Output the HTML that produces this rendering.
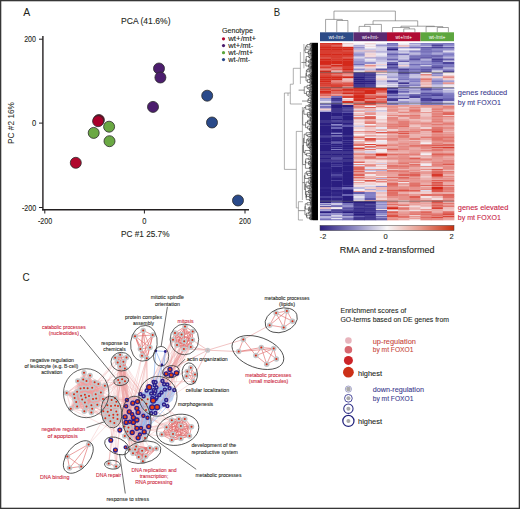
<!DOCTYPE html>
<html><head><meta charset="utf-8"><title>Figure</title>
<style>
html,body{margin:0;padding:0;background:#fff;}
body{width:520px;height:509px;overflow:hidden;}
svg{display:block;font-family:"Liberation Sans", sans-serif;}
</style></head><body>
<svg width="520" height="509" viewBox="0 0 520 509">
<rect x="0" y="0" width="520" height="509" fill="#fff"/>
<text x="23.20" y="15.70" font-size="11.5" fill="#231f20" text-anchor="start" textLength="7.00" lengthAdjust="spacingAndGlyphs">A</text>
<text x="121.00" y="24.30" font-size="9.6" fill="#231f20" text-anchor="start" textLength="49.50" lengthAdjust="spacingAndGlyphs" stroke="#231f20" stroke-width="0.1">PCA (41.6%)</text>
<line x1="42.90" y1="36.00" x2="42.90" y2="210.50" stroke="#231f20" stroke-width="1.4"/>
<line x1="42.20" y1="209.80" x2="249.00" y2="209.80" stroke="#231f20" stroke-width="1.4"/>
<line x1="39.00" y1="39.20" x2="42.90" y2="39.20" stroke="#231f20" stroke-width="1.0"/>
<line x1="39.00" y1="123.10" x2="42.90" y2="123.10" stroke="#231f20" stroke-width="1.0"/>
<line x1="39.00" y1="207.50" x2="42.90" y2="207.50" stroke="#231f20" stroke-width="1.0"/>
<line x1="44.80" y1="209.80" x2="44.80" y2="213.50" stroke="#231f20" stroke-width="1.0"/>
<line x1="144.40" y1="209.80" x2="144.40" y2="213.50" stroke="#231f20" stroke-width="1.0"/>
<line x1="245.00" y1="209.80" x2="245.00" y2="213.50" stroke="#231f20" stroke-width="1.0"/>
<text x="36.00" y="42.00" font-size="8.4" fill="#231f20" text-anchor="end" textLength="11.80" lengthAdjust="spacingAndGlyphs" stroke="#231f20" stroke-width="0.1">200</text>
<text x="36.20" y="126.00" font-size="8.4" fill="#231f20" text-anchor="end" textLength="4.20" lengthAdjust="spacingAndGlyphs" stroke="#231f20" stroke-width="0.1">0</text>
<text x="36.20" y="210.60" font-size="8.4" fill="#231f20" text-anchor="end" textLength="14.20" lengthAdjust="spacingAndGlyphs" stroke="#231f20" stroke-width="0.1">-200</text>
<text x="45.00" y="224.00" font-size="8.4" fill="#231f20" text-anchor="middle" textLength="14.20" lengthAdjust="spacingAndGlyphs" stroke="#231f20" stroke-width="0.1">-200</text>
<text x="144.40" y="224.00" font-size="8.4" fill="#231f20" text-anchor="middle" textLength="4.20" lengthAdjust="spacingAndGlyphs" stroke="#231f20" stroke-width="0.1">0</text>
<text x="245.00" y="224.00" font-size="8.4" fill="#231f20" text-anchor="middle" textLength="11.80" lengthAdjust="spacingAndGlyphs" stroke="#231f20" stroke-width="0.1">200</text>
<text x="121.00" y="237.00" font-size="9.4" fill="#231f20" text-anchor="start" textLength="48.50" lengthAdjust="spacingAndGlyphs" stroke="#231f20" stroke-width="0.1">PC #1 25.7%</text>
<text x="0" y="0" font-size="9.4" fill="#231f20" transform="translate(14.1,144.0) rotate(-90)" textLength="42" lengthAdjust="spacingAndGlyphs">PC #2 16%</text>
<text x="221.90" y="32.50" font-size="6.8" fill="#231f20" text-anchor="start" textLength="31.00" lengthAdjust="spacingAndGlyphs" stroke="#231f20" stroke-width="0.1">Genotype</text>
<circle cx="223.50" cy="38.80" r="1.60" fill="#b0072d" stroke="none" stroke-width="0"/>
<text x="228.20" y="41.20" font-size="7.0" fill="#231f20" text-anchor="start" textLength="28.00" lengthAdjust="spacingAndGlyphs" stroke="#231f20" stroke-width="0.1">wt+/mt+</text>
<circle cx="223.50" cy="45.60" r="1.60" fill="#4a1a6b" stroke="none" stroke-width="0"/>
<text x="228.20" y="48.00" font-size="7.0" fill="#231f20" text-anchor="start" textLength="25.00" lengthAdjust="spacingAndGlyphs" stroke="#231f20" stroke-width="0.1">wt+/mt-</text>
<circle cx="223.50" cy="52.70" r="1.60" fill="#5aa63c" stroke="none" stroke-width="0"/>
<text x="228.20" y="55.10" font-size="7.0" fill="#231f20" text-anchor="start" textLength="25.00" lengthAdjust="spacingAndGlyphs" stroke="#231f20" stroke-width="0.1">wt-/mt+</text>
<circle cx="223.50" cy="59.60" r="1.60" fill="#2a4a8a" stroke="none" stroke-width="0"/>
<text x="228.20" y="62.00" font-size="7.0" fill="#231f20" text-anchor="start" textLength="22.00" lengthAdjust="spacingAndGlyphs" stroke="#231f20" stroke-width="0.1">wt-/mt-</text>
<circle cx="98.90" cy="120.00" r="5.50" fill="#7e0020" stroke="#2b2b2b" stroke-width="0.8"/>
<circle cx="98.10" cy="121.20" r="5.50" fill="#a8002a" stroke="#2b2b2b" stroke-width="0.8"/>
<circle cx="75.80" cy="162.80" r="5.50" fill="#b0072d" stroke="#2b2b2b" stroke-width="0.8"/>
<circle cx="109.10" cy="126.70" r="5.50" fill="#6aa843" stroke="#2b2b2b" stroke-width="0.8"/>
<circle cx="93.70" cy="132.90" r="5.50" fill="#6aa843" stroke="#2b2b2b" stroke-width="0.8"/>
<circle cx="109.50" cy="141.20" r="5.50" fill="#6aa843" stroke="#2b2b2b" stroke-width="0.8"/>
<circle cx="159.00" cy="68.50" r="5.50" fill="#4c1d6e" stroke="#2b2b2b" stroke-width="0.8"/>
<circle cx="160.40" cy="77.50" r="5.50" fill="#4c1d6e" stroke="#2b2b2b" stroke-width="0.8"/>
<circle cx="153.00" cy="106.90" r="5.50" fill="#4c1d6e" stroke="#2b2b2b" stroke-width="0.8"/>
<circle cx="207.20" cy="95.70" r="5.50" fill="#2a4a8a" stroke="#2b2b2b" stroke-width="0.8"/>
<circle cx="212.00" cy="122.50" r="5.50" fill="#2a4a8a" stroke="#2b2b2b" stroke-width="0.8"/>
<circle cx="238.00" cy="200.50" r="5.50" fill="#2a4a8a" stroke="#2b2b2b" stroke-width="0.8"/>
<text x="273.80" y="15.80" font-size="11.5" fill="#231f20" text-anchor="start" textLength="6.40" lengthAdjust="spacingAndGlyphs">B</text>
<path d="M336.75,32.30V20.50H347.92V32.30" fill="none" stroke="#666666" stroke-width="0.6"/>
<path d="M325.58,32.30V19.40H342.33V20.50" fill="none" stroke="#666666" stroke-width="0.6"/>
<path d="M359.08,32.30V26.40H370.25V32.30" fill="none" stroke="#666666" stroke-width="0.6"/>
<path d="M364.67,26.40V24.40H381.42V32.30" fill="none" stroke="#666666" stroke-width="0.6"/>
<path d="M403.75,32.30V28.90H414.92V32.30" fill="none" stroke="#666666" stroke-width="0.6"/>
<path d="M392.58,32.30V27.50H409.33V28.90" fill="none" stroke="#666666" stroke-width="0.6"/>
<path d="M437.25,32.30V27.50H448.42V32.30" fill="none" stroke="#666666" stroke-width="0.6"/>
<path d="M426.08,32.30V26.60H442.83V27.50" fill="none" stroke="#666666" stroke-width="0.6"/>
<path d="M400.96,27.50V26.20H434.46V26.60" fill="none" stroke="#666666" stroke-width="0.6"/>
<path d="M373.04,24.40V20.80H417.71V26.20" fill="none" stroke="#666666" stroke-width="0.6"/>
<path d="M333.96,19.40V11.10H395.38V20.80" fill="none" stroke="#666666" stroke-width="0.6"/>
<rect x="320.00" y="32.3" width="33.50" height="8.9" fill="#2c4b87"/>
<text x="336.75" y="39.00" font-size="5.2" fill="#ffffff" text-anchor="middle" textLength="16.50" lengthAdjust="spacingAndGlyphs" stroke="none">wt-/mt-</text>
<rect x="353.50" y="32.3" width="33.50" height="8.9" fill="#5b2a72"/>
<text x="370.25" y="39.00" font-size="5.2" fill="#ffffff" text-anchor="middle" textLength="16.50" lengthAdjust="spacingAndGlyphs" stroke="none">wt+/mt-</text>
<rect x="387.00" y="32.3" width="33.50" height="8.9" fill="#b00c34"/>
<text x="403.75" y="39.00" font-size="5.2" fill="#ffffff" text-anchor="middle" textLength="16.50" lengthAdjust="spacingAndGlyphs" stroke="none">wt+/mt+</text>
<rect x="420.50" y="32.3" width="33.50" height="8.9" fill="#5da63f"/>
<text x="437.25" y="39.00" font-size="5.2" fill="#ffffff" text-anchor="middle" textLength="16.50" lengthAdjust="spacingAndGlyphs" stroke="none">wt-/mt+</text>
<rect x="320.00" y="43.00" width="11.47" height="1.80" fill="#d63427"/>
<rect x="331.17" y="43.00" width="11.47" height="1.80" fill="#d4281a"/>
<rect x="342.33" y="43.00" width="11.47" height="1.80" fill="#efc9c9"/>
<rect x="353.50" y="43.00" width="11.47" height="1.80" fill="#f6f1f5"/>
<rect x="364.67" y="43.00" width="11.47" height="1.80" fill="#f1d4d5"/>
<rect x="375.83" y="43.00" width="11.47" height="1.80" fill="#ece9f3"/>
<rect x="387.00" y="43.00" width="11.47" height="1.80" fill="#706bb8"/>
<rect x="398.17" y="43.00" width="11.47" height="1.80" fill="#f6f1f5"/>
<rect x="409.33" y="43.00" width="11.47" height="1.80" fill="#9c99d0"/>
<rect x="420.50" y="43.00" width="11.47" height="1.80" fill="#817dc4"/>
<rect x="431.67" y="43.00" width="11.47" height="1.80" fill="#8581c6"/>
<rect x="442.83" y="43.00" width="11.47" height="1.80" fill="#7772bc"/>
<rect x="320.00" y="44.50" width="11.47" height="1.30" fill="#d7382b"/>
<rect x="331.17" y="44.50" width="11.47" height="1.30" fill="#d7392c"/>
<rect x="342.33" y="44.50" width="11.47" height="1.30" fill="#f6f3f7"/>
<rect x="353.50" y="44.50" width="11.47" height="1.30" fill="#dddaec"/>
<rect x="364.67" y="44.50" width="11.47" height="1.30" fill="#f0edf4"/>
<rect x="375.83" y="44.50" width="11.47" height="1.30" fill="#918dcb"/>
<rect x="387.00" y="44.50" width="11.47" height="1.30" fill="#7f7bc3"/>
<rect x="398.17" y="44.50" width="11.47" height="1.30" fill="#e1deee"/>
<rect x="409.33" y="44.50" width="11.47" height="1.30" fill="#e0dded"/>
<rect x="420.50" y="44.50" width="11.47" height="1.30" fill="#8a86c8"/>
<rect x="431.67" y="44.50" width="11.47" height="1.30" fill="#403691"/>
<rect x="442.83" y="44.50" width="11.47" height="1.30" fill="#7f7ac3"/>
<rect x="320.00" y="45.50" width="11.47" height="1.30" fill="#d4281a"/>
<rect x="331.17" y="45.50" width="11.47" height="1.30" fill="#df6960"/>
<rect x="342.33" y="45.50" width="11.47" height="1.30" fill="#f1d6d7"/>
<rect x="353.50" y="45.50" width="11.47" height="1.30" fill="#7c77c0"/>
<rect x="364.67" y="45.50" width="11.47" height="1.30" fill="#f5eef1"/>
<rect x="375.83" y="45.50" width="11.47" height="1.30" fill="#8a86c8"/>
<rect x="387.00" y="45.50" width="11.47" height="1.30" fill="#716bb8"/>
<rect x="398.17" y="45.50" width="11.47" height="1.30" fill="#e89b96"/>
<rect x="409.33" y="45.50" width="11.47" height="1.30" fill="#7a76bf"/>
<rect x="420.50" y="45.50" width="11.47" height="1.30" fill="#8480c6"/>
<rect x="431.67" y="45.50" width="11.47" height="1.30" fill="#332787"/>
<rect x="442.83" y="45.50" width="11.47" height="1.30" fill="#8682c7"/>
<rect x="320.00" y="46.50" width="11.47" height="0.80" fill="#d4281a"/>
<rect x="331.17" y="46.50" width="11.47" height="0.80" fill="#d4281a"/>
<rect x="342.33" y="46.50" width="11.47" height="0.80" fill="#e9a09c"/>
<rect x="353.50" y="46.50" width="11.47" height="0.80" fill="#eae6f2"/>
<rect x="364.67" y="46.50" width="11.47" height="0.80" fill="#f0cfcf"/>
<rect x="375.83" y="46.50" width="11.47" height="0.80" fill="#e0ddee"/>
<rect x="387.00" y="46.50" width="11.47" height="0.80" fill="#c8c4e3"/>
<rect x="398.17" y="46.50" width="11.47" height="0.80" fill="#f4e4e7"/>
<rect x="409.33" y="46.50" width="11.47" height="0.80" fill="#b7b4dc"/>
<rect x="420.50" y="46.50" width="11.47" height="0.80" fill="#e4e1ef"/>
<rect x="431.67" y="46.50" width="11.47" height="0.80" fill="#9894ce"/>
<rect x="442.83" y="46.50" width="11.47" height="0.80" fill="#c7c3e3"/>
<rect x="320.00" y="47.00" width="11.47" height="1.80" fill="#d4281a"/>
<rect x="331.17" y="47.00" width="11.47" height="1.80" fill="#d4281a"/>
<rect x="342.33" y="47.00" width="11.47" height="1.80" fill="#d4281a"/>
<rect x="353.50" y="47.00" width="11.47" height="1.80" fill="#928ecc"/>
<rect x="364.67" y="47.00" width="11.47" height="1.80" fill="#f6f3f7"/>
<rect x="375.83" y="47.00" width="11.47" height="1.80" fill="#d4d1e8"/>
<rect x="387.00" y="47.00" width="11.47" height="1.80" fill="#6b65b4"/>
<rect x="398.17" y="47.00" width="11.47" height="1.80" fill="#9894ce"/>
<rect x="409.33" y="47.00" width="11.47" height="1.80" fill="#716cb8"/>
<rect x="420.50" y="47.00" width="11.47" height="1.80" fill="#5e57a9"/>
<rect x="431.67" y="47.00" width="11.47" height="1.80" fill="#4a4199"/>
<rect x="442.83" y="47.00" width="11.47" height="1.80" fill="#5d56a8"/>
<rect x="320.00" y="48.50" width="11.47" height="2.30" fill="#d4281a"/>
<rect x="331.17" y="48.50" width="11.47" height="2.30" fill="#d4281a"/>
<rect x="342.33" y="48.50" width="11.47" height="2.30" fill="#d4281a"/>
<rect x="353.50" y="48.50" width="11.47" height="2.30" fill="#b9b5dc"/>
<rect x="364.67" y="48.50" width="11.47" height="2.30" fill="#c8c5e3"/>
<rect x="375.83" y="48.50" width="11.47" height="2.30" fill="#d5d2e9"/>
<rect x="387.00" y="48.50" width="11.47" height="2.30" fill="#2c2082"/>
<rect x="398.17" y="48.50" width="11.47" height="2.30" fill="#f0edf5"/>
<rect x="409.33" y="48.50" width="11.47" height="2.30" fill="#ebe8f2"/>
<rect x="420.50" y="48.50" width="11.47" height="2.30" fill="#726db9"/>
<rect x="431.67" y="48.50" width="11.47" height="2.30" fill="#918dcb"/>
<rect x="442.83" y="48.50" width="11.47" height="2.30" fill="#938fcc"/>
<rect x="320.00" y="50.50" width="11.47" height="1.30" fill="#d4281a"/>
<rect x="331.17" y="50.50" width="11.47" height="1.30" fill="#d4281a"/>
<rect x="342.33" y="50.50" width="11.47" height="1.30" fill="#d9463b"/>
<rect x="353.50" y="50.50" width="11.47" height="1.30" fill="#eec4c3"/>
<rect x="364.67" y="50.50" width="11.47" height="1.30" fill="#ecb5b2"/>
<rect x="375.83" y="50.50" width="11.47" height="1.30" fill="#c8c4e3"/>
<rect x="387.00" y="50.50" width="11.47" height="1.30" fill="#9b97d0"/>
<rect x="398.17" y="50.50" width="11.47" height="1.30" fill="#a29ed3"/>
<rect x="409.33" y="50.50" width="11.47" height="1.30" fill="#6f69b6"/>
<rect x="420.50" y="50.50" width="11.47" height="1.30" fill="#6e69b6"/>
<rect x="431.67" y="50.50" width="11.47" height="1.30" fill="#6d67b5"/>
<rect x="442.83" y="50.50" width="11.47" height="1.30" fill="#cfcbe6"/>
<rect x="320.00" y="51.50" width="11.47" height="1.30" fill="#d4281a"/>
<rect x="331.17" y="51.50" width="11.47" height="1.30" fill="#d4281a"/>
<rect x="342.33" y="51.50" width="11.47" height="1.30" fill="#d4281a"/>
<rect x="353.50" y="51.50" width="11.47" height="1.30" fill="#b8b4dc"/>
<rect x="364.67" y="51.50" width="11.47" height="1.30" fill="#afabd8"/>
<rect x="375.83" y="51.50" width="11.47" height="1.30" fill="#9c98d0"/>
<rect x="387.00" y="51.50" width="11.47" height="1.30" fill="#9f9bd1"/>
<rect x="398.17" y="51.50" width="11.47" height="1.30" fill="#c6c3e2"/>
<rect x="409.33" y="51.50" width="11.47" height="1.30" fill="#7e7ac3"/>
<rect x="420.50" y="51.50" width="11.47" height="1.30" fill="#645dae"/>
<rect x="431.67" y="51.50" width="11.47" height="1.30" fill="#6d68b5"/>
<rect x="442.83" y="51.50" width="11.47" height="1.30" fill="#e2dfee"/>
<rect x="320.00" y="52.50" width="11.47" height="1.30" fill="#d4281a"/>
<rect x="331.17" y="52.50" width="11.47" height="1.30" fill="#d63528"/>
<rect x="342.33" y="52.50" width="11.47" height="1.30" fill="#d4281a"/>
<rect x="353.50" y="52.50" width="11.47" height="1.30" fill="#a29ed3"/>
<rect x="364.67" y="52.50" width="11.47" height="1.30" fill="#f1d4d5"/>
<rect x="375.83" y="52.50" width="11.47" height="1.30" fill="#d6d2e9"/>
<rect x="387.00" y="52.50" width="11.47" height="1.30" fill="#8985c8"/>
<rect x="398.17" y="52.50" width="11.47" height="1.30" fill="#d0cce6"/>
<rect x="409.33" y="52.50" width="11.47" height="1.30" fill="#bcb9de"/>
<rect x="420.50" y="52.50" width="11.47" height="1.30" fill="#7773bd"/>
<rect x="431.67" y="52.50" width="11.47" height="1.30" fill="#a9a5d6"/>
<rect x="442.83" y="52.50" width="11.47" height="1.30" fill="#817dc5"/>
<rect x="320.00" y="53.50" width="11.47" height="2.30" fill="#d4281a"/>
<rect x="331.17" y="53.50" width="11.47" height="2.30" fill="#d4281a"/>
<rect x="342.33" y="53.50" width="11.47" height="2.30" fill="#d4281a"/>
<rect x="353.50" y="53.50" width="11.47" height="2.30" fill="#928ecc"/>
<rect x="364.67" y="53.50" width="11.47" height="2.30" fill="#f1d4d5"/>
<rect x="375.83" y="53.50" width="11.47" height="2.30" fill="#ece9f3"/>
<rect x="387.00" y="53.50" width="11.47" height="2.30" fill="#6660b0"/>
<rect x="398.17" y="53.50" width="11.47" height="2.30" fill="#7570bb"/>
<rect x="409.33" y="53.50" width="11.47" height="2.30" fill="#b4b0da"/>
<rect x="420.50" y="53.50" width="11.47" height="2.30" fill="#837fc5"/>
<rect x="431.67" y="53.50" width="11.47" height="2.30" fill="#9e9ad1"/>
<rect x="442.83" y="53.50" width="11.47" height="2.30" fill="#7e7ac3"/>
<rect x="320.00" y="55.50" width="11.47" height="1.30" fill="#d4281a"/>
<rect x="331.17" y="55.50" width="11.47" height="1.30" fill="#d4281a"/>
<rect x="342.33" y="55.50" width="11.47" height="1.30" fill="#d4281a"/>
<rect x="353.50" y="55.50" width="11.47" height="1.30" fill="#918dcb"/>
<rect x="364.67" y="55.50" width="11.47" height="1.30" fill="#f2dadc"/>
<rect x="375.83" y="55.50" width="11.47" height="1.30" fill="#d6d2e9"/>
<rect x="387.00" y="55.50" width="11.47" height="1.30" fill="#918dcb"/>
<rect x="398.17" y="55.50" width="11.47" height="1.30" fill="#f6f2f6"/>
<rect x="409.33" y="55.50" width="11.47" height="1.30" fill="#4c449b"/>
<rect x="420.50" y="55.50" width="11.47" height="1.30" fill="#51499f"/>
<rect x="431.67" y="55.50" width="11.47" height="1.30" fill="#322786"/>
<rect x="442.83" y="55.50" width="11.47" height="1.30" fill="#807cc4"/>
<rect x="320.00" y="56.50" width="11.47" height="1.30" fill="#d4281a"/>
<rect x="331.17" y="56.50" width="11.47" height="1.30" fill="#d4281a"/>
<rect x="342.33" y="56.50" width="11.47" height="1.30" fill="#d7372b"/>
<rect x="353.50" y="56.50" width="11.47" height="1.30" fill="#d4d1e8"/>
<rect x="364.67" y="56.50" width="11.47" height="1.30" fill="#f0cecf"/>
<rect x="375.83" y="56.50" width="11.47" height="1.30" fill="#c3bfe1"/>
<rect x="387.00" y="56.50" width="11.47" height="1.30" fill="#7f7ac3"/>
<rect x="398.17" y="56.50" width="11.47" height="1.30" fill="#9a96cf"/>
<rect x="409.33" y="56.50" width="11.47" height="1.30" fill="#7e7ac3"/>
<rect x="420.50" y="56.50" width="11.47" height="1.30" fill="#7c77c0"/>
<rect x="431.67" y="56.50" width="11.47" height="1.30" fill="#7a76bf"/>
<rect x="442.83" y="56.50" width="11.47" height="1.30" fill="#a8a5d5"/>
<rect x="320.00" y="57.50" width="11.47" height="1.30" fill="#dc554b"/>
<rect x="331.17" y="57.50" width="11.47" height="1.30" fill="#d4281a"/>
<rect x="342.33" y="57.50" width="11.47" height="1.30" fill="#dd5d53"/>
<rect x="353.50" y="57.50" width="11.47" height="1.30" fill="#d3cfe8"/>
<rect x="364.67" y="57.50" width="11.47" height="1.30" fill="#8682c7"/>
<rect x="375.83" y="57.50" width="11.47" height="1.30" fill="#8f8bca"/>
<rect x="387.00" y="57.50" width="11.47" height="1.30" fill="#a8a4d5"/>
<rect x="398.17" y="57.50" width="11.47" height="1.30" fill="#dfdbed"/>
<rect x="409.33" y="57.50" width="11.47" height="1.30" fill="#5f58aa"/>
<rect x="420.50" y="57.50" width="11.47" height="1.30" fill="#3a2f8d"/>
<rect x="431.67" y="57.50" width="11.47" height="1.30" fill="#7873be"/>
<rect x="442.83" y="57.50" width="11.47" height="1.30" fill="#bbb7dd"/>
<rect x="320.00" y="58.50" width="11.47" height="2.30" fill="#d4281a"/>
<rect x="331.17" y="58.50" width="11.47" height="2.30" fill="#d73a2d"/>
<rect x="342.33" y="58.50" width="11.47" height="2.30" fill="#d4281a"/>
<rect x="353.50" y="58.50" width="11.47" height="2.30" fill="#aaa6d6"/>
<rect x="364.67" y="58.50" width="11.47" height="2.30" fill="#ebe8f2"/>
<rect x="375.83" y="58.50" width="11.47" height="2.30" fill="#b5b1db"/>
<rect x="387.00" y="58.50" width="11.47" height="2.30" fill="#6862b1"/>
<rect x="398.17" y="58.50" width="11.47" height="2.30" fill="#b4b0da"/>
<rect x="409.33" y="58.50" width="11.47" height="2.30" fill="#564ea3"/>
<rect x="420.50" y="58.50" width="11.47" height="2.30" fill="#b2afda"/>
<rect x="431.67" y="58.50" width="11.47" height="2.30" fill="#443a94"/>
<rect x="442.83" y="58.50" width="11.47" height="2.30" fill="#625bac"/>
<rect x="320.00" y="60.50" width="11.47" height="1.80" fill="#d4281a"/>
<rect x="331.17" y="60.50" width="11.47" height="1.80" fill="#d4281a"/>
<rect x="342.33" y="60.50" width="11.47" height="1.80" fill="#d4281a"/>
<rect x="353.50" y="60.50" width="11.47" height="1.80" fill="#9692cd"/>
<rect x="364.67" y="60.50" width="11.47" height="1.80" fill="#d0cce6"/>
<rect x="375.83" y="60.50" width="11.47" height="1.80" fill="#c8c4e3"/>
<rect x="387.00" y="60.50" width="11.47" height="1.80" fill="#bebadf"/>
<rect x="398.17" y="60.50" width="11.47" height="1.80" fill="#6760b0"/>
<rect x="409.33" y="60.50" width="11.47" height="1.80" fill="#918dcb"/>
<rect x="420.50" y="60.50" width="11.47" height="1.80" fill="#8b87c9"/>
<rect x="431.67" y="60.50" width="11.47" height="1.80" fill="#544ca2"/>
<rect x="442.83" y="60.50" width="11.47" height="1.80" fill="#c2bee0"/>
<rect x="320.00" y="62.00" width="11.47" height="2.30" fill="#d4281a"/>
<rect x="331.17" y="62.00" width="11.47" height="2.30" fill="#d4281a"/>
<rect x="342.33" y="62.00" width="11.47" height="2.30" fill="#d4281a"/>
<rect x="353.50" y="62.00" width="11.47" height="2.30" fill="#9793ce"/>
<rect x="364.67" y="62.00" width="11.47" height="2.30" fill="#928fcc"/>
<rect x="375.83" y="62.00" width="11.47" height="2.30" fill="#dedbed"/>
<rect x="387.00" y="62.00" width="11.47" height="2.30" fill="#625bac"/>
<rect x="398.17" y="62.00" width="11.47" height="2.30" fill="#d4d1e8"/>
<rect x="409.33" y="62.00" width="11.47" height="2.30" fill="#9c98d0"/>
<rect x="420.50" y="62.00" width="11.47" height="2.30" fill="#9793ce"/>
<rect x="431.67" y="62.00" width="11.47" height="2.30" fill="#7873bd"/>
<rect x="442.83" y="62.00" width="11.47" height="2.30" fill="#4e459c"/>
<rect x="320.00" y="64.00" width="11.47" height="1.30" fill="#d53023"/>
<rect x="331.17" y="64.00" width="11.47" height="1.30" fill="#e06f66"/>
<rect x="342.33" y="64.00" width="11.47" height="1.30" fill="#d4281a"/>
<rect x="353.50" y="64.00" width="11.47" height="1.30" fill="#706bb8"/>
<rect x="364.67" y="64.00" width="11.47" height="1.30" fill="#f1d2d2"/>
<rect x="375.83" y="64.00" width="11.47" height="1.30" fill="#f1d1d1"/>
<rect x="387.00" y="64.00" width="11.47" height="1.30" fill="#3c328e"/>
<rect x="398.17" y="64.00" width="11.47" height="1.30" fill="#c3c0e1"/>
<rect x="409.33" y="64.00" width="11.47" height="1.30" fill="#6e69b6"/>
<rect x="420.50" y="64.00" width="11.47" height="1.30" fill="#7c78c1"/>
<rect x="431.67" y="64.00" width="11.47" height="1.30" fill="#8783c7"/>
<rect x="442.83" y="64.00" width="11.47" height="1.30" fill="#7c78c1"/>
<rect x="320.00" y="65.00" width="11.47" height="1.80" fill="#df645b"/>
<rect x="331.17" y="65.00" width="11.47" height="1.80" fill="#d4281a"/>
<rect x="342.33" y="65.00" width="11.47" height="1.80" fill="#d42a1c"/>
<rect x="353.50" y="65.00" width="11.47" height="1.80" fill="#aca9d7"/>
<rect x="364.67" y="65.00" width="11.47" height="1.80" fill="#e68f89"/>
<rect x="375.83" y="65.00" width="11.47" height="1.80" fill="#d1cde7"/>
<rect x="387.00" y="65.00" width="11.47" height="1.80" fill="#6b65b3"/>
<rect x="398.17" y="65.00" width="11.47" height="1.80" fill="#f1d2d3"/>
<rect x="409.33" y="65.00" width="11.47" height="1.80" fill="#8e8aca"/>
<rect x="420.50" y="65.00" width="11.47" height="1.80" fill="#cecbe6"/>
<rect x="431.67" y="65.00" width="11.47" height="1.80" fill="#6c66b4"/>
<rect x="442.83" y="65.00" width="11.47" height="1.80" fill="#7f7bc3"/>
<rect x="320.00" y="66.50" width="11.47" height="1.30" fill="#d4281a"/>
<rect x="331.17" y="66.50" width="11.47" height="1.30" fill="#d94438"/>
<rect x="342.33" y="66.50" width="11.47" height="1.30" fill="#d4281a"/>
<rect x="353.50" y="66.50" width="11.47" height="1.30" fill="#d0cce6"/>
<rect x="364.67" y="66.50" width="11.47" height="1.30" fill="#f0caca"/>
<rect x="375.83" y="66.50" width="11.47" height="1.30" fill="#f4e5e7"/>
<rect x="387.00" y="66.50" width="11.47" height="1.30" fill="#5b54a7"/>
<rect x="398.17" y="66.50" width="11.47" height="1.30" fill="#aba8d7"/>
<rect x="409.33" y="66.50" width="11.47" height="1.30" fill="#8a87c9"/>
<rect x="420.50" y="66.50" width="11.47" height="1.30" fill="#4f469d"/>
<rect x="431.67" y="66.50" width="11.47" height="1.30" fill="#443b95"/>
<rect x="442.83" y="66.50" width="11.47" height="1.30" fill="#5e57a9"/>
<rect x="320.00" y="67.50" width="11.47" height="1.30" fill="#d4281a"/>
<rect x="331.17" y="67.50" width="11.47" height="1.30" fill="#e27871"/>
<rect x="342.33" y="67.50" width="11.47" height="1.30" fill="#d4281a"/>
<rect x="353.50" y="67.50" width="11.47" height="1.30" fill="#f3dfe1"/>
<rect x="364.67" y="67.50" width="11.47" height="1.30" fill="#f1d2d3"/>
<rect x="375.83" y="67.50" width="11.47" height="1.30" fill="#f1eef5"/>
<rect x="387.00" y="67.50" width="11.47" height="1.30" fill="#302485"/>
<rect x="398.17" y="67.50" width="11.47" height="1.30" fill="#a6a3d5"/>
<rect x="409.33" y="67.50" width="11.47" height="1.30" fill="#8783c7"/>
<rect x="420.50" y="67.50" width="11.47" height="1.30" fill="#8480c6"/>
<rect x="431.67" y="67.50" width="11.47" height="1.30" fill="#3a308d"/>
<rect x="442.83" y="67.50" width="11.47" height="1.30" fill="#c6c2e2"/>
<rect x="320.00" y="68.50" width="11.47" height="2.30" fill="#e58a83"/>
<rect x="331.17" y="68.50" width="11.47" height="2.30" fill="#de6158"/>
<rect x="342.33" y="68.50" width="11.47" height="2.30" fill="#d4281a"/>
<rect x="353.50" y="68.50" width="11.47" height="2.30" fill="#918dcb"/>
<rect x="364.67" y="68.50" width="11.47" height="2.30" fill="#bfbbdf"/>
<rect x="375.83" y="68.50" width="11.47" height="2.30" fill="#5f58aa"/>
<rect x="387.00" y="68.50" width="11.47" height="2.30" fill="#7570bb"/>
<rect x="398.17" y="68.50" width="11.47" height="2.30" fill="#494098"/>
<rect x="409.33" y="68.50" width="11.47" height="2.30" fill="#6d67b5"/>
<rect x="420.50" y="68.50" width="11.47" height="2.30" fill="#5b53a7"/>
<rect x="431.67" y="68.50" width="11.47" height="2.30" fill="#8884c8"/>
<rect x="442.83" y="68.50" width="11.47" height="2.30" fill="#908ccb"/>
<rect x="320.00" y="70.50" width="11.47" height="2.10" fill="#d4281a"/>
<rect x="331.17" y="70.50" width="11.47" height="2.10" fill="#edbdbc"/>
<rect x="342.33" y="70.50" width="11.47" height="2.10" fill="#dc564c"/>
<rect x="353.50" y="70.50" width="11.47" height="2.10" fill="#f5edf0"/>
<rect x="364.67" y="70.50" width="11.47" height="2.10" fill="#eaaaa7"/>
<rect x="375.83" y="70.50" width="11.47" height="2.10" fill="#e99f9b"/>
<rect x="387.00" y="70.50" width="11.47" height="2.10" fill="#a29ed3"/>
<rect x="398.17" y="70.50" width="11.47" height="2.10" fill="#6f69b6"/>
<rect x="409.33" y="70.50" width="11.47" height="2.10" fill="#8581c6"/>
<rect x="420.50" y="70.50" width="11.47" height="2.10" fill="#5d56a8"/>
<rect x="431.67" y="70.50" width="11.47" height="2.10" fill="#e7e4f0"/>
<rect x="442.83" y="70.50" width="11.47" height="2.10" fill="#50479e"/>
<rect x="320.00" y="72.30" width="11.47" height="1.30" fill="#d83f33"/>
<rect x="331.17" y="72.30" width="11.47" height="1.30" fill="#e1726a"/>
<rect x="342.33" y="72.30" width="11.47" height="1.30" fill="#d83e31"/>
<rect x="353.50" y="72.30" width="11.47" height="1.30" fill="#2a1e80"/>
<rect x="364.67" y="72.30" width="11.47" height="1.30" fill="#2a1e80"/>
<rect x="375.83" y="72.30" width="11.47" height="1.30" fill="#f5eaed"/>
<rect x="387.00" y="72.30" width="11.47" height="1.30" fill="#bfbcdf"/>
<rect x="398.17" y="72.30" width="11.47" height="1.30" fill="#332887"/>
<rect x="409.33" y="72.30" width="11.47" height="1.30" fill="#6059ab"/>
<rect x="420.50" y="72.30" width="11.47" height="1.30" fill="#efc7c6"/>
<rect x="431.67" y="72.30" width="11.47" height="1.30" fill="#a8a4d5"/>
<rect x="442.83" y="72.30" width="11.47" height="1.30" fill="#f4f1f6"/>
<rect x="320.00" y="73.30" width="11.47" height="1.30" fill="#d4281a"/>
<rect x="331.17" y="73.30" width="11.47" height="1.30" fill="#d4281a"/>
<rect x="342.33" y="73.30" width="11.47" height="1.30" fill="#e17067"/>
<rect x="353.50" y="73.30" width="11.47" height="1.30" fill="#2a1e80"/>
<rect x="364.67" y="73.30" width="11.47" height="1.30" fill="#3d338f"/>
<rect x="375.83" y="73.30" width="11.47" height="1.30" fill="#f1d3d4"/>
<rect x="387.00" y="73.30" width="11.47" height="1.30" fill="#b2afda"/>
<rect x="398.17" y="73.30" width="11.47" height="1.30" fill="#3d338f"/>
<rect x="409.33" y="73.30" width="11.47" height="1.30" fill="#6660b0"/>
<rect x="420.50" y="73.30" width="11.47" height="1.30" fill="#e9e6f1"/>
<rect x="431.67" y="73.30" width="11.47" height="1.30" fill="#5f58aa"/>
<rect x="442.83" y="73.30" width="11.47" height="1.30" fill="#f3e0e2"/>
<rect x="320.00" y="74.30" width="11.47" height="1.30" fill="#d83d30"/>
<rect x="331.17" y="74.30" width="11.47" height="1.30" fill="#e2766e"/>
<rect x="342.33" y="74.30" width="11.47" height="1.30" fill="#e58983"/>
<rect x="353.50" y="74.30" width="11.47" height="1.30" fill="#2a1e80"/>
<rect x="364.67" y="74.30" width="11.47" height="1.30" fill="#2a1e80"/>
<rect x="375.83" y="74.30" width="11.47" height="1.30" fill="#9591cd"/>
<rect x="387.00" y="74.30" width="11.47" height="1.30" fill="#bfbcdf"/>
<rect x="398.17" y="74.30" width="11.47" height="1.30" fill="#7f7bc3"/>
<rect x="409.33" y="74.30" width="11.47" height="1.30" fill="#d0cde7"/>
<rect x="420.50" y="74.30" width="11.47" height="1.30" fill="#dc564b"/>
<rect x="431.67" y="74.30" width="11.47" height="1.30" fill="#aeabd8"/>
<rect x="442.83" y="74.30" width="11.47" height="1.30" fill="#f1eef5"/>
<rect x="320.00" y="75.30" width="11.47" height="1.30" fill="#d4281a"/>
<rect x="331.17" y="75.30" width="11.47" height="1.30" fill="#d94438"/>
<rect x="342.33" y="75.30" width="11.47" height="1.30" fill="#e6908a"/>
<rect x="353.50" y="75.30" width="11.47" height="1.30" fill="#2a1e80"/>
<rect x="364.67" y="75.30" width="11.47" height="1.30" fill="#2a1e80"/>
<rect x="375.83" y="75.30" width="11.47" height="1.30" fill="#e0dded"/>
<rect x="387.00" y="75.30" width="11.47" height="1.30" fill="#b4b1db"/>
<rect x="398.17" y="75.30" width="11.47" height="1.30" fill="#746fba"/>
<rect x="409.33" y="75.30" width="11.47" height="1.30" fill="#b7b4dc"/>
<rect x="420.50" y="75.30" width="11.47" height="1.30" fill="#ecb4b1"/>
<rect x="431.67" y="75.30" width="11.47" height="1.30" fill="#7c78c1"/>
<rect x="442.83" y="75.30" width="11.47" height="1.30" fill="#eebfbe"/>
<rect x="320.00" y="76.30" width="11.47" height="2.30" fill="#d4281a"/>
<rect x="331.17" y="76.30" width="11.47" height="2.30" fill="#d4281a"/>
<rect x="342.33" y="76.30" width="11.47" height="2.30" fill="#d4281a"/>
<rect x="353.50" y="76.30" width="11.47" height="2.30" fill="#2a1e80"/>
<rect x="364.67" y="76.30" width="11.47" height="2.30" fill="#413792"/>
<rect x="375.83" y="76.30" width="11.47" height="2.30" fill="#f3e2e4"/>
<rect x="387.00" y="76.30" width="11.47" height="2.30" fill="#a19dd2"/>
<rect x="398.17" y="76.30" width="11.47" height="2.30" fill="#8783c7"/>
<rect x="409.33" y="76.30" width="11.47" height="2.30" fill="#c6c3e2"/>
<rect x="420.50" y="76.30" width="11.47" height="2.30" fill="#efc9c9"/>
<rect x="431.67" y="76.30" width="11.47" height="2.30" fill="#f0d0d1"/>
<rect x="442.83" y="76.30" width="11.47" height="2.30" fill="#e58a84"/>
<rect x="320.00" y="78.30" width="11.47" height="2.30" fill="#d52c1f"/>
<rect x="331.17" y="78.30" width="11.47" height="2.30" fill="#d4291b"/>
<rect x="342.33" y="78.30" width="11.47" height="2.30" fill="#eebfbe"/>
<rect x="353.50" y="78.30" width="11.47" height="2.30" fill="#2a1e80"/>
<rect x="364.67" y="78.30" width="11.47" height="2.30" fill="#453c96"/>
<rect x="375.83" y="78.30" width="11.47" height="2.30" fill="#f0d0d1"/>
<rect x="387.00" y="78.30" width="11.47" height="2.30" fill="#d4d0e8"/>
<rect x="398.17" y="78.30" width="11.47" height="2.30" fill="#7772bd"/>
<rect x="409.33" y="78.30" width="11.47" height="2.30" fill="#8581c6"/>
<rect x="420.50" y="78.30" width="11.47" height="2.30" fill="#e2766e"/>
<rect x="431.67" y="78.30" width="11.47" height="2.30" fill="#a4a0d4"/>
<rect x="442.83" y="78.30" width="11.47" height="2.30" fill="#f0cccc"/>
<rect x="320.00" y="80.30" width="11.47" height="2.30" fill="#d4281a"/>
<rect x="331.17" y="80.30" width="11.47" height="2.30" fill="#e58781"/>
<rect x="342.33" y="80.30" width="11.47" height="2.30" fill="#eaa8a4"/>
<rect x="353.50" y="80.30" width="11.47" height="2.30" fill="#2a1e80"/>
<rect x="364.67" y="80.30" width="11.47" height="2.30" fill="#2a1e80"/>
<rect x="375.83" y="80.30" width="11.47" height="2.30" fill="#c4c1e1"/>
<rect x="387.00" y="80.30" width="11.47" height="2.30" fill="#635dad"/>
<rect x="398.17" y="80.30" width="11.47" height="2.30" fill="#a9a6d6"/>
<rect x="409.33" y="80.30" width="11.47" height="2.30" fill="#7f7bc4"/>
<rect x="420.50" y="80.30" width="11.47" height="2.30" fill="#e89d98"/>
<rect x="431.67" y="80.30" width="11.47" height="2.30" fill="#7b77c0"/>
<rect x="442.83" y="80.30" width="11.47" height="2.30" fill="#a09cd2"/>
<rect x="320.00" y="82.30" width="11.47" height="2.30" fill="#d73a2e"/>
<rect x="331.17" y="82.30" width="11.47" height="2.30" fill="#de5e55"/>
<rect x="342.33" y="82.30" width="11.47" height="2.30" fill="#dc574d"/>
<rect x="353.50" y="82.30" width="11.47" height="2.30" fill="#2a1e80"/>
<rect x="364.67" y="82.30" width="11.47" height="2.30" fill="#322787"/>
<rect x="375.83" y="82.30" width="11.47" height="2.30" fill="#d3d0e8"/>
<rect x="387.00" y="82.30" width="11.47" height="2.30" fill="#b9b6dd"/>
<rect x="398.17" y="82.30" width="11.47" height="2.30" fill="#3e3490"/>
<rect x="409.33" y="82.30" width="11.47" height="2.30" fill="#a39fd3"/>
<rect x="420.50" y="82.30" width="11.47" height="2.30" fill="#edbdbc"/>
<rect x="431.67" y="82.30" width="11.47" height="2.30" fill="#9592cd"/>
<rect x="442.83" y="82.30" width="11.47" height="2.30" fill="#e79691"/>
<rect x="320.00" y="84.30" width="11.47" height="1.30" fill="#d52b1d"/>
<rect x="331.17" y="84.30" width="11.47" height="1.30" fill="#d4281a"/>
<rect x="342.33" y="84.30" width="11.47" height="1.30" fill="#d83f33"/>
<rect x="353.50" y="84.30" width="11.47" height="1.30" fill="#2a1e80"/>
<rect x="364.67" y="84.30" width="11.47" height="1.30" fill="#362b8a"/>
<rect x="375.83" y="84.30" width="11.47" height="1.30" fill="#d3d0e8"/>
<rect x="387.00" y="84.30" width="11.47" height="1.30" fill="#e8e5f1"/>
<rect x="398.17" y="84.30" width="11.47" height="1.30" fill="#b7b3dc"/>
<rect x="409.33" y="84.30" width="11.47" height="1.30" fill="#7b77c0"/>
<rect x="420.50" y="84.30" width="11.47" height="1.30" fill="#eaa8a4"/>
<rect x="431.67" y="84.30" width="11.47" height="1.30" fill="#aca8d7"/>
<rect x="442.83" y="84.30" width="11.47" height="1.30" fill="#d8d4ea"/>
<rect x="320.00" y="85.30" width="11.47" height="1.30" fill="#d4281a"/>
<rect x="331.17" y="85.30" width="11.47" height="1.30" fill="#d4281a"/>
<rect x="342.33" y="85.30" width="11.47" height="1.30" fill="#d52d1f"/>
<rect x="353.50" y="85.30" width="11.47" height="1.30" fill="#2a1e80"/>
<rect x="364.67" y="85.30" width="11.47" height="1.30" fill="#362b89"/>
<rect x="375.83" y="85.30" width="11.47" height="1.30" fill="#f4e9ec"/>
<rect x="387.00" y="85.30" width="11.47" height="1.30" fill="#b2aed9"/>
<rect x="398.17" y="85.30" width="11.47" height="1.30" fill="#483e97"/>
<rect x="409.33" y="85.30" width="11.47" height="1.30" fill="#6f69b6"/>
<rect x="420.50" y="85.30" width="11.47" height="1.30" fill="#f0cece"/>
<rect x="431.67" y="85.30" width="11.47" height="1.30" fill="#c2bfe1"/>
<rect x="442.83" y="85.30" width="11.47" height="1.30" fill="#f5ebef"/>
<rect x="320.00" y="86.30" width="11.47" height="1.30" fill="#da483c"/>
<rect x="331.17" y="86.30" width="11.47" height="1.30" fill="#d4281a"/>
<rect x="342.33" y="86.30" width="11.47" height="1.30" fill="#e58780"/>
<rect x="353.50" y="86.30" width="11.47" height="1.30" fill="#2a1e80"/>
<rect x="364.67" y="86.30" width="11.47" height="1.30" fill="#3b308d"/>
<rect x="375.83" y="86.30" width="11.47" height="1.30" fill="#f4e7ea"/>
<rect x="387.00" y="86.30" width="11.47" height="1.30" fill="#e0ddee"/>
<rect x="398.17" y="86.30" width="11.47" height="1.30" fill="#7772bd"/>
<rect x="409.33" y="86.30" width="11.47" height="1.30" fill="#d0cce6"/>
<rect x="420.50" y="86.30" width="11.47" height="1.30" fill="#ecb3b0"/>
<rect x="431.67" y="86.30" width="11.47" height="1.30" fill="#bdbade"/>
<rect x="442.83" y="86.30" width="11.47" height="1.30" fill="#f4e4e6"/>
<rect x="320.00" y="87.30" width="11.47" height="0.70" fill="#d52e20"/>
<rect x="331.17" y="87.30" width="11.47" height="0.70" fill="#d4281a"/>
<rect x="342.33" y="87.30" width="11.47" height="0.70" fill="#e99e9a"/>
<rect x="353.50" y="87.30" width="11.47" height="0.70" fill="#2a1e80"/>
<rect x="364.67" y="87.30" width="11.47" height="0.70" fill="#2a1e80"/>
<rect x="375.83" y="87.30" width="11.47" height="0.70" fill="#ebe8f2"/>
<rect x="387.00" y="87.30" width="11.47" height="0.70" fill="#a6a2d4"/>
<rect x="398.17" y="87.30" width="11.47" height="0.70" fill="#3f3590"/>
<rect x="409.33" y="87.30" width="11.47" height="0.70" fill="#9a96cf"/>
<rect x="420.50" y="87.30" width="11.47" height="0.70" fill="#e4817a"/>
<rect x="431.67" y="87.30" width="11.47" height="0.70" fill="#bdb9de"/>
<rect x="442.83" y="87.30" width="11.47" height="0.70" fill="#d9d6ea"/>
<rect x="320.00" y="87.70" width="11.47" height="1.30" fill="#e06b63"/>
<rect x="331.17" y="87.70" width="11.47" height="1.30" fill="#e06c63"/>
<rect x="342.33" y="87.70" width="11.47" height="1.30" fill="#e27870"/>
<rect x="353.50" y="87.70" width="11.47" height="1.30" fill="#d4281a"/>
<rect x="364.67" y="87.70" width="11.47" height="1.30" fill="#d4281a"/>
<rect x="375.83" y="87.70" width="11.47" height="1.30" fill="#d52e21"/>
<rect x="387.00" y="87.70" width="11.47" height="1.30" fill="#2a1e80"/>
<rect x="398.17" y="87.70" width="11.47" height="1.30" fill="#bcb8de"/>
<rect x="409.33" y="87.70" width="11.47" height="1.30" fill="#8783c7"/>
<rect x="420.50" y="87.70" width="11.47" height="1.30" fill="#716cb8"/>
<rect x="431.67" y="87.70" width="11.47" height="1.30" fill="#a5a2d4"/>
<rect x="442.83" y="87.70" width="11.47" height="1.30" fill="#7f7bc4"/>
<rect x="320.00" y="88.70" width="11.47" height="1.30" fill="#d4281a"/>
<rect x="331.17" y="88.70" width="11.47" height="1.30" fill="#e37b73"/>
<rect x="342.33" y="88.70" width="11.47" height="1.30" fill="#d52d20"/>
<rect x="353.50" y="88.70" width="11.47" height="1.30" fill="#d94337"/>
<rect x="364.67" y="88.70" width="11.47" height="1.30" fill="#dc564c"/>
<rect x="375.83" y="88.70" width="11.47" height="1.30" fill="#d4281a"/>
<rect x="387.00" y="88.70" width="11.47" height="1.30" fill="#8682c7"/>
<rect x="398.17" y="88.70" width="11.47" height="1.30" fill="#7975bf"/>
<rect x="409.33" y="88.70" width="11.47" height="1.30" fill="#c6c3e2"/>
<rect x="420.50" y="88.70" width="11.47" height="1.30" fill="#423893"/>
<rect x="431.67" y="88.70" width="11.47" height="1.30" fill="#5f58aa"/>
<rect x="442.83" y="88.70" width="11.47" height="1.30" fill="#f2eff5"/>
<rect x="320.00" y="89.70" width="11.47" height="1.30" fill="#e2776f"/>
<rect x="331.17" y="89.70" width="11.47" height="1.30" fill="#d42a1c"/>
<rect x="342.33" y="89.70" width="11.47" height="1.30" fill="#d4281a"/>
<rect x="353.50" y="89.70" width="11.47" height="1.30" fill="#d4281a"/>
<rect x="364.67" y="89.70" width="11.47" height="1.30" fill="#d4291b"/>
<rect x="375.83" y="89.70" width="11.47" height="1.30" fill="#d94438"/>
<rect x="387.00" y="89.70" width="11.47" height="1.30" fill="#5850a4"/>
<rect x="398.17" y="89.70" width="11.47" height="1.30" fill="#b5b2db"/>
<rect x="409.33" y="89.70" width="11.47" height="1.30" fill="#9f9bd1"/>
<rect x="420.50" y="89.70" width="11.47" height="1.30" fill="#716bb8"/>
<rect x="431.67" y="89.70" width="11.47" height="1.30" fill="#a6a2d4"/>
<rect x="442.83" y="89.70" width="11.47" height="1.30" fill="#bbb8de"/>
<rect x="320.00" y="90.70" width="11.47" height="2.30" fill="#d4281a"/>
<rect x="331.17" y="90.70" width="11.47" height="2.30" fill="#e06a61"/>
<rect x="342.33" y="90.70" width="11.47" height="2.30" fill="#de5f55"/>
<rect x="353.50" y="90.70" width="11.47" height="2.30" fill="#da4d42"/>
<rect x="364.67" y="90.70" width="11.47" height="2.30" fill="#d4281a"/>
<rect x="375.83" y="90.70" width="11.47" height="2.30" fill="#de6057"/>
<rect x="387.00" y="90.70" width="11.47" height="2.30" fill="#2a1e80"/>
<rect x="398.17" y="90.70" width="11.47" height="2.30" fill="#6a64b2"/>
<rect x="409.33" y="90.70" width="11.47" height="2.30" fill="#a8a5d5"/>
<rect x="420.50" y="90.70" width="11.47" height="2.30" fill="#918dcb"/>
<rect x="431.67" y="90.70" width="11.47" height="2.30" fill="#9793ce"/>
<rect x="442.83" y="90.70" width="11.47" height="2.30" fill="#bfbcdf"/>
<rect x="320.00" y="92.70" width="11.47" height="1.80" fill="#da4d41"/>
<rect x="331.17" y="92.70" width="11.47" height="1.80" fill="#df6960"/>
<rect x="342.33" y="92.70" width="11.47" height="1.80" fill="#d4281a"/>
<rect x="353.50" y="92.70" width="11.47" height="1.80" fill="#d52e21"/>
<rect x="364.67" y="92.70" width="11.47" height="1.80" fill="#d4281a"/>
<rect x="375.83" y="92.70" width="11.47" height="1.80" fill="#e9a3a0"/>
<rect x="387.00" y="92.70" width="11.47" height="1.80" fill="#4f469d"/>
<rect x="398.17" y="92.70" width="11.47" height="1.80" fill="#c2bee0"/>
<rect x="409.33" y="92.70" width="11.47" height="1.80" fill="#cecbe6"/>
<rect x="420.50" y="92.70" width="11.47" height="1.80" fill="#574fa4"/>
<rect x="431.67" y="92.70" width="11.47" height="1.80" fill="#615aac"/>
<rect x="442.83" y="92.70" width="11.47" height="1.80" fill="#8682c7"/>
<rect x="320.00" y="94.20" width="11.47" height="1.80" fill="#df6960"/>
<rect x="331.17" y="94.20" width="11.47" height="1.80" fill="#e89c97"/>
<rect x="342.33" y="94.20" width="11.47" height="1.80" fill="#e58b85"/>
<rect x="353.50" y="94.20" width="11.47" height="1.80" fill="#d63225"/>
<rect x="364.67" y="94.20" width="11.47" height="1.80" fill="#e48179"/>
<rect x="375.83" y="94.20" width="11.47" height="1.80" fill="#e58780"/>
<rect x="387.00" y="94.20" width="11.47" height="1.80" fill="#7974be"/>
<rect x="398.17" y="94.20" width="11.47" height="1.80" fill="#8b87c9"/>
<rect x="409.33" y="94.20" width="11.47" height="1.80" fill="#5951a5"/>
<rect x="420.50" y="94.20" width="11.47" height="1.80" fill="#5c55a8"/>
<rect x="431.67" y="94.20" width="11.47" height="1.80" fill="#403692"/>
<rect x="442.83" y="94.20" width="11.47" height="1.80" fill="#736eba"/>
<rect x="320.00" y="95.70" width="11.47" height="0.60" fill="#df645b"/>
<rect x="331.17" y="95.70" width="11.47" height="0.60" fill="#da483d"/>
<rect x="342.33" y="95.70" width="11.47" height="0.60" fill="#e2766e"/>
<rect x="353.50" y="95.70" width="11.47" height="0.60" fill="#d4281a"/>
<rect x="364.67" y="95.70" width="11.47" height="0.60" fill="#d83e31"/>
<rect x="375.83" y="95.70" width="11.47" height="0.60" fill="#e06b62"/>
<rect x="387.00" y="95.70" width="11.47" height="0.60" fill="#2a1e80"/>
<rect x="398.17" y="95.70" width="11.47" height="0.60" fill="#6761b0"/>
<rect x="409.33" y="95.70" width="11.47" height="0.60" fill="#7671bc"/>
<rect x="420.50" y="95.70" width="11.47" height="0.60" fill="#574fa4"/>
<rect x="431.67" y="95.70" width="11.47" height="0.60" fill="#635cad"/>
<rect x="442.83" y="95.70" width="11.47" height="0.60" fill="#8e8bca"/>
<rect x="320.00" y="96.00" width="11.47" height="2.30" fill="#e9a09c"/>
<rect x="331.17" y="96.00" width="11.47" height="2.30" fill="#6f6ab7"/>
<rect x="342.33" y="96.00" width="11.47" height="2.30" fill="#d83e32"/>
<rect x="353.50" y="96.00" width="11.47" height="2.30" fill="#d4281a"/>
<rect x="364.67" y="96.00" width="11.47" height="2.30" fill="#de5e54"/>
<rect x="375.83" y="96.00" width="11.47" height="2.30" fill="#da4c41"/>
<rect x="387.00" y="96.00" width="11.47" height="2.30" fill="#9490cd"/>
<rect x="398.17" y="96.00" width="11.47" height="2.30" fill="#a7a3d5"/>
<rect x="409.33" y="96.00" width="11.47" height="2.30" fill="#4d449c"/>
<rect x="420.50" y="96.00" width="11.47" height="2.30" fill="#706bb8"/>
<rect x="431.67" y="96.00" width="11.47" height="2.30" fill="#807cc4"/>
<rect x="442.83" y="96.00" width="11.47" height="2.30" fill="#7a75bf"/>
<rect x="320.00" y="98.00" width="11.47" height="1.30" fill="#9390cc"/>
<rect x="331.17" y="98.00" width="11.47" height="1.30" fill="#3d328f"/>
<rect x="342.33" y="98.00" width="11.47" height="1.30" fill="#f4e7ea"/>
<rect x="353.50" y="98.00" width="11.47" height="1.30" fill="#d84034"/>
<rect x="364.67" y="98.00" width="11.47" height="1.30" fill="#d63528"/>
<rect x="375.83" y="98.00" width="11.47" height="1.30" fill="#e89c98"/>
<rect x="387.00" y="98.00" width="11.47" height="1.30" fill="#534aa0"/>
<rect x="398.17" y="98.00" width="11.47" height="1.30" fill="#4d449c"/>
<rect x="409.33" y="98.00" width="11.47" height="1.30" fill="#c5c1e2"/>
<rect x="420.50" y="98.00" width="11.47" height="1.30" fill="#473e97"/>
<rect x="431.67" y="98.00" width="11.47" height="1.30" fill="#7a75bf"/>
<rect x="442.83" y="98.00" width="11.47" height="1.30" fill="#6b65b3"/>
<rect x="320.00" y="99.00" width="11.47" height="2.30" fill="#afacd8"/>
<rect x="331.17" y="99.00" width="11.47" height="2.30" fill="#473e97"/>
<rect x="342.33" y="99.00" width="11.47" height="2.30" fill="#efc8c8"/>
<rect x="353.50" y="99.00" width="11.47" height="2.30" fill="#d52d1f"/>
<rect x="364.67" y="99.00" width="11.47" height="2.30" fill="#e4857e"/>
<rect x="375.83" y="99.00" width="11.47" height="2.30" fill="#e37d76"/>
<rect x="387.00" y="99.00" width="11.47" height="2.30" fill="#423893"/>
<rect x="398.17" y="99.00" width="11.47" height="2.30" fill="#cecae6"/>
<rect x="409.33" y="99.00" width="11.47" height="2.30" fill="#bebadf"/>
<rect x="420.50" y="99.00" width="11.47" height="2.30" fill="#493f98"/>
<rect x="431.67" y="99.00" width="11.47" height="2.30" fill="#382d8b"/>
<rect x="442.83" y="99.00" width="11.47" height="2.30" fill="#645dae"/>
<rect x="320.00" y="101.00" width="11.47" height="2.30" fill="#e4e1ef"/>
<rect x="331.17" y="101.00" width="11.47" height="2.30" fill="#736eba"/>
<rect x="342.33" y="101.00" width="11.47" height="2.30" fill="#d63123"/>
<rect x="353.50" y="101.00" width="11.47" height="2.30" fill="#e4827b"/>
<rect x="364.67" y="101.00" width="11.47" height="2.30" fill="#d7372a"/>
<rect x="375.83" y="101.00" width="11.47" height="2.30" fill="#dd594f"/>
<rect x="387.00" y="101.00" width="11.47" height="2.30" fill="#aeabd8"/>
<rect x="398.17" y="101.00" width="11.47" height="2.30" fill="#9995cf"/>
<rect x="409.33" y="101.00" width="11.47" height="2.30" fill="#b1add9"/>
<rect x="420.50" y="101.00" width="11.47" height="2.30" fill="#746eba"/>
<rect x="431.67" y="101.00" width="11.47" height="2.30" fill="#8a86c8"/>
<rect x="442.83" y="101.00" width="11.47" height="2.30" fill="#d4d1e8"/>
<rect x="320.00" y="103.00" width="11.47" height="0.60" fill="#cac7e4"/>
<rect x="331.17" y="103.00" width="11.47" height="0.60" fill="#716cb8"/>
<rect x="342.33" y="103.00" width="11.47" height="0.60" fill="#f0d0d0"/>
<rect x="353.50" y="103.00" width="11.47" height="0.60" fill="#e1746c"/>
<rect x="364.67" y="103.00" width="11.47" height="0.60" fill="#dd5b51"/>
<rect x="375.83" y="103.00" width="11.47" height="0.60" fill="#e89b96"/>
<rect x="387.00" y="103.00" width="11.47" height="0.60" fill="#433994"/>
<rect x="398.17" y="103.00" width="11.47" height="0.60" fill="#a19ed2"/>
<rect x="409.33" y="103.00" width="11.47" height="0.60" fill="#7d79c2"/>
<rect x="420.50" y="103.00" width="11.47" height="0.60" fill="#bfbcdf"/>
<rect x="431.67" y="103.00" width="11.47" height="0.60" fill="#8581c6"/>
<rect x="442.83" y="103.00" width="11.47" height="0.60" fill="#9390cc"/>
<rect x="320.00" y="103.30" width="11.47" height="1.30" fill="#7d79c2"/>
<rect x="331.17" y="103.30" width="11.47" height="1.30" fill="#2e2283"/>
<rect x="342.33" y="103.30" width="11.47" height="1.30" fill="#f2dadc"/>
<rect x="353.50" y="103.30" width="11.47" height="1.30" fill="#e06e65"/>
<rect x="364.67" y="103.30" width="11.47" height="1.30" fill="#d73629"/>
<rect x="375.83" y="103.30" width="11.47" height="1.30" fill="#e89893"/>
<rect x="387.00" y="103.30" width="11.47" height="1.30" fill="#817dc4"/>
<rect x="398.17" y="103.30" width="11.47" height="1.30" fill="#c6c2e2"/>
<rect x="409.33" y="103.30" width="11.47" height="1.30" fill="#e0ddee"/>
<rect x="420.50" y="103.30" width="11.47" height="1.30" fill="#6a64b2"/>
<rect x="431.67" y="103.30" width="11.47" height="1.30" fill="#665faf"/>
<rect x="442.83" y="103.30" width="11.47" height="1.30" fill="#9d99d0"/>
<rect x="320.00" y="104.30" width="11.47" height="1.00" fill="#5c55a8"/>
<rect x="331.17" y="104.30" width="11.47" height="1.00" fill="#2a1e80"/>
<rect x="342.33" y="104.30" width="11.47" height="1.00" fill="#e58b85"/>
<rect x="353.50" y="104.30" width="11.47" height="1.00" fill="#d4281a"/>
<rect x="364.67" y="104.30" width="11.47" height="1.00" fill="#d83d30"/>
<rect x="375.83" y="104.30" width="11.47" height="1.00" fill="#e58882"/>
<rect x="387.00" y="104.30" width="11.47" height="1.00" fill="#615aab"/>
<rect x="398.17" y="104.30" width="11.47" height="1.00" fill="#9692ce"/>
<rect x="409.33" y="104.30" width="11.47" height="1.00" fill="#a6a2d4"/>
<rect x="420.50" y="104.30" width="11.47" height="1.00" fill="#6760b0"/>
<rect x="431.67" y="104.30" width="11.47" height="1.00" fill="#716bb8"/>
<rect x="442.83" y="104.30" width="11.47" height="1.00" fill="#8c88c9"/>
<rect x="320.00" y="105.00" width="11.47" height="1.30" fill="#b8b4dc"/>
<rect x="331.17" y="105.00" width="11.47" height="1.30" fill="#2a1e80"/>
<rect x="342.33" y="105.00" width="11.47" height="1.30" fill="#2a1e80"/>
<rect x="353.50" y="105.00" width="11.47" height="1.30" fill="#e89a95"/>
<rect x="364.67" y="105.00" width="11.47" height="1.30" fill="#edb8b6"/>
<rect x="375.83" y="105.00" width="11.47" height="1.30" fill="#ebaca9"/>
<rect x="387.00" y="105.00" width="11.47" height="1.30" fill="#e9a29e"/>
<rect x="398.17" y="105.00" width="11.47" height="1.30" fill="#e89894"/>
<rect x="409.33" y="105.00" width="11.47" height="1.30" fill="#e99f9b"/>
<rect x="420.50" y="105.00" width="11.47" height="1.30" fill="#e7928d"/>
<rect x="431.67" y="105.00" width="11.47" height="1.30" fill="#e68e88"/>
<rect x="442.83" y="105.00" width="11.47" height="1.30" fill="#ebaca9"/>
<rect x="320.00" y="106.00" width="11.47" height="1.30" fill="#736eba"/>
<rect x="331.17" y="106.00" width="11.47" height="1.30" fill="#2a1e80"/>
<rect x="342.33" y="106.00" width="11.47" height="1.30" fill="#2a1e80"/>
<rect x="353.50" y="106.00" width="11.47" height="1.30" fill="#e4827b"/>
<rect x="364.67" y="106.00" width="11.47" height="1.30" fill="#efecf4"/>
<rect x="375.83" y="106.00" width="11.47" height="1.30" fill="#e68d87"/>
<rect x="387.00" y="106.00" width="11.47" height="1.30" fill="#e68e88"/>
<rect x="398.17" y="106.00" width="11.47" height="1.30" fill="#e99f9b"/>
<rect x="409.33" y="106.00" width="11.47" height="1.30" fill="#e9a39f"/>
<rect x="420.50" y="106.00" width="11.47" height="1.30" fill="#e89a96"/>
<rect x="431.67" y="106.00" width="11.47" height="1.30" fill="#e89a95"/>
<rect x="442.83" y="106.00" width="11.47" height="1.30" fill="#e37f78"/>
<rect x="320.00" y="107.00" width="11.47" height="1.80" fill="#7772bd"/>
<rect x="331.17" y="107.00" width="11.47" height="1.80" fill="#2a1e80"/>
<rect x="342.33" y="107.00" width="11.47" height="1.80" fill="#4c439b"/>
<rect x="353.50" y="107.00" width="11.47" height="1.80" fill="#e5867f"/>
<rect x="364.67" y="107.00" width="11.47" height="1.80" fill="#de5f55"/>
<rect x="375.83" y="107.00" width="11.47" height="1.80" fill="#f0cbcb"/>
<rect x="387.00" y="107.00" width="11.47" height="1.80" fill="#e7938e"/>
<rect x="398.17" y="107.00" width="11.47" height="1.80" fill="#efc4c3"/>
<rect x="409.33" y="107.00" width="11.47" height="1.80" fill="#e4857e"/>
<rect x="420.50" y="107.00" width="11.47" height="1.80" fill="#eaa9a5"/>
<rect x="431.67" y="107.00" width="11.47" height="1.80" fill="#e89a95"/>
<rect x="442.83" y="107.00" width="11.47" height="1.80" fill="#e4857e"/>
<rect x="320.00" y="108.50" width="11.47" height="1.30" fill="#f0cece"/>
<rect x="331.17" y="108.50" width="11.47" height="1.30" fill="#2a1e80"/>
<rect x="342.33" y="108.50" width="11.47" height="1.30" fill="#322686"/>
<rect x="353.50" y="108.50" width="11.47" height="1.30" fill="#eec4c3"/>
<rect x="364.67" y="108.50" width="11.47" height="1.30" fill="#f4f1f6"/>
<rect x="375.83" y="108.50" width="11.47" height="1.30" fill="#f4f1f6"/>
<rect x="387.00" y="108.50" width="11.47" height="1.30" fill="#e79792"/>
<rect x="398.17" y="108.50" width="11.47" height="1.30" fill="#e6918b"/>
<rect x="409.33" y="108.50" width="11.47" height="1.30" fill="#e89a96"/>
<rect x="420.50" y="108.50" width="11.47" height="1.30" fill="#f5f2f7"/>
<rect x="431.67" y="108.50" width="11.47" height="1.30" fill="#e06c63"/>
<rect x="442.83" y="108.50" width="11.47" height="1.30" fill="#e4837c"/>
<rect x="320.00" y="109.50" width="11.47" height="1.30" fill="#efc5c4"/>
<rect x="331.17" y="109.50" width="11.47" height="1.30" fill="#2a1e80"/>
<rect x="342.33" y="109.50" width="11.47" height="1.30" fill="#5c54a7"/>
<rect x="353.50" y="109.50" width="11.47" height="1.30" fill="#dfdced"/>
<rect x="364.67" y="109.50" width="11.47" height="1.30" fill="#e37a73"/>
<rect x="375.83" y="109.50" width="11.47" height="1.30" fill="#f2dddf"/>
<rect x="387.00" y="109.50" width="11.47" height="1.30" fill="#e27a72"/>
<rect x="398.17" y="109.50" width="11.47" height="1.30" fill="#e9a4a0"/>
<rect x="409.33" y="109.50" width="11.47" height="1.30" fill="#de6259"/>
<rect x="420.50" y="109.50" width="11.47" height="1.30" fill="#ebaca9"/>
<rect x="431.67" y="109.50" width="11.47" height="1.30" fill="#e17269"/>
<rect x="442.83" y="109.50" width="11.47" height="1.30" fill="#ecb7b5"/>
<rect x="320.00" y="110.50" width="11.47" height="1.30" fill="#a7a4d5"/>
<rect x="331.17" y="110.50" width="11.47" height="1.30" fill="#2a1e80"/>
<rect x="342.33" y="110.50" width="11.47" height="1.30" fill="#2a1e80"/>
<rect x="353.50" y="110.50" width="11.47" height="1.30" fill="#e48079"/>
<rect x="364.67" y="110.50" width="11.47" height="1.30" fill="#f1d2d2"/>
<rect x="375.83" y="110.50" width="11.47" height="1.30" fill="#aba7d6"/>
<rect x="387.00" y="110.50" width="11.47" height="1.30" fill="#e6908a"/>
<rect x="398.17" y="110.50" width="11.47" height="1.30" fill="#efc4c4"/>
<rect x="409.33" y="110.50" width="11.47" height="1.30" fill="#df655b"/>
<rect x="420.50" y="110.50" width="11.47" height="1.30" fill="#f4e5e8"/>
<rect x="431.67" y="110.50" width="11.47" height="1.30" fill="#e9a19c"/>
<rect x="442.83" y="110.50" width="11.47" height="1.30" fill="#ebafac"/>
<rect x="320.00" y="111.50" width="11.47" height="0.80" fill="#9490cc"/>
<rect x="331.17" y="111.50" width="11.47" height="0.80" fill="#2a1e80"/>
<rect x="342.33" y="111.50" width="11.47" height="0.80" fill="#392e8c"/>
<rect x="353.50" y="111.50" width="11.47" height="0.80" fill="#edb8b6"/>
<rect x="364.67" y="111.50" width="11.47" height="0.80" fill="#a4a1d4"/>
<rect x="375.83" y="111.50" width="11.47" height="0.80" fill="#f5eef1"/>
<rect x="387.00" y="111.50" width="11.47" height="0.80" fill="#e7948e"/>
<rect x="398.17" y="111.50" width="11.47" height="0.80" fill="#e68d87"/>
<rect x="409.33" y="111.50" width="11.47" height="0.80" fill="#e37a73"/>
<rect x="420.50" y="111.50" width="11.47" height="0.80" fill="#efc7c7"/>
<rect x="431.67" y="111.50" width="11.47" height="0.80" fill="#da483c"/>
<rect x="442.83" y="111.50" width="11.47" height="0.80" fill="#e38079"/>
<rect x="320.00" y="112.00" width="11.47" height="1.30" fill="#2a1e80"/>
<rect x="331.17" y="112.00" width="11.47" height="1.30" fill="#3f3591"/>
<rect x="342.33" y="112.00" width="11.47" height="1.30" fill="#5b54a7"/>
<rect x="353.50" y="112.00" width="11.47" height="1.30" fill="#f4e7e9"/>
<rect x="364.67" y="112.00" width="11.47" height="1.30" fill="#eaa5a2"/>
<rect x="375.83" y="112.00" width="11.47" height="1.30" fill="#f2d8d9"/>
<rect x="387.00" y="112.00" width="11.47" height="1.30" fill="#eec3c2"/>
<rect x="398.17" y="112.00" width="11.47" height="1.30" fill="#e5867f"/>
<rect x="409.33" y="112.00" width="11.47" height="1.30" fill="#e79691"/>
<rect x="420.50" y="112.00" width="11.47" height="1.30" fill="#e79691"/>
<rect x="431.67" y="112.00" width="11.47" height="1.30" fill="#e79691"/>
<rect x="442.83" y="112.00" width="11.47" height="1.30" fill="#e17067"/>
<rect x="320.00" y="113.00" width="11.47" height="2.30" fill="#2a1e80"/>
<rect x="331.17" y="113.00" width="11.47" height="2.30" fill="#2a1e80"/>
<rect x="342.33" y="113.00" width="11.47" height="2.30" fill="#2a1e80"/>
<rect x="353.50" y="113.00" width="11.47" height="2.30" fill="#eec2c2"/>
<rect x="364.67" y="113.00" width="11.47" height="2.30" fill="#e7938e"/>
<rect x="375.83" y="113.00" width="11.47" height="2.30" fill="#f2d8da"/>
<rect x="387.00" y="113.00" width="11.47" height="2.30" fill="#ecb1af"/>
<rect x="398.17" y="113.00" width="11.47" height="2.30" fill="#edbbb9"/>
<rect x="409.33" y="113.00" width="11.47" height="2.30" fill="#e9a39f"/>
<rect x="420.50" y="113.00" width="11.47" height="2.30" fill="#efc7c6"/>
<rect x="431.67" y="113.00" width="11.47" height="2.30" fill="#e4847d"/>
<rect x="442.83" y="113.00" width="11.47" height="2.30" fill="#df655c"/>
<rect x="320.00" y="115.00" width="11.47" height="1.30" fill="#2a1e80"/>
<rect x="331.17" y="115.00" width="11.47" height="1.30" fill="#2a1e80"/>
<rect x="342.33" y="115.00" width="11.47" height="1.30" fill="#372d8b"/>
<rect x="353.50" y="115.00" width="11.47" height="1.30" fill="#e89d98"/>
<rect x="364.67" y="115.00" width="11.47" height="1.30" fill="#f4e8eb"/>
<rect x="375.83" y="115.00" width="11.47" height="1.30" fill="#f3dee0"/>
<rect x="387.00" y="115.00" width="11.47" height="1.30" fill="#e58982"/>
<rect x="398.17" y="115.00" width="11.47" height="1.30" fill="#e37c75"/>
<rect x="409.33" y="115.00" width="11.47" height="1.30" fill="#e2776f"/>
<rect x="420.50" y="115.00" width="11.47" height="1.30" fill="#efc6c6"/>
<rect x="431.67" y="115.00" width="11.47" height="1.30" fill="#e68c86"/>
<rect x="442.83" y="115.00" width="11.47" height="1.30" fill="#f0caca"/>
<rect x="320.00" y="116.00" width="11.47" height="1.30" fill="#2a1e80"/>
<rect x="331.17" y="116.00" width="11.47" height="1.30" fill="#4c439b"/>
<rect x="342.33" y="116.00" width="11.47" height="1.30" fill="#2a1e80"/>
<rect x="353.50" y="116.00" width="11.47" height="1.30" fill="#e8e5f1"/>
<rect x="364.67" y="116.00" width="11.47" height="1.30" fill="#e1726a"/>
<rect x="375.83" y="116.00" width="11.47" height="1.30" fill="#f5edf1"/>
<rect x="387.00" y="116.00" width="11.47" height="1.30" fill="#eebfbd"/>
<rect x="398.17" y="116.00" width="11.47" height="1.30" fill="#e58a84"/>
<rect x="409.33" y="116.00" width="11.47" height="1.30" fill="#e68b85"/>
<rect x="420.50" y="116.00" width="11.47" height="1.30" fill="#edbbba"/>
<rect x="431.67" y="116.00" width="11.47" height="1.30" fill="#e2766e"/>
<rect x="442.83" y="116.00" width="11.47" height="1.30" fill="#e37d76"/>
<rect x="320.00" y="117.00" width="11.47" height="2.30" fill="#2a1e80"/>
<rect x="331.17" y="117.00" width="11.47" height="2.30" fill="#473e97"/>
<rect x="342.33" y="117.00" width="11.47" height="2.30" fill="#2a1e80"/>
<rect x="353.50" y="117.00" width="11.47" height="2.30" fill="#e4817a"/>
<rect x="364.67" y="117.00" width="11.47" height="2.30" fill="#de5f55"/>
<rect x="375.83" y="117.00" width="11.47" height="2.30" fill="#f4e7e9"/>
<rect x="387.00" y="117.00" width="11.47" height="2.30" fill="#e58680"/>
<rect x="398.17" y="117.00" width="11.47" height="2.30" fill="#edbbba"/>
<rect x="409.33" y="117.00" width="11.47" height="2.30" fill="#e68b85"/>
<rect x="420.50" y="117.00" width="11.47" height="2.30" fill="#ebaba8"/>
<rect x="431.67" y="117.00" width="11.47" height="2.30" fill="#e6908a"/>
<rect x="442.83" y="117.00" width="11.47" height="2.30" fill="#e9a39f"/>
<rect x="320.00" y="119.00" width="11.47" height="1.80" fill="#2a1e80"/>
<rect x="331.17" y="119.00" width="11.47" height="1.80" fill="#2a1e80"/>
<rect x="342.33" y="119.00" width="11.47" height="1.80" fill="#2a1e80"/>
<rect x="353.50" y="119.00" width="11.47" height="1.80" fill="#eec4c3"/>
<rect x="364.67" y="119.00" width="11.47" height="1.80" fill="#ebb0ad"/>
<rect x="375.83" y="119.00" width="11.47" height="1.80" fill="#f0cbcb"/>
<rect x="387.00" y="119.00" width="11.47" height="1.80" fill="#e58a84"/>
<rect x="398.17" y="119.00" width="11.47" height="1.80" fill="#e9a19d"/>
<rect x="409.33" y="119.00" width="11.47" height="1.80" fill="#edbbb9"/>
<rect x="420.50" y="119.00" width="11.47" height="1.80" fill="#ecb6b4"/>
<rect x="431.67" y="119.00" width="11.47" height="1.80" fill="#e4837c"/>
<rect x="442.83" y="119.00" width="11.47" height="1.80" fill="#eaa9a6"/>
<rect x="320.00" y="120.50" width="11.47" height="1.30" fill="#2a1e80"/>
<rect x="331.17" y="120.50" width="11.47" height="1.30" fill="#554da2"/>
<rect x="342.33" y="120.50" width="11.47" height="1.30" fill="#2a1e80"/>
<rect x="353.50" y="120.50" width="11.47" height="1.30" fill="#f4e7ea"/>
<rect x="364.67" y="120.50" width="11.47" height="1.30" fill="#eaa9a6"/>
<rect x="375.83" y="120.50" width="11.47" height="1.30" fill="#f2d8da"/>
<rect x="387.00" y="120.50" width="11.47" height="1.30" fill="#e4857e"/>
<rect x="398.17" y="120.50" width="11.47" height="1.30" fill="#e4827b"/>
<rect x="409.33" y="120.50" width="11.47" height="1.30" fill="#e99f9b"/>
<rect x="420.50" y="120.50" width="11.47" height="1.30" fill="#f0cccc"/>
<rect x="431.67" y="120.50" width="11.47" height="1.30" fill="#e37e77"/>
<rect x="442.83" y="120.50" width="11.47" height="1.30" fill="#ecb5b3"/>
<rect x="320.00" y="121.50" width="11.47" height="1.30" fill="#2a1e80"/>
<rect x="331.17" y="121.50" width="11.47" height="1.30" fill="#2a1e80"/>
<rect x="342.33" y="121.50" width="11.47" height="1.30" fill="#372c8a"/>
<rect x="353.50" y="121.50" width="11.47" height="1.30" fill="#ecb3b1"/>
<rect x="364.67" y="121.50" width="11.47" height="1.30" fill="#e06c63"/>
<rect x="375.83" y="121.50" width="11.47" height="1.30" fill="#f3dee0"/>
<rect x="387.00" y="121.50" width="11.47" height="1.30" fill="#e89893"/>
<rect x="398.17" y="121.50" width="11.47" height="1.30" fill="#de635a"/>
<rect x="409.33" y="121.50" width="11.47" height="1.30" fill="#e79691"/>
<rect x="420.50" y="121.50" width="11.47" height="1.30" fill="#e9a29e"/>
<rect x="431.67" y="121.50" width="11.47" height="1.30" fill="#de6259"/>
<rect x="442.83" y="121.50" width="11.47" height="1.30" fill="#e79590"/>
<rect x="320.00" y="122.50" width="11.47" height="1.80" fill="#2a1e80"/>
<rect x="331.17" y="122.50" width="11.47" height="1.80" fill="#2a1e80"/>
<rect x="342.33" y="122.50" width="11.47" height="1.80" fill="#2a1e80"/>
<rect x="353.50" y="122.50" width="11.47" height="1.80" fill="#f4e4e7"/>
<rect x="364.67" y="122.50" width="11.47" height="1.80" fill="#e37c74"/>
<rect x="375.83" y="122.50" width="11.47" height="1.80" fill="#ebafad"/>
<rect x="387.00" y="122.50" width="11.47" height="1.80" fill="#e79792"/>
<rect x="398.17" y="122.50" width="11.47" height="1.80" fill="#e37c75"/>
<rect x="409.33" y="122.50" width="11.47" height="1.80" fill="#e6918b"/>
<rect x="420.50" y="122.50" width="11.47" height="1.80" fill="#e58a84"/>
<rect x="431.67" y="122.50" width="11.47" height="1.80" fill="#e99e9a"/>
<rect x="442.83" y="122.50" width="11.47" height="1.80" fill="#e37d76"/>
<rect x="320.00" y="124.00" width="11.47" height="1.80" fill="#2a1e80"/>
<rect x="331.17" y="124.00" width="11.47" height="1.80" fill="#8d89ca"/>
<rect x="342.33" y="124.00" width="11.47" height="1.80" fill="#3d338f"/>
<rect x="353.50" y="124.00" width="11.47" height="1.80" fill="#f1d6d7"/>
<rect x="364.67" y="124.00" width="11.47" height="1.80" fill="#f6f1f4"/>
<rect x="375.83" y="124.00" width="11.47" height="1.80" fill="#edbab8"/>
<rect x="387.00" y="124.00" width="11.47" height="1.80" fill="#e37e77"/>
<rect x="398.17" y="124.00" width="11.47" height="1.80" fill="#e37b74"/>
<rect x="409.33" y="124.00" width="11.47" height="1.80" fill="#ebadaa"/>
<rect x="420.50" y="124.00" width="11.47" height="1.80" fill="#e89893"/>
<rect x="431.67" y="124.00" width="11.47" height="1.80" fill="#e27870"/>
<rect x="442.83" y="124.00" width="11.47" height="1.80" fill="#e4847e"/>
<rect x="320.00" y="125.50" width="11.47" height="1.80" fill="#2a1e80"/>
<rect x="331.17" y="125.50" width="11.47" height="1.80" fill="#392f8c"/>
<rect x="342.33" y="125.50" width="11.47" height="1.80" fill="#5e57a9"/>
<rect x="353.50" y="125.50" width="11.47" height="1.80" fill="#ccc9e5"/>
<rect x="364.67" y="125.50" width="11.47" height="1.80" fill="#e68d87"/>
<rect x="375.83" y="125.50" width="11.47" height="1.80" fill="#ecb1ae"/>
<rect x="387.00" y="125.50" width="11.47" height="1.80" fill="#e37c74"/>
<rect x="398.17" y="125.50" width="11.47" height="1.80" fill="#e06c63"/>
<rect x="409.33" y="125.50" width="11.47" height="1.80" fill="#efc5c4"/>
<rect x="420.50" y="125.50" width="11.47" height="1.80" fill="#e9a09b"/>
<rect x="431.67" y="125.50" width="11.47" height="1.80" fill="#e89d99"/>
<rect x="442.83" y="125.50" width="11.47" height="1.80" fill="#eaa6a3"/>
<rect x="320.00" y="127.00" width="11.47" height="2.30" fill="#2a1e80"/>
<rect x="331.17" y="127.00" width="11.47" height="2.30" fill="#6f69b6"/>
<rect x="342.33" y="127.00" width="11.47" height="2.30" fill="#2a1e80"/>
<rect x="353.50" y="127.00" width="11.47" height="2.30" fill="#f1d1d1"/>
<rect x="364.67" y="127.00" width="11.47" height="2.30" fill="#efc5c5"/>
<rect x="375.83" y="127.00" width="11.47" height="2.30" fill="#e9e6f1"/>
<rect x="387.00" y="127.00" width="11.47" height="2.30" fill="#e68d87"/>
<rect x="398.17" y="127.00" width="11.47" height="2.30" fill="#e89d99"/>
<rect x="409.33" y="127.00" width="11.47" height="2.30" fill="#eaa5a1"/>
<rect x="420.50" y="127.00" width="11.47" height="2.30" fill="#f1d1d2"/>
<rect x="431.67" y="127.00" width="11.47" height="2.30" fill="#e27870"/>
<rect x="442.83" y="127.00" width="11.47" height="2.30" fill="#e68c86"/>
<rect x="320.00" y="129.00" width="11.47" height="2.30" fill="#2a1e80"/>
<rect x="331.17" y="129.00" width="11.47" height="2.30" fill="#2a1e80"/>
<rect x="342.33" y="129.00" width="11.47" height="2.30" fill="#2a1e80"/>
<rect x="353.50" y="129.00" width="11.47" height="2.30" fill="#f4e7ea"/>
<rect x="364.67" y="129.00" width="11.47" height="2.30" fill="#f0cccc"/>
<rect x="375.83" y="129.00" width="11.47" height="2.30" fill="#ecb5b2"/>
<rect x="387.00" y="129.00" width="11.47" height="2.30" fill="#f0cdcd"/>
<rect x="398.17" y="129.00" width="11.47" height="2.30" fill="#e9a39f"/>
<rect x="409.33" y="129.00" width="11.47" height="2.30" fill="#e7938e"/>
<rect x="420.50" y="129.00" width="11.47" height="2.30" fill="#e48079"/>
<rect x="431.67" y="129.00" width="11.47" height="2.30" fill="#e06e66"/>
<rect x="442.83" y="129.00" width="11.47" height="2.30" fill="#e9a29e"/>
<rect x="320.00" y="131.00" width="11.47" height="1.30" fill="#2a1e80"/>
<rect x="331.17" y="131.00" width="11.47" height="1.30" fill="#2a1e80"/>
<rect x="342.33" y="131.00" width="11.47" height="1.30" fill="#2a1e80"/>
<rect x="353.50" y="131.00" width="11.47" height="1.30" fill="#e7948f"/>
<rect x="364.67" y="131.00" width="11.47" height="1.30" fill="#e4847e"/>
<rect x="375.83" y="131.00" width="11.47" height="1.30" fill="#e5e2f0"/>
<rect x="387.00" y="131.00" width="11.47" height="1.30" fill="#e68f89"/>
<rect x="398.17" y="131.00" width="11.47" height="1.30" fill="#df675e"/>
<rect x="409.33" y="131.00" width="11.47" height="1.30" fill="#e37a73"/>
<rect x="420.50" y="131.00" width="11.47" height="1.30" fill="#ecb5b3"/>
<rect x="431.67" y="131.00" width="11.47" height="1.30" fill="#db5046"/>
<rect x="442.83" y="131.00" width="11.47" height="1.30" fill="#edb8b6"/>
<rect x="320.00" y="132.00" width="11.47" height="1.30" fill="#2c2081"/>
<rect x="331.17" y="132.00" width="11.47" height="1.30" fill="#494099"/>
<rect x="342.33" y="132.00" width="11.47" height="1.30" fill="#2a1e80"/>
<rect x="353.50" y="132.00" width="11.47" height="1.30" fill="#efc5c4"/>
<rect x="364.67" y="132.00" width="11.47" height="1.30" fill="#ebaca9"/>
<rect x="375.83" y="132.00" width="11.47" height="1.30" fill="#dd5a50"/>
<rect x="387.00" y="132.00" width="11.47" height="1.30" fill="#de635a"/>
<rect x="398.17" y="132.00" width="11.47" height="1.30" fill="#e68b85"/>
<rect x="409.33" y="132.00" width="11.47" height="1.30" fill="#e89893"/>
<rect x="420.50" y="132.00" width="11.47" height="1.30" fill="#ebb0ad"/>
<rect x="431.67" y="132.00" width="11.47" height="1.30" fill="#e2756d"/>
<rect x="442.83" y="132.00" width="11.47" height="1.30" fill="#e89c97"/>
<rect x="320.00" y="133.00" width="11.47" height="1.30" fill="#2f2384"/>
<rect x="331.17" y="133.00" width="11.47" height="1.30" fill="#8b87c9"/>
<rect x="342.33" y="133.00" width="11.47" height="1.30" fill="#2a1e80"/>
<rect x="353.50" y="133.00" width="11.47" height="1.30" fill="#efc8c8"/>
<rect x="364.67" y="133.00" width="11.47" height="1.30" fill="#ecb1ae"/>
<rect x="375.83" y="133.00" width="11.47" height="1.30" fill="#ecb3b1"/>
<rect x="387.00" y="133.00" width="11.47" height="1.30" fill="#e7948f"/>
<rect x="398.17" y="133.00" width="11.47" height="1.30" fill="#dc5449"/>
<rect x="409.33" y="133.00" width="11.47" height="1.30" fill="#e79792"/>
<rect x="420.50" y="133.00" width="11.47" height="1.30" fill="#edb9b8"/>
<rect x="431.67" y="133.00" width="11.47" height="1.30" fill="#e79690"/>
<rect x="442.83" y="133.00" width="11.47" height="1.30" fill="#e9a19d"/>
<rect x="320.00" y="134.00" width="11.47" height="1.80" fill="#2a1e80"/>
<rect x="331.17" y="134.00" width="11.47" height="1.80" fill="#2a1e80"/>
<rect x="342.33" y="134.00" width="11.47" height="1.80" fill="#2a1e80"/>
<rect x="353.50" y="134.00" width="11.47" height="1.80" fill="#f6f3f7"/>
<rect x="364.67" y="134.00" width="11.47" height="1.80" fill="#f1d6d7"/>
<rect x="375.83" y="134.00" width="11.47" height="1.80" fill="#f5ecf0"/>
<rect x="387.00" y="134.00" width="11.47" height="1.80" fill="#ecb4b2"/>
<rect x="398.17" y="134.00" width="11.47" height="1.80" fill="#e99e9a"/>
<rect x="409.33" y="134.00" width="11.47" height="1.80" fill="#ecb3b1"/>
<rect x="420.50" y="134.00" width="11.47" height="1.80" fill="#ebafac"/>
<rect x="431.67" y="134.00" width="11.47" height="1.80" fill="#e5867f"/>
<rect x="442.83" y="134.00" width="11.47" height="1.80" fill="#e68f89"/>
<rect x="320.00" y="135.50" width="11.47" height="1.30" fill="#2c2182"/>
<rect x="331.17" y="135.50" width="11.47" height="1.30" fill="#8d89ca"/>
<rect x="342.33" y="135.50" width="11.47" height="1.30" fill="#2a1e80"/>
<rect x="353.50" y="135.50" width="11.47" height="1.30" fill="#efc5c4"/>
<rect x="364.67" y="135.50" width="11.47" height="1.30" fill="#df665d"/>
<rect x="375.83" y="135.50" width="11.47" height="1.30" fill="#e68c86"/>
<rect x="387.00" y="135.50" width="11.47" height="1.30" fill="#e27870"/>
<rect x="398.17" y="135.50" width="11.47" height="1.30" fill="#dc5348"/>
<rect x="409.33" y="135.50" width="11.47" height="1.30" fill="#e9a39f"/>
<rect x="420.50" y="135.50" width="11.47" height="1.30" fill="#ecb4b2"/>
<rect x="431.67" y="135.50" width="11.47" height="1.30" fill="#e37d75"/>
<rect x="442.83" y="135.50" width="11.47" height="1.30" fill="#e58781"/>
<rect x="320.00" y="136.50" width="11.47" height="1.80" fill="#3f3590"/>
<rect x="331.17" y="136.50" width="11.47" height="1.80" fill="#332787"/>
<rect x="342.33" y="136.50" width="11.47" height="1.80" fill="#2a1e80"/>
<rect x="353.50" y="136.50" width="11.47" height="1.80" fill="#e06d64"/>
<rect x="364.67" y="136.50" width="11.47" height="1.80" fill="#f4e7ea"/>
<rect x="375.83" y="136.50" width="11.47" height="1.80" fill="#f1d6d7"/>
<rect x="387.00" y="136.50" width="11.47" height="1.80" fill="#e9a19d"/>
<rect x="398.17" y="136.50" width="11.47" height="1.80" fill="#e37e77"/>
<rect x="409.33" y="136.50" width="11.47" height="1.80" fill="#ebaeab"/>
<rect x="420.50" y="136.50" width="11.47" height="1.80" fill="#e27870"/>
<rect x="431.67" y="136.50" width="11.47" height="1.80" fill="#e17269"/>
<rect x="442.83" y="136.50" width="11.47" height="1.80" fill="#e17068"/>
<rect x="320.00" y="138.00" width="11.47" height="2.30" fill="#2a1e80"/>
<rect x="331.17" y="138.00" width="11.47" height="2.30" fill="#322787"/>
<rect x="342.33" y="138.00" width="11.47" height="2.30" fill="#2a1e80"/>
<rect x="353.50" y="138.00" width="11.47" height="2.30" fill="#ecb2af"/>
<rect x="364.67" y="138.00" width="11.47" height="2.30" fill="#db4f44"/>
<rect x="375.83" y="138.00" width="11.47" height="2.30" fill="#e9a19d"/>
<rect x="387.00" y="138.00" width="11.47" height="2.30" fill="#e4847e"/>
<rect x="398.17" y="138.00" width="11.47" height="2.30" fill="#e89c97"/>
<rect x="409.33" y="138.00" width="11.47" height="2.30" fill="#e37d75"/>
<rect x="420.50" y="138.00" width="11.47" height="2.30" fill="#e9a4a0"/>
<rect x="431.67" y="138.00" width="11.47" height="2.30" fill="#e17168"/>
<rect x="442.83" y="138.00" width="11.47" height="2.30" fill="#e58b84"/>
<rect x="320.00" y="140.00" width="11.47" height="1.30" fill="#2a1e80"/>
<rect x="331.17" y="140.00" width="11.47" height="1.30" fill="#2a1e80"/>
<rect x="342.33" y="140.00" width="11.47" height="1.30" fill="#453b95"/>
<rect x="353.50" y="140.00" width="11.47" height="1.30" fill="#f3f0f6"/>
<rect x="364.67" y="140.00" width="11.47" height="1.30" fill="#e17169"/>
<rect x="375.83" y="140.00" width="11.47" height="1.30" fill="#f5edf1"/>
<rect x="387.00" y="140.00" width="11.47" height="1.30" fill="#e7938e"/>
<rect x="398.17" y="140.00" width="11.47" height="1.30" fill="#eaaaa7"/>
<rect x="409.33" y="140.00" width="11.47" height="1.30" fill="#edbcbb"/>
<rect x="420.50" y="140.00" width="11.47" height="1.30" fill="#efc6c5"/>
<rect x="431.67" y="140.00" width="11.47" height="1.30" fill="#e37d75"/>
<rect x="442.83" y="140.00" width="11.47" height="1.30" fill="#e27a72"/>
<rect x="320.00" y="141.00" width="11.47" height="1.80" fill="#2a1e80"/>
<rect x="331.17" y="141.00" width="11.47" height="1.80" fill="#534ba0"/>
<rect x="342.33" y="141.00" width="11.47" height="1.80" fill="#2a1e80"/>
<rect x="353.50" y="141.00" width="11.47" height="1.80" fill="#ecb3b0"/>
<rect x="364.67" y="141.00" width="11.47" height="1.80" fill="#eaa9a6"/>
<rect x="375.83" y="141.00" width="11.47" height="1.80" fill="#eae7f2"/>
<rect x="387.00" y="141.00" width="11.47" height="1.80" fill="#ebadaa"/>
<rect x="398.17" y="141.00" width="11.47" height="1.80" fill="#e9a19d"/>
<rect x="409.33" y="141.00" width="11.47" height="1.80" fill="#e7928d"/>
<rect x="420.50" y="141.00" width="11.47" height="1.80" fill="#efcaca"/>
<rect x="431.67" y="141.00" width="11.47" height="1.80" fill="#e6918b"/>
<rect x="442.83" y="141.00" width="11.47" height="1.80" fill="#e37d76"/>
<rect x="320.00" y="142.50" width="11.47" height="1.80" fill="#2a1e80"/>
<rect x="331.17" y="142.50" width="11.47" height="1.80" fill="#5850a4"/>
<rect x="342.33" y="142.50" width="11.47" height="1.80" fill="#2a1e80"/>
<rect x="353.50" y="142.50" width="11.47" height="1.80" fill="#e9a39f"/>
<rect x="364.67" y="142.50" width="11.47" height="1.80" fill="#f5eff3"/>
<rect x="375.83" y="142.50" width="11.47" height="1.80" fill="#f3e0e2"/>
<rect x="387.00" y="142.50" width="11.47" height="1.80" fill="#ebaaa7"/>
<rect x="398.17" y="142.50" width="11.47" height="1.80" fill="#e68d87"/>
<rect x="409.33" y="142.50" width="11.47" height="1.80" fill="#e79792"/>
<rect x="420.50" y="142.50" width="11.47" height="1.80" fill="#f5eef1"/>
<rect x="431.67" y="142.50" width="11.47" height="1.80" fill="#e4837c"/>
<rect x="442.83" y="142.50" width="11.47" height="1.80" fill="#eaa6a2"/>
<rect x="320.00" y="144.00" width="11.47" height="1.30" fill="#3b318e"/>
<rect x="331.17" y="144.00" width="11.47" height="1.30" fill="#2a1e80"/>
<rect x="342.33" y="144.00" width="11.47" height="1.30" fill="#3b308d"/>
<rect x="353.50" y="144.00" width="11.47" height="1.30" fill="#e2776f"/>
<rect x="364.67" y="144.00" width="11.47" height="1.30" fill="#d84034"/>
<rect x="375.83" y="144.00" width="11.47" height="1.30" fill="#eaa5a1"/>
<rect x="387.00" y="144.00" width="11.47" height="1.30" fill="#e7928c"/>
<rect x="398.17" y="144.00" width="11.47" height="1.30" fill="#e7928d"/>
<rect x="409.33" y="144.00" width="11.47" height="1.30" fill="#e89893"/>
<rect x="420.50" y="144.00" width="11.47" height="1.30" fill="#e89d99"/>
<rect x="431.67" y="144.00" width="11.47" height="1.30" fill="#e4837c"/>
<rect x="442.83" y="144.00" width="11.47" height="1.30" fill="#df665d"/>
<rect x="320.00" y="145.00" width="11.47" height="1.30" fill="#2a1e80"/>
<rect x="331.17" y="145.00" width="11.47" height="1.30" fill="#3e3490"/>
<rect x="342.33" y="145.00" width="11.47" height="1.30" fill="#2a1e80"/>
<rect x="353.50" y="145.00" width="11.47" height="1.30" fill="#e06e66"/>
<rect x="364.67" y="145.00" width="11.47" height="1.30" fill="#f2d9da"/>
<rect x="375.83" y="145.00" width="11.47" height="1.30" fill="#db5045"/>
<rect x="387.00" y="145.00" width="11.47" height="1.30" fill="#e58982"/>
<rect x="398.17" y="145.00" width="11.47" height="1.30" fill="#e89d98"/>
<rect x="409.33" y="145.00" width="11.47" height="1.30" fill="#e1726a"/>
<rect x="420.50" y="145.00" width="11.47" height="1.30" fill="#e06b63"/>
<rect x="431.67" y="145.00" width="11.47" height="1.30" fill="#dd5c52"/>
<rect x="442.83" y="145.00" width="11.47" height="1.30" fill="#df685f"/>
<rect x="320.00" y="146.00" width="11.47" height="1.30" fill="#2a1e80"/>
<rect x="331.17" y="146.00" width="11.47" height="1.30" fill="#2a1e80"/>
<rect x="342.33" y="146.00" width="11.47" height="1.30" fill="#2a1e80"/>
<rect x="353.50" y="146.00" width="11.47" height="1.30" fill="#f4e5e7"/>
<rect x="364.67" y="146.00" width="11.47" height="1.30" fill="#e16f67"/>
<rect x="375.83" y="146.00" width="11.47" height="1.30" fill="#e89b96"/>
<rect x="387.00" y="146.00" width="11.47" height="1.30" fill="#ebaca9"/>
<rect x="398.17" y="146.00" width="11.47" height="1.30" fill="#e58882"/>
<rect x="409.33" y="146.00" width="11.47" height="1.30" fill="#e37c74"/>
<rect x="420.50" y="146.00" width="11.47" height="1.30" fill="#e48079"/>
<rect x="431.67" y="146.00" width="11.47" height="1.30" fill="#e7928c"/>
<rect x="442.83" y="146.00" width="11.47" height="1.30" fill="#e6918b"/>
<rect x="320.00" y="147.00" width="11.47" height="1.30" fill="#2a1e80"/>
<rect x="331.17" y="147.00" width="11.47" height="1.30" fill="#554da2"/>
<rect x="342.33" y="147.00" width="11.47" height="1.30" fill="#322786"/>
<rect x="353.50" y="147.00" width="11.47" height="1.30" fill="#e9a39f"/>
<rect x="364.67" y="147.00" width="11.47" height="1.30" fill="#e58983"/>
<rect x="375.83" y="147.00" width="11.47" height="1.30" fill="#edbab9"/>
<rect x="387.00" y="147.00" width="11.47" height="1.30" fill="#eaa5a1"/>
<rect x="398.17" y="147.00" width="11.47" height="1.30" fill="#e68f8a"/>
<rect x="409.33" y="147.00" width="11.47" height="1.30" fill="#e9a19d"/>
<rect x="420.50" y="147.00" width="11.47" height="1.30" fill="#e58982"/>
<rect x="431.67" y="147.00" width="11.47" height="1.30" fill="#db4d42"/>
<rect x="442.83" y="147.00" width="11.47" height="1.30" fill="#d83c30"/>
<rect x="320.00" y="148.00" width="11.47" height="1.30" fill="#2a1e80"/>
<rect x="331.17" y="148.00" width="11.47" height="1.30" fill="#2a1e80"/>
<rect x="342.33" y="148.00" width="11.47" height="1.30" fill="#2a1e80"/>
<rect x="353.50" y="148.00" width="11.47" height="1.30" fill="#d73b2f"/>
<rect x="364.67" y="148.00" width="11.47" height="1.30" fill="#dddaec"/>
<rect x="375.83" y="148.00" width="11.47" height="1.30" fill="#e89c98"/>
<rect x="387.00" y="148.00" width="11.47" height="1.30" fill="#e7928c"/>
<rect x="398.17" y="148.00" width="11.47" height="1.30" fill="#e68e88"/>
<rect x="409.33" y="148.00" width="11.47" height="1.30" fill="#ebaba7"/>
<rect x="420.50" y="148.00" width="11.47" height="1.30" fill="#e68c86"/>
<rect x="431.67" y="148.00" width="11.47" height="1.30" fill="#e6918b"/>
<rect x="442.83" y="148.00" width="11.47" height="1.30" fill="#e38079"/>
<rect x="320.00" y="149.00" width="11.47" height="1.30" fill="#2a1e80"/>
<rect x="331.17" y="149.00" width="11.47" height="1.30" fill="#807cc4"/>
<rect x="342.33" y="149.00" width="11.47" height="1.30" fill="#3f3591"/>
<rect x="353.50" y="149.00" width="11.47" height="1.30" fill="#e79590"/>
<rect x="364.67" y="149.00" width="11.47" height="1.30" fill="#e17269"/>
<rect x="375.83" y="149.00" width="11.47" height="1.30" fill="#eae7f2"/>
<rect x="387.00" y="149.00" width="11.47" height="1.30" fill="#de6158"/>
<rect x="398.17" y="149.00" width="11.47" height="1.30" fill="#e58780"/>
<rect x="409.33" y="149.00" width="11.47" height="1.30" fill="#eaa7a4"/>
<rect x="420.50" y="149.00" width="11.47" height="1.30" fill="#eaa6a2"/>
<rect x="431.67" y="149.00" width="11.47" height="1.30" fill="#e2766e"/>
<rect x="442.83" y="149.00" width="11.47" height="1.30" fill="#e68e88"/>
<rect x="320.00" y="150.00" width="11.47" height="1.80" fill="#2a1e80"/>
<rect x="331.17" y="150.00" width="11.47" height="1.80" fill="#2a1e80"/>
<rect x="342.33" y="150.00" width="11.47" height="1.80" fill="#2a1e80"/>
<rect x="353.50" y="150.00" width="11.47" height="1.80" fill="#ebaba7"/>
<rect x="364.67" y="150.00" width="11.47" height="1.80" fill="#f2d9da"/>
<rect x="375.83" y="150.00" width="11.47" height="1.80" fill="#f5edf0"/>
<rect x="387.00" y="150.00" width="11.47" height="1.80" fill="#e79691"/>
<rect x="398.17" y="150.00" width="11.47" height="1.80" fill="#eaa6a2"/>
<rect x="409.33" y="150.00" width="11.47" height="1.80" fill="#e89b96"/>
<rect x="420.50" y="150.00" width="11.47" height="1.80" fill="#e4837d"/>
<rect x="431.67" y="150.00" width="11.47" height="1.80" fill="#e2766e"/>
<rect x="442.83" y="150.00" width="11.47" height="1.80" fill="#e68f89"/>
<rect x="320.00" y="151.50" width="11.47" height="1.30" fill="#2a1e80"/>
<rect x="331.17" y="151.50" width="11.47" height="1.30" fill="#322787"/>
<rect x="342.33" y="151.50" width="11.47" height="1.30" fill="#2a1e80"/>
<rect x="353.50" y="151.50" width="11.47" height="1.30" fill="#d9d5ea"/>
<rect x="364.67" y="151.50" width="11.47" height="1.30" fill="#bdb9de"/>
<rect x="375.83" y="151.50" width="11.47" height="1.30" fill="#f4e8ea"/>
<rect x="387.00" y="151.50" width="11.47" height="1.30" fill="#e9a29e"/>
<rect x="398.17" y="151.50" width="11.47" height="1.30" fill="#e99f9b"/>
<rect x="409.33" y="151.50" width="11.47" height="1.30" fill="#e68f89"/>
<rect x="420.50" y="151.50" width="11.47" height="1.30" fill="#ebb0ad"/>
<rect x="431.67" y="151.50" width="11.47" height="1.30" fill="#e9a29e"/>
<rect x="442.83" y="151.50" width="11.47" height="1.30" fill="#ebb1ae"/>
<rect x="320.00" y="152.50" width="11.47" height="1.30" fill="#2a1e80"/>
<rect x="331.17" y="152.50" width="11.47" height="1.30" fill="#2a1e80"/>
<rect x="342.33" y="152.50" width="11.47" height="1.30" fill="#2f2384"/>
<rect x="353.50" y="152.50" width="11.47" height="1.30" fill="#e89893"/>
<rect x="364.67" y="152.50" width="11.47" height="1.30" fill="#dedaec"/>
<rect x="375.83" y="152.50" width="11.47" height="1.30" fill="#eebfbe"/>
<rect x="387.00" y="152.50" width="11.47" height="1.30" fill="#efc6c5"/>
<rect x="398.17" y="152.50" width="11.47" height="1.30" fill="#ecb3b1"/>
<rect x="409.33" y="152.50" width="11.47" height="1.30" fill="#e6908a"/>
<rect x="420.50" y="152.50" width="11.47" height="1.30" fill="#f0cdcd"/>
<rect x="431.67" y="152.50" width="11.47" height="1.30" fill="#e4837c"/>
<rect x="442.83" y="152.50" width="11.47" height="1.30" fill="#e58b85"/>
<rect x="320.00" y="153.50" width="11.47" height="2.30" fill="#2a1e80"/>
<rect x="331.17" y="153.50" width="11.47" height="2.30" fill="#2a1e80"/>
<rect x="342.33" y="153.50" width="11.47" height="2.30" fill="#2a1e80"/>
<rect x="353.50" y="153.50" width="11.47" height="2.30" fill="#e4837c"/>
<rect x="364.67" y="153.50" width="11.47" height="2.30" fill="#e4817a"/>
<rect x="375.83" y="153.50" width="11.47" height="2.30" fill="#d52b1d"/>
<rect x="387.00" y="153.50" width="11.47" height="2.30" fill="#e06f66"/>
<rect x="398.17" y="153.50" width="11.47" height="2.30" fill="#e37b73"/>
<rect x="409.33" y="153.50" width="11.47" height="2.30" fill="#e37d76"/>
<rect x="420.50" y="153.50" width="11.47" height="2.30" fill="#f3f0f6"/>
<rect x="431.67" y="153.50" width="11.47" height="2.30" fill="#de6157"/>
<rect x="442.83" y="153.50" width="11.47" height="2.30" fill="#df665d"/>
<rect x="320.00" y="155.50" width="11.47" height="1.30" fill="#2a1e80"/>
<rect x="331.17" y="155.50" width="11.47" height="1.30" fill="#2a1e80"/>
<rect x="342.33" y="155.50" width="11.47" height="1.30" fill="#2a1e80"/>
<rect x="353.50" y="155.50" width="11.47" height="1.30" fill="#f2d7d9"/>
<rect x="364.67" y="155.50" width="11.47" height="1.30" fill="#ecb5b3"/>
<rect x="375.83" y="155.50" width="11.47" height="1.30" fill="#d63629"/>
<rect x="387.00" y="155.50" width="11.47" height="1.30" fill="#eaa8a5"/>
<rect x="398.17" y="155.50" width="11.47" height="1.30" fill="#e7948f"/>
<rect x="409.33" y="155.50" width="11.47" height="1.30" fill="#eaa6a3"/>
<rect x="420.50" y="155.50" width="11.47" height="1.30" fill="#e2766f"/>
<rect x="431.67" y="155.50" width="11.47" height="1.30" fill="#e27971"/>
<rect x="442.83" y="155.50" width="11.47" height="1.30" fill="#e4827b"/>
<rect x="320.00" y="156.50" width="11.47" height="1.30" fill="#2a1e80"/>
<rect x="331.17" y="156.50" width="11.47" height="1.30" fill="#2a1e80"/>
<rect x="342.33" y="156.50" width="11.47" height="1.30" fill="#2a1e80"/>
<rect x="353.50" y="156.50" width="11.47" height="1.30" fill="#e48079"/>
<rect x="364.67" y="156.50" width="11.47" height="1.30" fill="#d83d31"/>
<rect x="375.83" y="156.50" width="11.47" height="1.30" fill="#f4e7ea"/>
<rect x="387.00" y="156.50" width="11.47" height="1.30" fill="#e6908a"/>
<rect x="398.17" y="156.50" width="11.47" height="1.30" fill="#e37b74"/>
<rect x="409.33" y="156.50" width="11.47" height="1.30" fill="#f0cccc"/>
<rect x="420.50" y="156.50" width="11.47" height="1.30" fill="#f2d8d9"/>
<rect x="431.67" y="156.50" width="11.47" height="1.30" fill="#e37c75"/>
<rect x="442.83" y="156.50" width="11.47" height="1.30" fill="#eaa5a1"/>
<rect x="320.00" y="157.50" width="11.47" height="2.30" fill="#2a1e80"/>
<rect x="331.17" y="157.50" width="11.47" height="2.30" fill="#5850a4"/>
<rect x="342.33" y="157.50" width="11.47" height="2.30" fill="#2a1e80"/>
<rect x="353.50" y="157.50" width="11.47" height="2.30" fill="#e99f9b"/>
<rect x="364.67" y="157.50" width="11.47" height="2.30" fill="#e27a72"/>
<rect x="375.83" y="157.50" width="11.47" height="2.30" fill="#e68c86"/>
<rect x="387.00" y="157.50" width="11.47" height="2.30" fill="#e58a84"/>
<rect x="398.17" y="157.50" width="11.47" height="2.30" fill="#e58881"/>
<rect x="409.33" y="157.50" width="11.47" height="2.30" fill="#dd5d54"/>
<rect x="420.50" y="157.50" width="11.47" height="2.30" fill="#e89a95"/>
<rect x="431.67" y="157.50" width="11.47" height="2.30" fill="#e7958f"/>
<rect x="442.83" y="157.50" width="11.47" height="2.30" fill="#e99f9b"/>
<rect x="320.00" y="159.50" width="11.47" height="1.30" fill="#2a1e80"/>
<rect x="331.17" y="159.50" width="11.47" height="1.30" fill="#2c2082"/>
<rect x="342.33" y="159.50" width="11.47" height="1.30" fill="#2a1e80"/>
<rect x="353.50" y="159.50" width="11.47" height="1.30" fill="#edbdbc"/>
<rect x="364.67" y="159.50" width="11.47" height="1.30" fill="#f4e6e8"/>
<rect x="375.83" y="159.50" width="11.47" height="1.30" fill="#ecb5b3"/>
<rect x="387.00" y="159.50" width="11.47" height="1.30" fill="#e79792"/>
<rect x="398.17" y="159.50" width="11.47" height="1.30" fill="#e4827c"/>
<rect x="409.33" y="159.50" width="11.47" height="1.30" fill="#e6908a"/>
<rect x="420.50" y="159.50" width="11.47" height="1.30" fill="#dd5a50"/>
<rect x="431.67" y="159.50" width="11.47" height="1.30" fill="#e68d87"/>
<rect x="442.83" y="159.50" width="11.47" height="1.30" fill="#e79691"/>
<rect x="320.00" y="160.50" width="11.47" height="1.30" fill="#2a1e80"/>
<rect x="331.17" y="160.50" width="11.47" height="1.30" fill="#2a1e80"/>
<rect x="342.33" y="160.50" width="11.47" height="1.30" fill="#2a1e80"/>
<rect x="353.50" y="160.50" width="11.47" height="1.30" fill="#efc4c3"/>
<rect x="364.67" y="160.50" width="11.47" height="1.30" fill="#efc7c7"/>
<rect x="375.83" y="160.50" width="11.47" height="1.30" fill="#f6f2f6"/>
<rect x="387.00" y="160.50" width="11.47" height="1.30" fill="#f1d2d3"/>
<rect x="398.17" y="160.50" width="11.47" height="1.30" fill="#e68f89"/>
<rect x="409.33" y="160.50" width="11.47" height="1.30" fill="#e68d87"/>
<rect x="420.50" y="160.50" width="11.47" height="1.30" fill="#ecb4b2"/>
<rect x="431.67" y="160.50" width="11.47" height="1.30" fill="#e89892"/>
<rect x="442.83" y="160.50" width="11.47" height="1.30" fill="#df655c"/>
<rect x="320.00" y="161.50" width="11.47" height="1.80" fill="#332887"/>
<rect x="331.17" y="161.50" width="11.47" height="1.80" fill="#3e3490"/>
<rect x="342.33" y="161.50" width="11.47" height="1.80" fill="#2a1e80"/>
<rect x="353.50" y="161.50" width="11.47" height="1.80" fill="#df685f"/>
<rect x="364.67" y="161.50" width="11.47" height="1.80" fill="#efc8c8"/>
<rect x="375.83" y="161.50" width="11.47" height="1.80" fill="#f0cdcd"/>
<rect x="387.00" y="161.50" width="11.47" height="1.80" fill="#eaa7a4"/>
<rect x="398.17" y="161.50" width="11.47" height="1.80" fill="#e4837c"/>
<rect x="409.33" y="161.50" width="11.47" height="1.80" fill="#e4817a"/>
<rect x="420.50" y="161.50" width="11.47" height="1.80" fill="#eaa8a5"/>
<rect x="431.67" y="161.50" width="11.47" height="1.80" fill="#e4847e"/>
<rect x="442.83" y="161.50" width="11.47" height="1.80" fill="#e68d87"/>
<rect x="320.00" y="163.00" width="11.47" height="1.30" fill="#2a1e80"/>
<rect x="331.17" y="163.00" width="11.47" height="1.30" fill="#2a1e80"/>
<rect x="342.33" y="163.00" width="11.47" height="1.30" fill="#2a1e80"/>
<rect x="353.50" y="163.00" width="11.47" height="1.30" fill="#f3f0f6"/>
<rect x="364.67" y="163.00" width="11.47" height="1.30" fill="#f2d8da"/>
<rect x="375.83" y="163.00" width="11.47" height="1.30" fill="#d5d2e9"/>
<rect x="387.00" y="163.00" width="11.47" height="1.30" fill="#e89b96"/>
<rect x="398.17" y="163.00" width="11.47" height="1.30" fill="#e2766e"/>
<rect x="409.33" y="163.00" width="11.47" height="1.30" fill="#ecb7b5"/>
<rect x="420.50" y="163.00" width="11.47" height="1.30" fill="#f2d8da"/>
<rect x="431.67" y="163.00" width="11.47" height="1.30" fill="#e68f89"/>
<rect x="442.83" y="163.00" width="11.47" height="1.30" fill="#e37f78"/>
<rect x="320.00" y="164.00" width="11.47" height="1.30" fill="#2a1e80"/>
<rect x="331.17" y="164.00" width="11.47" height="1.30" fill="#453b95"/>
<rect x="342.33" y="164.00" width="11.47" height="1.30" fill="#2a1e80"/>
<rect x="353.50" y="164.00" width="11.47" height="1.30" fill="#e4857f"/>
<rect x="364.67" y="164.00" width="11.47" height="1.30" fill="#e89893"/>
<rect x="375.83" y="164.00" width="11.47" height="1.30" fill="#ecb4b2"/>
<rect x="387.00" y="164.00" width="11.47" height="1.30" fill="#eaa5a1"/>
<rect x="398.17" y="164.00" width="11.47" height="1.30" fill="#e89c97"/>
<rect x="409.33" y="164.00" width="11.47" height="1.30" fill="#e06d64"/>
<rect x="420.50" y="164.00" width="11.47" height="1.30" fill="#f5edf1"/>
<rect x="431.67" y="164.00" width="11.47" height="1.30" fill="#e48079"/>
<rect x="442.83" y="164.00" width="11.47" height="1.30" fill="#dd5a50"/>
<rect x="320.00" y="165.00" width="11.47" height="1.30" fill="#2a1e80"/>
<rect x="331.17" y="165.00" width="11.47" height="1.30" fill="#392f8c"/>
<rect x="342.33" y="165.00" width="11.47" height="1.30" fill="#372d8b"/>
<rect x="353.50" y="165.00" width="11.47" height="1.30" fill="#dddaec"/>
<rect x="364.67" y="165.00" width="11.47" height="1.30" fill="#e58982"/>
<rect x="375.83" y="165.00" width="11.47" height="1.30" fill="#f3e3e5"/>
<rect x="387.00" y="165.00" width="11.47" height="1.30" fill="#e1736b"/>
<rect x="398.17" y="165.00" width="11.47" height="1.30" fill="#e4827b"/>
<rect x="409.33" y="165.00" width="11.47" height="1.30" fill="#e4837d"/>
<rect x="420.50" y="165.00" width="11.47" height="1.30" fill="#ebe8f2"/>
<rect x="431.67" y="165.00" width="11.47" height="1.30" fill="#e4847d"/>
<rect x="442.83" y="165.00" width="11.47" height="1.30" fill="#e89b96"/>
<rect x="320.00" y="166.00" width="11.47" height="1.30" fill="#2a1e80"/>
<rect x="331.17" y="166.00" width="11.47" height="1.30" fill="#4f469d"/>
<rect x="342.33" y="166.00" width="11.47" height="1.30" fill="#2a1e80"/>
<rect x="353.50" y="166.00" width="11.47" height="1.30" fill="#e7918c"/>
<rect x="364.67" y="166.00" width="11.47" height="1.30" fill="#eaa9a6"/>
<rect x="375.83" y="166.00" width="11.47" height="1.30" fill="#f0cbcb"/>
<rect x="387.00" y="166.00" width="11.47" height="1.30" fill="#e1746c"/>
<rect x="398.17" y="166.00" width="11.47" height="1.30" fill="#e1736a"/>
<rect x="409.33" y="166.00" width="11.47" height="1.30" fill="#e58b85"/>
<rect x="420.50" y="166.00" width="11.47" height="1.30" fill="#e7918c"/>
<rect x="431.67" y="166.00" width="11.47" height="1.30" fill="#e7918c"/>
<rect x="442.83" y="166.00" width="11.47" height="1.30" fill="#e68d87"/>
<rect x="320.00" y="167.00" width="11.47" height="2.30" fill="#322786"/>
<rect x="331.17" y="167.00" width="11.47" height="2.30" fill="#2a1e80"/>
<rect x="342.33" y="167.00" width="11.47" height="2.30" fill="#2a1e80"/>
<rect x="353.50" y="167.00" width="11.47" height="2.30" fill="#df675e"/>
<rect x="364.67" y="167.00" width="11.47" height="2.30" fill="#e2deee"/>
<rect x="375.83" y="167.00" width="11.47" height="2.30" fill="#f3e2e5"/>
<rect x="387.00" y="167.00" width="11.47" height="2.30" fill="#e58881"/>
<rect x="398.17" y="167.00" width="11.47" height="2.30" fill="#e58a84"/>
<rect x="409.33" y="167.00" width="11.47" height="2.30" fill="#eaa7a3"/>
<rect x="420.50" y="167.00" width="11.47" height="2.30" fill="#eec2c1"/>
<rect x="431.67" y="167.00" width="11.47" height="2.30" fill="#edbcbb"/>
<rect x="442.83" y="167.00" width="11.47" height="2.30" fill="#e68b85"/>
<rect x="320.00" y="169.00" width="11.47" height="1.30" fill="#2a1e80"/>
<rect x="331.17" y="169.00" width="11.47" height="1.30" fill="#2a1e80"/>
<rect x="342.33" y="169.00" width="11.47" height="1.30" fill="#2a1e80"/>
<rect x="353.50" y="169.00" width="11.47" height="1.30" fill="#df675e"/>
<rect x="364.67" y="169.00" width="11.47" height="1.30" fill="#e89d99"/>
<rect x="375.83" y="169.00" width="11.47" height="1.30" fill="#e7938d"/>
<rect x="387.00" y="169.00" width="11.47" height="1.30" fill="#efc7c6"/>
<rect x="398.17" y="169.00" width="11.47" height="1.30" fill="#ecb4b2"/>
<rect x="409.33" y="169.00" width="11.47" height="1.30" fill="#e9a19d"/>
<rect x="420.50" y="169.00" width="11.47" height="1.30" fill="#e68d87"/>
<rect x="431.67" y="169.00" width="11.47" height="1.30" fill="#dc5449"/>
<rect x="442.83" y="169.00" width="11.47" height="1.30" fill="#e79792"/>
<rect x="320.00" y="170.00" width="11.47" height="1.30" fill="#2a1e80"/>
<rect x="331.17" y="170.00" width="11.47" height="1.30" fill="#2a1e80"/>
<rect x="342.33" y="170.00" width="11.47" height="1.30" fill="#2a1e80"/>
<rect x="353.50" y="170.00" width="11.47" height="1.30" fill="#e7938e"/>
<rect x="364.67" y="170.00" width="11.47" height="1.30" fill="#bebadf"/>
<rect x="375.83" y="170.00" width="11.47" height="1.30" fill="#b1aed9"/>
<rect x="387.00" y="170.00" width="11.47" height="1.30" fill="#e27a72"/>
<rect x="398.17" y="170.00" width="11.47" height="1.30" fill="#e58982"/>
<rect x="409.33" y="170.00" width="11.47" height="1.30" fill="#e7928d"/>
<rect x="420.50" y="170.00" width="11.47" height="1.30" fill="#f0cfd0"/>
<rect x="431.67" y="170.00" width="11.47" height="1.30" fill="#e58881"/>
<rect x="442.83" y="170.00" width="11.47" height="1.30" fill="#eebebd"/>
<rect x="320.00" y="171.00" width="11.47" height="1.30" fill="#2a1e80"/>
<rect x="331.17" y="171.00" width="11.47" height="1.30" fill="#2a1e80"/>
<rect x="342.33" y="171.00" width="11.47" height="1.30" fill="#372c8a"/>
<rect x="353.50" y="171.00" width="11.47" height="1.30" fill="#df655c"/>
<rect x="364.67" y="171.00" width="11.47" height="1.30" fill="#e9e6f1"/>
<rect x="375.83" y="171.00" width="11.47" height="1.30" fill="#ebadaa"/>
<rect x="387.00" y="171.00" width="11.47" height="1.30" fill="#e37f78"/>
<rect x="398.17" y="171.00" width="11.47" height="1.30" fill="#e27972"/>
<rect x="409.33" y="171.00" width="11.47" height="1.30" fill="#eaa6a2"/>
<rect x="420.50" y="171.00" width="11.47" height="1.30" fill="#e9a39f"/>
<rect x="431.67" y="171.00" width="11.47" height="1.30" fill="#df675e"/>
<rect x="442.83" y="171.00" width="11.47" height="1.30" fill="#e37d75"/>
<rect x="320.00" y="172.00" width="11.47" height="2.30" fill="#2a1e80"/>
<rect x="331.17" y="172.00" width="11.47" height="2.30" fill="#322787"/>
<rect x="342.33" y="172.00" width="11.47" height="2.30" fill="#2a1e80"/>
<rect x="353.50" y="172.00" width="11.47" height="2.30" fill="#e79691"/>
<rect x="364.67" y="172.00" width="11.47" height="2.30" fill="#e89893"/>
<rect x="375.83" y="172.00" width="11.47" height="2.30" fill="#eaa6a3"/>
<rect x="387.00" y="172.00" width="11.47" height="2.30" fill="#e89c98"/>
<rect x="398.17" y="172.00" width="11.47" height="2.30" fill="#e68e88"/>
<rect x="409.33" y="172.00" width="11.47" height="2.30" fill="#e27a72"/>
<rect x="420.50" y="172.00" width="11.47" height="2.30" fill="#e89893"/>
<rect x="431.67" y="172.00" width="11.47" height="2.30" fill="#df645b"/>
<rect x="442.83" y="172.00" width="11.47" height="2.30" fill="#e6908b"/>
<rect x="320.00" y="174.00" width="11.47" height="2.30" fill="#2a1e80"/>
<rect x="331.17" y="174.00" width="11.47" height="2.30" fill="#51499f"/>
<rect x="342.33" y="174.00" width="11.47" height="2.30" fill="#2a1e80"/>
<rect x="353.50" y="174.00" width="11.47" height="2.30" fill="#de6158"/>
<rect x="364.67" y="174.00" width="11.47" height="2.30" fill="#f4e5e7"/>
<rect x="375.83" y="174.00" width="11.47" height="2.30" fill="#ebaeab"/>
<rect x="387.00" y="174.00" width="11.47" height="2.30" fill="#eaa4a0"/>
<rect x="398.17" y="174.00" width="11.47" height="2.30" fill="#df645b"/>
<rect x="409.33" y="174.00" width="11.47" height="2.30" fill="#de5e55"/>
<rect x="420.50" y="174.00" width="11.47" height="2.30" fill="#ecb4b2"/>
<rect x="431.67" y="174.00" width="11.47" height="2.30" fill="#d7382c"/>
<rect x="442.83" y="174.00" width="11.47" height="2.30" fill="#ecb1ae"/>
<rect x="320.00" y="176.00" width="11.47" height="1.30" fill="#2a1e80"/>
<rect x="331.17" y="176.00" width="11.47" height="1.30" fill="#3c328e"/>
<rect x="342.33" y="176.00" width="11.47" height="1.30" fill="#2a1e80"/>
<rect x="353.50" y="176.00" width="11.47" height="1.30" fill="#ebafac"/>
<rect x="364.67" y="176.00" width="11.47" height="1.30" fill="#ecb6b4"/>
<rect x="375.83" y="176.00" width="11.47" height="1.30" fill="#f4e3e6"/>
<rect x="387.00" y="176.00" width="11.47" height="1.30" fill="#e9a4a0"/>
<rect x="398.17" y="176.00" width="11.47" height="1.30" fill="#e89e99"/>
<rect x="409.33" y="176.00" width="11.47" height="1.30" fill="#e4857e"/>
<rect x="420.50" y="176.00" width="11.47" height="1.30" fill="#f0cccc"/>
<rect x="431.67" y="176.00" width="11.47" height="1.30" fill="#de5e54"/>
<rect x="442.83" y="176.00" width="11.47" height="1.30" fill="#e58982"/>
<rect x="320.00" y="177.00" width="11.47" height="1.30" fill="#2a1e80"/>
<rect x="331.17" y="177.00" width="11.47" height="1.30" fill="#372c8a"/>
<rect x="342.33" y="177.00" width="11.47" height="1.30" fill="#2b1f81"/>
<rect x="353.50" y="177.00" width="11.47" height="1.30" fill="#df6960"/>
<rect x="364.67" y="177.00" width="11.47" height="1.30" fill="#ecb3b1"/>
<rect x="375.83" y="177.00" width="11.47" height="1.30" fill="#e89a95"/>
<rect x="387.00" y="177.00" width="11.47" height="1.30" fill="#e06d64"/>
<rect x="398.17" y="177.00" width="11.47" height="1.30" fill="#de6359"/>
<rect x="409.33" y="177.00" width="11.47" height="1.30" fill="#e89d98"/>
<rect x="420.50" y="177.00" width="11.47" height="1.30" fill="#eec1c0"/>
<rect x="431.67" y="177.00" width="11.47" height="1.30" fill="#e58881"/>
<rect x="442.83" y="177.00" width="11.47" height="1.30" fill="#eaa5a1"/>
<rect x="320.00" y="178.00" width="11.47" height="1.30" fill="#2a1e80"/>
<rect x="331.17" y="178.00" width="11.47" height="1.30" fill="#2a1e80"/>
<rect x="342.33" y="178.00" width="11.47" height="1.30" fill="#2a1e80"/>
<rect x="353.50" y="178.00" width="11.47" height="1.30" fill="#eaa4a1"/>
<rect x="364.67" y="178.00" width="11.47" height="1.30" fill="#e9a09c"/>
<rect x="375.83" y="178.00" width="11.47" height="1.30" fill="#bbb8de"/>
<rect x="387.00" y="178.00" width="11.47" height="1.30" fill="#ebb0ae"/>
<rect x="398.17" y="178.00" width="11.47" height="1.30" fill="#e37a73"/>
<rect x="409.33" y="178.00" width="11.47" height="1.30" fill="#e58a83"/>
<rect x="420.50" y="178.00" width="11.47" height="1.30" fill="#ebb0ad"/>
<rect x="431.67" y="178.00" width="11.47" height="1.30" fill="#e6908b"/>
<rect x="442.83" y="178.00" width="11.47" height="1.30" fill="#e7938e"/>
<rect x="320.00" y="179.00" width="11.47" height="1.30" fill="#2a1e80"/>
<rect x="331.17" y="179.00" width="11.47" height="1.30" fill="#2a1e80"/>
<rect x="342.33" y="179.00" width="11.47" height="1.30" fill="#2a1e80"/>
<rect x="353.50" y="179.00" width="11.47" height="1.30" fill="#edbcba"/>
<rect x="364.67" y="179.00" width="11.47" height="1.30" fill="#f2d9da"/>
<rect x="375.83" y="179.00" width="11.47" height="1.30" fill="#e58982"/>
<rect x="387.00" y="179.00" width="11.47" height="1.30" fill="#e7938d"/>
<rect x="398.17" y="179.00" width="11.47" height="1.30" fill="#e79691"/>
<rect x="409.33" y="179.00" width="11.47" height="1.30" fill="#e89893"/>
<rect x="420.50" y="179.00" width="11.47" height="1.30" fill="#ebafad"/>
<rect x="431.67" y="179.00" width="11.47" height="1.30" fill="#e9a39f"/>
<rect x="442.83" y="179.00" width="11.47" height="1.30" fill="#e89994"/>
<rect x="320.00" y="180.00" width="11.47" height="1.30" fill="#2a1e80"/>
<rect x="331.17" y="180.00" width="11.47" height="1.30" fill="#4c439b"/>
<rect x="342.33" y="180.00" width="11.47" height="1.30" fill="#2a1e80"/>
<rect x="353.50" y="180.00" width="11.47" height="1.30" fill="#e7948f"/>
<rect x="364.67" y="180.00" width="11.47" height="1.30" fill="#db5045"/>
<rect x="375.83" y="180.00" width="11.47" height="1.30" fill="#f0cece"/>
<rect x="387.00" y="180.00" width="11.47" height="1.30" fill="#e5867f"/>
<rect x="398.17" y="180.00" width="11.47" height="1.30" fill="#eaa4a0"/>
<rect x="409.33" y="180.00" width="11.47" height="1.30" fill="#e79590"/>
<rect x="420.50" y="180.00" width="11.47" height="1.30" fill="#e89b96"/>
<rect x="431.67" y="180.00" width="11.47" height="1.30" fill="#de5f56"/>
<rect x="442.83" y="180.00" width="11.47" height="1.30" fill="#e06c63"/>
<rect x="320.00" y="181.00" width="11.47" height="1.30" fill="#2a1e80"/>
<rect x="331.17" y="181.00" width="11.47" height="1.30" fill="#2a1e80"/>
<rect x="342.33" y="181.00" width="11.47" height="1.30" fill="#2a1e80"/>
<rect x="353.50" y="181.00" width="11.47" height="1.30" fill="#f5edf0"/>
<rect x="364.67" y="181.00" width="11.47" height="1.30" fill="#e58a83"/>
<rect x="375.83" y="181.00" width="11.47" height="1.30" fill="#e4847d"/>
<rect x="387.00" y="181.00" width="11.47" height="1.30" fill="#eaa5a1"/>
<rect x="398.17" y="181.00" width="11.47" height="1.30" fill="#e2776f"/>
<rect x="409.33" y="181.00" width="11.47" height="1.30" fill="#e89a95"/>
<rect x="420.50" y="181.00" width="11.47" height="1.30" fill="#e89893"/>
<rect x="431.67" y="181.00" width="11.47" height="1.30" fill="#e68c86"/>
<rect x="442.83" y="181.00" width="11.47" height="1.30" fill="#e58881"/>
<rect x="320.00" y="182.00" width="11.47" height="1.30" fill="#2a1e80"/>
<rect x="331.17" y="182.00" width="11.47" height="1.30" fill="#2a1e80"/>
<rect x="342.33" y="182.00" width="11.47" height="1.30" fill="#2a1e80"/>
<rect x="353.50" y="182.00" width="11.47" height="1.30" fill="#e99f9a"/>
<rect x="364.67" y="182.00" width="11.47" height="1.30" fill="#f3dddf"/>
<rect x="375.83" y="182.00" width="11.47" height="1.30" fill="#edb9b7"/>
<rect x="387.00" y="182.00" width="11.47" height="1.30" fill="#e79691"/>
<rect x="398.17" y="182.00" width="11.47" height="1.30" fill="#f4e5e8"/>
<rect x="409.33" y="182.00" width="11.47" height="1.30" fill="#e58b84"/>
<rect x="420.50" y="182.00" width="11.47" height="1.30" fill="#e9a19d"/>
<rect x="431.67" y="182.00" width="11.47" height="1.30" fill="#db5248"/>
<rect x="442.83" y="182.00" width="11.47" height="1.30" fill="#eaa9a6"/>
<rect x="320.00" y="183.00" width="11.47" height="2.30" fill="#2a1e80"/>
<rect x="331.17" y="183.00" width="11.47" height="2.30" fill="#2a1e80"/>
<rect x="342.33" y="183.00" width="11.47" height="2.30" fill="#2a1e80"/>
<rect x="353.50" y="183.00" width="11.47" height="2.30" fill="#f0cccc"/>
<rect x="364.67" y="183.00" width="11.47" height="2.30" fill="#f1d2d3"/>
<rect x="375.83" y="183.00" width="11.47" height="2.30" fill="#f4e5e8"/>
<rect x="387.00" y="183.00" width="11.47" height="2.30" fill="#df675e"/>
<rect x="398.17" y="183.00" width="11.47" height="2.30" fill="#e99f9b"/>
<rect x="409.33" y="183.00" width="11.47" height="2.30" fill="#e1736b"/>
<rect x="420.50" y="183.00" width="11.47" height="2.30" fill="#ebaca9"/>
<rect x="431.67" y="183.00" width="11.47" height="2.30" fill="#df6960"/>
<rect x="442.83" y="183.00" width="11.47" height="2.30" fill="#ebaca9"/>
<rect x="320.00" y="185.00" width="11.47" height="1.30" fill="#2a1e80"/>
<rect x="331.17" y="185.00" width="11.47" height="1.30" fill="#2a1e80"/>
<rect x="342.33" y="185.00" width="11.47" height="1.30" fill="#3e3490"/>
<rect x="353.50" y="185.00" width="11.47" height="1.30" fill="#f4e4e6"/>
<rect x="364.67" y="185.00" width="11.47" height="1.30" fill="#eae7f2"/>
<rect x="375.83" y="185.00" width="11.47" height="1.30" fill="#f2dadc"/>
<rect x="387.00" y="185.00" width="11.47" height="1.30" fill="#e1736a"/>
<rect x="398.17" y="185.00" width="11.47" height="1.30" fill="#edb9b7"/>
<rect x="409.33" y="185.00" width="11.47" height="1.30" fill="#e06e65"/>
<rect x="420.50" y="185.00" width="11.47" height="1.30" fill="#df685f"/>
<rect x="431.67" y="185.00" width="11.47" height="1.30" fill="#db4d42"/>
<rect x="442.83" y="185.00" width="11.47" height="1.30" fill="#e06b63"/>
<rect x="320.00" y="186.00" width="11.47" height="1.30" fill="#2a1e80"/>
<rect x="331.17" y="186.00" width="11.47" height="1.30" fill="#2a1e80"/>
<rect x="342.33" y="186.00" width="11.47" height="1.30" fill="#2a1e80"/>
<rect x="353.50" y="186.00" width="11.47" height="1.30" fill="#f2dadc"/>
<rect x="364.67" y="186.00" width="11.47" height="1.30" fill="#d1cee7"/>
<rect x="375.83" y="186.00" width="11.47" height="1.30" fill="#9490cc"/>
<rect x="387.00" y="186.00" width="11.47" height="1.30" fill="#e37f78"/>
<rect x="398.17" y="186.00" width="11.47" height="1.30" fill="#e89994"/>
<rect x="409.33" y="186.00" width="11.47" height="1.30" fill="#e37a73"/>
<rect x="420.50" y="186.00" width="11.47" height="1.30" fill="#edbbb9"/>
<rect x="431.67" y="186.00" width="11.47" height="1.30" fill="#e4827b"/>
<rect x="442.83" y="186.00" width="11.47" height="1.30" fill="#eaa8a5"/>
<rect x="320.00" y="187.00" width="11.47" height="2.30" fill="#332887"/>
<rect x="331.17" y="187.00" width="11.47" height="2.30" fill="#483e97"/>
<rect x="342.33" y="187.00" width="11.47" height="2.30" fill="#7570bb"/>
<rect x="353.50" y="187.00" width="11.47" height="2.30" fill="#bebadf"/>
<rect x="364.67" y="187.00" width="11.47" height="2.30" fill="#f0cfd0"/>
<rect x="375.83" y="187.00" width="11.47" height="2.30" fill="#edbbba"/>
<rect x="387.00" y="187.00" width="11.47" height="2.30" fill="#e6908a"/>
<rect x="398.17" y="187.00" width="11.47" height="2.30" fill="#e6908a"/>
<rect x="409.33" y="187.00" width="11.47" height="2.30" fill="#e7938e"/>
<rect x="420.50" y="187.00" width="11.47" height="2.30" fill="#e89d98"/>
<rect x="431.67" y="187.00" width="11.47" height="2.30" fill="#d4281a"/>
<rect x="442.83" y="187.00" width="11.47" height="2.30" fill="#e27870"/>
<rect x="320.00" y="189.00" width="11.47" height="1.30" fill="#2a1e80"/>
<rect x="331.17" y="189.00" width="11.47" height="1.30" fill="#4c439b"/>
<rect x="342.33" y="189.00" width="11.47" height="1.30" fill="#50489e"/>
<rect x="353.50" y="189.00" width="11.47" height="1.30" fill="#f5f2f6"/>
<rect x="364.67" y="189.00" width="11.47" height="1.30" fill="#aba7d6"/>
<rect x="375.83" y="189.00" width="11.47" height="1.30" fill="#eebfbe"/>
<rect x="387.00" y="189.00" width="11.47" height="1.30" fill="#e58a83"/>
<rect x="398.17" y="189.00" width="11.47" height="1.30" fill="#e37b73"/>
<rect x="409.33" y="189.00" width="11.47" height="1.30" fill="#e79691"/>
<rect x="420.50" y="189.00" width="11.47" height="1.30" fill="#e58a84"/>
<rect x="431.67" y="189.00" width="11.47" height="1.30" fill="#d9473b"/>
<rect x="442.83" y="189.00" width="11.47" height="1.30" fill="#e27972"/>
<rect x="320.00" y="190.00" width="11.47" height="1.30" fill="#2a1e80"/>
<rect x="331.17" y="190.00" width="11.47" height="1.30" fill="#2a1e80"/>
<rect x="342.33" y="190.00" width="11.47" height="1.30" fill="#2a1e80"/>
<rect x="353.50" y="190.00" width="11.47" height="1.30" fill="#f2eff5"/>
<rect x="364.67" y="190.00" width="11.47" height="1.30" fill="#f0cbcb"/>
<rect x="375.83" y="190.00" width="11.47" height="1.30" fill="#c4c1e2"/>
<rect x="387.00" y="190.00" width="11.47" height="1.30" fill="#dd5a50"/>
<rect x="398.17" y="190.00" width="11.47" height="1.30" fill="#db5146"/>
<rect x="409.33" y="190.00" width="11.47" height="1.30" fill="#de5e55"/>
<rect x="420.50" y="190.00" width="11.47" height="1.30" fill="#dedbed"/>
<rect x="431.67" y="190.00" width="11.47" height="1.30" fill="#dc5449"/>
<rect x="442.83" y="190.00" width="11.47" height="1.30" fill="#e58781"/>
<rect x="320.00" y="191.00" width="11.47" height="1.30" fill="#2d2283"/>
<rect x="331.17" y="191.00" width="11.47" height="1.30" fill="#2d2182"/>
<rect x="342.33" y="191.00" width="11.47" height="1.30" fill="#2a1e80"/>
<rect x="353.50" y="191.00" width="11.47" height="1.30" fill="#e89893"/>
<rect x="364.67" y="191.00" width="11.47" height="1.30" fill="#f0caca"/>
<rect x="375.83" y="191.00" width="11.47" height="1.30" fill="#d4d1e8"/>
<rect x="387.00" y="191.00" width="11.47" height="1.30" fill="#e37a73"/>
<rect x="398.17" y="191.00" width="11.47" height="1.30" fill="#e4827b"/>
<rect x="409.33" y="191.00" width="11.47" height="1.30" fill="#e58780"/>
<rect x="420.50" y="191.00" width="11.47" height="1.30" fill="#f0cbcb"/>
<rect x="431.67" y="191.00" width="11.47" height="1.30" fill="#dc574d"/>
<rect x="442.83" y="191.00" width="11.47" height="1.30" fill="#e37c74"/>
<rect x="320.00" y="192.00" width="11.47" height="2.30" fill="#2a1e80"/>
<rect x="331.17" y="192.00" width="11.47" height="2.30" fill="#342988"/>
<rect x="342.33" y="192.00" width="11.47" height="2.30" fill="#2a1e80"/>
<rect x="353.50" y="192.00" width="11.47" height="2.30" fill="#625bac"/>
<rect x="364.67" y="192.00" width="11.47" height="2.30" fill="#807cc4"/>
<rect x="375.83" y="192.00" width="11.47" height="2.30" fill="#eec0bf"/>
<rect x="387.00" y="192.00" width="11.47" height="2.30" fill="#e06f66"/>
<rect x="398.17" y="192.00" width="11.47" height="2.30" fill="#ebadab"/>
<rect x="409.33" y="192.00" width="11.47" height="2.30" fill="#eec0bf"/>
<rect x="420.50" y="192.00" width="11.47" height="2.30" fill="#f0cfd0"/>
<rect x="431.67" y="192.00" width="11.47" height="2.30" fill="#eaa5a1"/>
<rect x="442.83" y="192.00" width="11.47" height="2.30" fill="#ebadaa"/>
<rect x="320.00" y="194.00" width="11.47" height="2.30" fill="#2a1e80"/>
<rect x="331.17" y="194.00" width="11.47" height="2.30" fill="#2f2484"/>
<rect x="342.33" y="194.00" width="11.47" height="2.30" fill="#6a64b3"/>
<rect x="353.50" y="194.00" width="11.47" height="2.30" fill="#c3bfe1"/>
<rect x="364.67" y="194.00" width="11.47" height="2.30" fill="#8682c7"/>
<rect x="375.83" y="194.00" width="11.47" height="2.30" fill="#f1d2d3"/>
<rect x="387.00" y="194.00" width="11.47" height="2.30" fill="#e1726a"/>
<rect x="398.17" y="194.00" width="11.47" height="2.30" fill="#e4857e"/>
<rect x="409.33" y="194.00" width="11.47" height="2.30" fill="#e89994"/>
<rect x="420.50" y="194.00" width="11.47" height="2.30" fill="#e17067"/>
<rect x="431.67" y="194.00" width="11.47" height="2.30" fill="#e2756d"/>
<rect x="442.83" y="194.00" width="11.47" height="2.30" fill="#df655c"/>
<rect x="320.00" y="196.00" width="11.47" height="2.30" fill="#463d96"/>
<rect x="331.17" y="196.00" width="11.47" height="2.30" fill="#4b429a"/>
<rect x="342.33" y="196.00" width="11.47" height="2.30" fill="#2a1e80"/>
<rect x="353.50" y="196.00" width="11.47" height="2.30" fill="#e5e2f0"/>
<rect x="364.67" y="196.00" width="11.47" height="2.30" fill="#827ec5"/>
<rect x="375.83" y="196.00" width="11.47" height="2.30" fill="#edbbb9"/>
<rect x="387.00" y="196.00" width="11.47" height="2.30" fill="#e68f89"/>
<rect x="398.17" y="196.00" width="11.47" height="2.30" fill="#e6908a"/>
<rect x="409.33" y="196.00" width="11.47" height="2.30" fill="#dd5c52"/>
<rect x="420.50" y="196.00" width="11.47" height="2.30" fill="#f3e2e4"/>
<rect x="431.67" y="196.00" width="11.47" height="2.30" fill="#edbab8"/>
<rect x="442.83" y="196.00" width="11.47" height="2.30" fill="#e16f67"/>
<rect x="320.00" y="198.00" width="11.47" height="2.30" fill="#2a1e80"/>
<rect x="331.17" y="198.00" width="11.47" height="2.30" fill="#302485"/>
<rect x="342.33" y="198.00" width="11.47" height="2.30" fill="#2a1e80"/>
<rect x="353.50" y="198.00" width="11.47" height="2.30" fill="#c3c0e1"/>
<rect x="364.67" y="198.00" width="11.47" height="2.30" fill="#5f58aa"/>
<rect x="375.83" y="198.00" width="11.47" height="2.30" fill="#f1d6d7"/>
<rect x="387.00" y="198.00" width="11.47" height="2.30" fill="#eaa8a4"/>
<rect x="398.17" y="198.00" width="11.47" height="2.30" fill="#e6918b"/>
<rect x="409.33" y="198.00" width="11.47" height="2.30" fill="#e4827b"/>
<rect x="420.50" y="198.00" width="11.47" height="2.30" fill="#edb8b6"/>
<rect x="431.67" y="198.00" width="11.47" height="2.30" fill="#f3dddf"/>
<rect x="442.83" y="198.00" width="11.47" height="2.30" fill="#e7948f"/>
<rect x="320.00" y="200.00" width="11.47" height="1.30" fill="#3f3590"/>
<rect x="331.17" y="200.00" width="11.47" height="1.30" fill="#4a419a"/>
<rect x="342.33" y="200.00" width="11.47" height="1.30" fill="#2a1e80"/>
<rect x="353.50" y="200.00" width="11.47" height="1.30" fill="#f4e5e8"/>
<rect x="364.67" y="200.00" width="11.47" height="1.30" fill="#eaa8a4"/>
<rect x="375.83" y="200.00" width="11.47" height="1.30" fill="#e89b96"/>
<rect x="387.00" y="200.00" width="11.47" height="1.30" fill="#e9a29e"/>
<rect x="398.17" y="200.00" width="11.47" height="1.30" fill="#eebebd"/>
<rect x="409.33" y="200.00" width="11.47" height="1.30" fill="#e7948e"/>
<rect x="420.50" y="200.00" width="11.47" height="1.30" fill="#e58a83"/>
<rect x="431.67" y="200.00" width="11.47" height="1.30" fill="#e1726a"/>
<rect x="442.83" y="200.00" width="11.47" height="1.30" fill="#e37e77"/>
<rect x="320.00" y="201.00" width="11.47" height="0.50" fill="#706bb7"/>
<rect x="331.17" y="201.00" width="11.47" height="0.50" fill="#2a1e80"/>
<rect x="342.33" y="201.00" width="11.47" height="0.50" fill="#403691"/>
<rect x="353.50" y="201.00" width="11.47" height="0.50" fill="#f0cece"/>
<rect x="364.67" y="201.00" width="11.47" height="0.50" fill="#6d67b5"/>
<rect x="375.83" y="201.00" width="11.47" height="0.50" fill="#eebebd"/>
<rect x="387.00" y="201.00" width="11.47" height="0.50" fill="#da4b40"/>
<rect x="398.17" y="201.00" width="11.47" height="0.50" fill="#e4817a"/>
<rect x="409.33" y="201.00" width="11.47" height="0.50" fill="#ebaca9"/>
<rect x="420.50" y="201.00" width="11.47" height="0.50" fill="#e7938e"/>
<rect x="431.67" y="201.00" width="11.47" height="0.50" fill="#d84034"/>
<rect x="442.83" y="201.00" width="11.47" height="0.50" fill="#df645b"/>
<rect x="320.00" y="201.20" width="11.47" height="2.30" fill="#2a1e80"/>
<rect x="331.17" y="201.20" width="11.47" height="2.30" fill="#615aac"/>
<rect x="342.33" y="201.20" width="11.47" height="2.30" fill="#2a1e80"/>
<rect x="353.50" y="201.20" width="11.47" height="2.30" fill="#2a1e80"/>
<rect x="364.67" y="201.20" width="11.47" height="2.30" fill="#2a1e80"/>
<rect x="375.83" y="201.20" width="11.47" height="2.30" fill="#9490cd"/>
<rect x="387.00" y="201.20" width="11.47" height="2.30" fill="#e4857e"/>
<rect x="398.17" y="201.20" width="11.47" height="2.30" fill="#ecb5b3"/>
<rect x="409.33" y="201.20" width="11.47" height="2.30" fill="#e58a83"/>
<rect x="420.50" y="201.20" width="11.47" height="2.30" fill="#eaaaa7"/>
<rect x="431.67" y="201.20" width="11.47" height="2.30" fill="#dc554b"/>
<rect x="442.83" y="201.20" width="11.47" height="2.30" fill="#eaa9a6"/>
<rect x="320.00" y="203.20" width="11.47" height="1.30" fill="#bab6dd"/>
<rect x="331.17" y="203.20" width="11.47" height="1.30" fill="#d5d2e9"/>
<rect x="342.33" y="203.20" width="11.47" height="1.30" fill="#7570bb"/>
<rect x="353.50" y="203.20" width="11.47" height="1.30" fill="#2a1e80"/>
<rect x="364.67" y="203.20" width="11.47" height="1.30" fill="#2a1e80"/>
<rect x="375.83" y="203.20" width="11.47" height="1.30" fill="#a8a5d5"/>
<rect x="387.00" y="203.20" width="11.47" height="1.30" fill="#e7958f"/>
<rect x="398.17" y="203.20" width="11.47" height="1.30" fill="#ebaba8"/>
<rect x="409.33" y="203.20" width="11.47" height="1.30" fill="#e89e99"/>
<rect x="420.50" y="203.20" width="11.47" height="1.30" fill="#e79691"/>
<rect x="431.67" y="203.20" width="11.47" height="1.30" fill="#df6960"/>
<rect x="442.83" y="203.20" width="11.47" height="1.30" fill="#de6158"/>
<rect x="320.00" y="204.20" width="11.47" height="1.30" fill="#6862b1"/>
<rect x="331.17" y="204.20" width="11.47" height="1.30" fill="#c7c4e3"/>
<rect x="342.33" y="204.20" width="11.47" height="1.30" fill="#6e68b6"/>
<rect x="353.50" y="204.20" width="11.47" height="1.30" fill="#2a1e80"/>
<rect x="364.67" y="204.20" width="11.47" height="1.30" fill="#483e97"/>
<rect x="375.83" y="204.20" width="11.47" height="1.30" fill="#7d79c2"/>
<rect x="387.00" y="204.20" width="11.47" height="1.30" fill="#dc574d"/>
<rect x="398.17" y="204.20" width="11.47" height="1.30" fill="#e4827b"/>
<rect x="409.33" y="204.20" width="11.47" height="1.30" fill="#e79691"/>
<rect x="420.50" y="204.20" width="11.47" height="1.30" fill="#ebb0ae"/>
<rect x="431.67" y="204.20" width="11.47" height="1.30" fill="#e17169"/>
<rect x="442.83" y="204.20" width="11.47" height="1.30" fill="#e99e9a"/>
<rect x="320.00" y="205.20" width="11.47" height="1.30" fill="#ccc9e5"/>
<rect x="331.17" y="205.20" width="11.47" height="1.30" fill="#6760b0"/>
<rect x="342.33" y="205.20" width="11.47" height="1.30" fill="#8985c8"/>
<rect x="353.50" y="205.20" width="11.47" height="1.30" fill="#2a1e80"/>
<rect x="364.67" y="205.20" width="11.47" height="1.30" fill="#2a1e80"/>
<rect x="375.83" y="205.20" width="11.47" height="1.30" fill="#a8a4d5"/>
<rect x="387.00" y="205.20" width="11.47" height="1.30" fill="#eaa5a1"/>
<rect x="398.17" y="205.20" width="11.47" height="1.30" fill="#df6960"/>
<rect x="409.33" y="205.20" width="11.47" height="1.30" fill="#eec0bf"/>
<rect x="420.50" y="205.20" width="11.47" height="1.30" fill="#e9a4a0"/>
<rect x="431.67" y="205.20" width="11.47" height="1.30" fill="#db4e43"/>
<rect x="442.83" y="205.20" width="11.47" height="1.30" fill="#e37f78"/>
<rect x="320.00" y="206.20" width="11.47" height="1.30" fill="#3e3490"/>
<rect x="331.17" y="206.20" width="11.47" height="1.30" fill="#615aab"/>
<rect x="342.33" y="206.20" width="11.47" height="1.30" fill="#8a86c8"/>
<rect x="353.50" y="206.20" width="11.47" height="1.30" fill="#3a308d"/>
<rect x="364.67" y="206.20" width="11.47" height="1.30" fill="#2a1e80"/>
<rect x="375.83" y="206.20" width="11.47" height="1.30" fill="#9b97d0"/>
<rect x="387.00" y="206.20" width="11.47" height="1.30" fill="#e4827b"/>
<rect x="398.17" y="206.20" width="11.47" height="1.30" fill="#f2d9db"/>
<rect x="409.33" y="206.20" width="11.47" height="1.30" fill="#f2dadc"/>
<rect x="420.50" y="206.20" width="11.47" height="1.30" fill="#ecb5b3"/>
<rect x="431.67" y="206.20" width="11.47" height="1.30" fill="#e16f67"/>
<rect x="442.83" y="206.20" width="11.47" height="1.30" fill="#df675e"/>
<rect x="320.00" y="207.20" width="11.47" height="2.30" fill="#eec3c2"/>
<rect x="331.17" y="207.20" width="11.47" height="2.30" fill="#f5eef1"/>
<rect x="342.33" y="207.20" width="11.47" height="2.30" fill="#574fa4"/>
<rect x="353.50" y="207.20" width="11.47" height="2.30" fill="#362b8a"/>
<rect x="364.67" y="207.20" width="11.47" height="2.30" fill="#3a308d"/>
<rect x="375.83" y="207.20" width="11.47" height="2.30" fill="#9490cd"/>
<rect x="387.00" y="207.20" width="11.47" height="2.30" fill="#d4281a"/>
<rect x="398.17" y="207.20" width="11.47" height="2.30" fill="#e1746c"/>
<rect x="409.33" y="207.20" width="11.47" height="2.30" fill="#ecb3b0"/>
<rect x="420.50" y="207.20" width="11.47" height="2.30" fill="#f3dfe1"/>
<rect x="431.67" y="207.20" width="11.47" height="2.30" fill="#d94236"/>
<rect x="442.83" y="207.20" width="11.47" height="2.30" fill="#edbcbb"/>
<rect x="320.00" y="209.20" width="11.47" height="1.30" fill="#8582c6"/>
<rect x="331.17" y="209.20" width="11.47" height="1.30" fill="#403792"/>
<rect x="342.33" y="209.20" width="11.47" height="1.30" fill="#554da2"/>
<rect x="353.50" y="209.20" width="11.47" height="1.30" fill="#2a1e80"/>
<rect x="364.67" y="209.20" width="11.47" height="1.30" fill="#2a1e80"/>
<rect x="375.83" y="209.20" width="11.47" height="1.30" fill="#f3e1e3"/>
<rect x="387.00" y="209.20" width="11.47" height="1.30" fill="#e79691"/>
<rect x="398.17" y="209.20" width="11.47" height="1.30" fill="#e27971"/>
<rect x="409.33" y="209.20" width="11.47" height="1.30" fill="#ecb1ae"/>
<rect x="420.50" y="209.20" width="11.47" height="1.30" fill="#e4837d"/>
<rect x="431.67" y="209.20" width="11.47" height="1.30" fill="#eaa9a5"/>
<rect x="442.83" y="209.20" width="11.47" height="1.30" fill="#eebfbe"/>
<rect x="320.00" y="210.20" width="11.47" height="1.30" fill="#a09dd2"/>
<rect x="331.17" y="210.20" width="11.47" height="1.30" fill="#392e8c"/>
<rect x="342.33" y="210.20" width="11.47" height="1.30" fill="#3b318e"/>
<rect x="353.50" y="210.20" width="11.47" height="1.30" fill="#2a1e80"/>
<rect x="364.67" y="210.20" width="11.47" height="1.30" fill="#2a1e80"/>
<rect x="375.83" y="210.20" width="11.47" height="1.30" fill="#3e3390"/>
<rect x="387.00" y="210.20" width="11.47" height="1.30" fill="#ede9f3"/>
<rect x="398.17" y="210.20" width="11.47" height="1.30" fill="#edbcba"/>
<rect x="409.33" y="210.20" width="11.47" height="1.30" fill="#f3e0e3"/>
<rect x="420.50" y="210.20" width="11.47" height="1.30" fill="#eebebd"/>
<rect x="431.67" y="210.20" width="11.47" height="1.30" fill="#e89e99"/>
<rect x="442.83" y="210.20" width="11.47" height="1.30" fill="#eec0bf"/>
<rect x="320.00" y="211.20" width="11.47" height="2.30" fill="#2a1e80"/>
<rect x="331.17" y="211.20" width="11.47" height="2.30" fill="#443b95"/>
<rect x="342.33" y="211.20" width="11.47" height="2.30" fill="#2a1e80"/>
<rect x="353.50" y="211.20" width="11.47" height="2.30" fill="#2a1e80"/>
<rect x="364.67" y="211.20" width="11.47" height="2.30" fill="#3a2f8d"/>
<rect x="375.83" y="211.20" width="11.47" height="2.30" fill="#726cb9"/>
<rect x="387.00" y="211.20" width="11.47" height="2.30" fill="#dd5c52"/>
<rect x="398.17" y="211.20" width="11.47" height="2.30" fill="#e89e99"/>
<rect x="409.33" y="211.20" width="11.47" height="2.30" fill="#e4837d"/>
<rect x="420.50" y="211.20" width="11.47" height="2.30" fill="#df645a"/>
<rect x="431.67" y="211.20" width="11.47" height="2.30" fill="#eaa6a3"/>
<rect x="442.83" y="211.20" width="11.47" height="2.30" fill="#e06b63"/>
<rect x="320.00" y="213.20" width="11.47" height="2.30" fill="#8581c6"/>
<rect x="331.17" y="213.20" width="11.47" height="2.30" fill="#9995cf"/>
<rect x="342.33" y="213.20" width="11.47" height="2.30" fill="#726db9"/>
<rect x="353.50" y="213.20" width="11.47" height="2.30" fill="#2a1e80"/>
<rect x="364.67" y="213.20" width="11.47" height="2.30" fill="#2a1e80"/>
<rect x="375.83" y="213.20" width="11.47" height="2.30" fill="#8f8bca"/>
<rect x="387.00" y="213.20" width="11.47" height="2.30" fill="#e27971"/>
<rect x="398.17" y="213.20" width="11.47" height="2.30" fill="#e68c86"/>
<rect x="409.33" y="213.20" width="11.47" height="2.30" fill="#e2766e"/>
<rect x="420.50" y="213.20" width="11.47" height="2.30" fill="#e06f66"/>
<rect x="431.67" y="213.20" width="11.47" height="2.30" fill="#e2766f"/>
<rect x="442.83" y="213.20" width="11.47" height="2.30" fill="#da4b40"/>
<rect x="320.00" y="215.20" width="11.47" height="1.30" fill="#50479e"/>
<rect x="331.17" y="215.20" width="11.47" height="1.30" fill="#d7d4ea"/>
<rect x="342.33" y="215.20" width="11.47" height="1.30" fill="#494098"/>
<rect x="353.50" y="215.20" width="11.47" height="1.30" fill="#2a1e80"/>
<rect x="364.67" y="215.20" width="11.47" height="1.30" fill="#2b1f81"/>
<rect x="375.83" y="215.20" width="11.47" height="1.30" fill="#bcb9de"/>
<rect x="387.00" y="215.20" width="11.47" height="1.30" fill="#d73a2d"/>
<rect x="398.17" y="215.20" width="11.47" height="1.30" fill="#e68c86"/>
<rect x="409.33" y="215.20" width="11.47" height="1.30" fill="#f1d5d6"/>
<rect x="420.50" y="215.20" width="11.47" height="1.30" fill="#e48079"/>
<rect x="431.67" y="215.20" width="11.47" height="1.30" fill="#dd5a50"/>
<rect x="442.83" y="215.20" width="11.47" height="1.30" fill="#e4857f"/>
<rect x="320.00" y="216.20" width="11.47" height="1.30" fill="#bab7dd"/>
<rect x="331.17" y="216.20" width="11.47" height="1.30" fill="#bbb7dd"/>
<rect x="342.33" y="216.20" width="11.47" height="1.30" fill="#afabd8"/>
<rect x="353.50" y="216.20" width="11.47" height="1.30" fill="#5d55a8"/>
<rect x="364.67" y="216.20" width="11.47" height="1.30" fill="#342988"/>
<rect x="375.83" y="216.20" width="11.47" height="1.30" fill="#51499f"/>
<rect x="387.00" y="216.20" width="11.47" height="1.30" fill="#d83c2f"/>
<rect x="398.17" y="216.20" width="11.47" height="1.30" fill="#dd594f"/>
<rect x="409.33" y="216.20" width="11.47" height="1.30" fill="#e48079"/>
<rect x="420.50" y="216.20" width="11.47" height="1.30" fill="#e27972"/>
<rect x="431.67" y="216.20" width="11.47" height="1.30" fill="#e27a73"/>
<rect x="442.83" y="216.20" width="11.47" height="1.30" fill="#d4281a"/>
<rect x="320.00" y="217.20" width="11.47" height="1.30" fill="#b0add9"/>
<rect x="331.17" y="217.20" width="11.47" height="1.30" fill="#8c88c9"/>
<rect x="342.33" y="217.20" width="11.47" height="1.30" fill="#8a86c8"/>
<rect x="353.50" y="217.20" width="11.47" height="1.30" fill="#2a1e80"/>
<rect x="364.67" y="217.20" width="11.47" height="1.30" fill="#2a1e80"/>
<rect x="375.83" y="217.20" width="11.47" height="1.30" fill="#908ccb"/>
<rect x="387.00" y="217.20" width="11.47" height="1.30" fill="#e68d87"/>
<rect x="398.17" y="217.20" width="11.47" height="1.30" fill="#e06b62"/>
<rect x="409.33" y="217.20" width="11.47" height="1.30" fill="#ebadaa"/>
<rect x="420.50" y="217.20" width="11.47" height="1.30" fill="#dc584e"/>
<rect x="431.67" y="217.20" width="11.47" height="1.30" fill="#d52e20"/>
<rect x="442.83" y="217.20" width="11.47" height="1.30" fill="#e58983"/>
<rect x="320.00" y="218.20" width="11.47" height="1.30" fill="#837fc5"/>
<rect x="331.17" y="218.20" width="11.47" height="1.30" fill="#f1eef5"/>
<rect x="342.33" y="218.20" width="11.47" height="1.30" fill="#5d56a9"/>
<rect x="353.50" y="218.20" width="11.47" height="1.30" fill="#2b1f81"/>
<rect x="364.67" y="218.20" width="11.47" height="1.30" fill="#2f2484"/>
<rect x="375.83" y="218.20" width="11.47" height="1.30" fill="#534aa0"/>
<rect x="387.00" y="218.20" width="11.47" height="1.30" fill="#e58a84"/>
<rect x="398.17" y="218.20" width="11.47" height="1.30" fill="#eaaaa6"/>
<rect x="409.33" y="218.20" width="11.47" height="1.30" fill="#e68f89"/>
<rect x="420.50" y="218.20" width="11.47" height="1.30" fill="#e37d75"/>
<rect x="431.67" y="218.20" width="11.47" height="1.30" fill="#e58780"/>
<rect x="442.83" y="218.20" width="11.47" height="1.30" fill="#e7958f"/>
<rect x="320.00" y="219.20" width="11.47" height="1.10" fill="#635dad"/>
<rect x="331.17" y="219.20" width="11.47" height="1.10" fill="#7671bc"/>
<rect x="342.33" y="219.20" width="11.47" height="1.10" fill="#6059ab"/>
<rect x="353.50" y="219.20" width="11.47" height="1.10" fill="#2a1e80"/>
<rect x="364.67" y="219.20" width="11.47" height="1.10" fill="#312585"/>
<rect x="375.83" y="219.20" width="11.47" height="1.10" fill="#4f469d"/>
<rect x="387.00" y="219.20" width="11.47" height="1.10" fill="#e37d76"/>
<rect x="398.17" y="219.20" width="11.47" height="1.10" fill="#e89c97"/>
<rect x="409.33" y="219.20" width="11.47" height="1.10" fill="#f2d8d9"/>
<rect x="420.50" y="219.20" width="11.47" height="1.10" fill="#e27871"/>
<rect x="431.67" y="219.20" width="11.47" height="1.10" fill="#e37b74"/>
<rect x="442.83" y="219.20" width="11.47" height="1.10" fill="#e89893"/>
<line x1="320.00" y1="72.30" x2="454.00" y2="72.30" stroke="#555" stroke-width="0.7" opacity="0.8"/>
<line x1="320.00" y1="87.70" x2="454.00" y2="87.70" stroke="#555" stroke-width="0.7" opacity="0.8"/>
<line x1="320.00" y1="103.30" x2="454.00" y2="103.30" stroke="#555" stroke-width="0.7" opacity="0.8"/>
<line x1="320.00" y1="201.20" x2="454.00" y2="201.20" stroke="#555" stroke-width="0.7" opacity="0.8"/>
<rect x="312.3" y="43.0" width="5.6" height="177.0" fill="#000"/>
<path d="M310.40,43.15H317.9M311.86,43.42H317.9M311.86,43.71H317.9M311.86,43.42V43.71M310.40,43.56H311.86M310.40,43.15V43.56M310.08,43.36H310.40M311.46,44.07H317.9M311.46,44.41H317.9M311.46,44.07V44.41M310.08,44.24H311.46M310.08,43.36V44.24M309.78,43.80H310.08M312.33,44.65H317.9M312.33,44.87H317.9M312.33,44.65V44.87M312.03,44.76H312.33M312.03,45.11H317.9M312.03,44.76V45.11M311.03,44.94H312.03M311.33,45.40H317.9M311.63,45.70H317.9M312.99,45.95H317.9M312.99,46.17H317.9M312.99,45.95V46.17M311.63,46.06H312.99M311.63,45.70V46.06M311.33,45.88H311.63M311.33,45.40V45.88M311.03,45.64H311.33M311.03,44.94V45.64M309.78,45.29H311.03M309.78,43.80V45.29M307.00,44.54H309.78M310.97,46.44H317.9M310.97,46.75H317.9M310.97,46.44V46.75M310.67,46.60H310.97M311.66,47.06H317.9M311.66,47.39H317.9M311.66,47.06V47.39M311.36,47.22H311.66M311.36,47.69H317.9M311.36,47.22V47.69M310.67,47.46H311.36M310.67,46.60V47.46M307.00,47.03H310.67M307.00,44.54V47.03M305.86,45.79H307.00M312.37,47.93H317.9M312.37,48.16H317.9M312.37,47.93V48.16M310.60,48.04H312.37M312.30,48.40H317.9M312.60,48.62H317.9M312.60,48.83H317.9M312.60,48.62V48.83M312.30,48.72H312.60M312.30,48.40V48.72M310.60,48.56H312.30M310.60,48.04V48.56M310.30,48.30H310.60M312.83,49.06H317.9M312.83,49.31H317.9M312.83,49.06V49.31M310.30,49.18H312.83M310.30,48.30V49.18M310.00,48.74H310.30M311.70,49.57H317.9M312.00,49.84H317.9M312.00,50.05H317.9M312.00,49.84V50.05M311.70,49.94H312.00M311.70,49.57V49.94M310.00,49.76H311.70M310.00,48.74V49.76M305.86,49.25H310.00M305.86,45.79V49.25M305.12,47.52H305.86M310.52,50.28H317.9M311.52,50.57H317.9M311.52,50.83H317.9M311.52,50.57V50.83M310.52,50.70H311.52M310.52,50.28V50.70M308.75,50.49H310.52M312.74,51.01H317.9M312.74,51.28H317.9M312.74,51.01V51.28M311.38,51.15H312.74M312.61,51.62H317.9M312.61,51.85H317.9M312.61,51.62V51.85M311.38,51.73H312.61M311.38,51.15V51.73M311.08,51.44H311.38M312.22,52.11H317.9M312.22,52.42H317.9M312.22,52.11V52.42M311.08,52.27H312.22M311.08,51.44V52.27M308.75,51.85H311.08M308.75,50.49V51.85M308.19,51.17H308.75M312.77,52.68H317.9M312.77,52.90H317.9M312.77,52.68V52.90M311.40,52.79H312.77M311.40,53.14H317.9M311.40,52.79V53.14M310.32,52.96H311.40M312.54,53.48H317.9M312.54,53.78H317.9M312.54,53.48V53.78M310.62,53.63H312.54M310.62,54.04H317.9M310.62,53.63V54.04M310.32,53.84H310.62M310.32,52.96V53.84M308.49,53.40H310.32M312.06,54.38H317.9M312.36,54.70H317.9M312.36,54.93H317.9M312.36,54.70V54.93M312.06,54.81H312.36M312.06,54.38V54.81M308.49,54.60H312.06M308.49,53.40V54.60M308.19,54.00H308.49M308.19,51.17V54.00M305.12,52.58H308.19M305.12,47.52V52.58M303.90,50.05H305.12M311.72,55.17H317.9M311.72,55.42H317.9M311.72,55.17V55.42M311.22,55.30H311.72M311.78,55.63H317.9M312.08,55.93H317.9M312.08,56.23H317.9M312.08,55.93V56.23M311.78,56.08H312.08M311.78,55.63V56.08M311.22,55.86H311.78M311.22,55.30V55.86M308.76,55.58H311.22M311.88,56.51H317.9M311.88,56.80H317.9M311.88,56.51V56.80M310.90,56.65H311.88M310.90,57.12H317.9M310.90,56.65V57.12M309.51,56.89H310.90M312.22,57.37H317.9M312.22,57.61H317.9M312.22,57.37V57.61M311.92,57.49H312.22M312.22,57.92H317.9M312.22,58.15H317.9M312.22,57.92V58.15M311.92,58.04H312.22M311.92,57.49V58.04M311.23,57.76H311.92M311.89,58.37H317.9M311.89,58.61H317.9M311.89,58.37V58.61M311.23,58.49H311.89M311.23,57.76V58.49M309.51,58.13H311.23M309.51,56.89V58.13M308.76,57.51H309.51M308.76,55.58V57.51M306.20,56.54H308.76M311.35,58.81H317.9M311.35,59.05H317.9M311.35,58.81V59.05M310.90,58.93H311.35M310.90,59.30H317.9M310.90,58.93V59.30M310.60,59.11H310.90M312.14,59.52H317.9M312.14,59.76H317.9M312.14,59.52V59.76M311.36,59.64H312.14M311.36,60.05H317.9M311.36,59.64V60.05M310.60,59.85H311.36M310.60,59.11V59.85M310.08,59.48H310.60M311.37,60.37H317.9M312.08,60.71H317.9M312.08,60.99H317.9M312.08,60.71V60.99M311.37,60.85H312.08M311.37,60.37V60.85M310.08,60.61H311.37M310.08,59.48V60.61M308.71,60.04H310.08M312.38,61.20H317.9M312.38,61.52H317.9M312.38,61.20V61.52M310.25,61.36H312.38M312.16,61.87H317.9M312.16,62.13H317.9M312.16,61.87V62.13M310.76,62.00H312.16M310.76,62.38H317.9M310.76,62.00V62.38M310.25,62.19H310.76M310.25,61.36V62.19M309.01,61.77H310.25M311.27,62.73H317.9M311.27,63.07H317.9M311.27,62.73V63.07M310.08,62.90H311.27M312.23,63.35H317.9M312.23,63.60H317.9M312.23,63.35V63.60M310.08,63.48H312.23M310.08,62.90V63.48M309.01,63.19H310.08M309.01,61.77V63.19M308.71,62.48H309.01M308.71,60.04V62.48M306.20,61.26H308.71M306.20,56.54V61.26M305.90,58.90H306.20M312.94,63.82H317.9M312.94,64.04H317.9M312.94,63.82V64.04M311.28,63.93H312.94M311.28,64.34H317.9M311.28,63.93V64.34M310.98,64.14H311.28M310.98,64.73H317.9M310.98,64.14V64.73M308.86,64.43H310.98M312.04,65.09H317.9M312.04,65.35H317.9M312.04,65.09V65.35M311.58,65.22H312.04M311.58,65.63H317.9M311.58,65.22V65.63M308.86,65.43H311.58M308.86,64.43V65.43M308.54,64.93H308.86M312.32,65.98H317.9M312.32,66.22H317.9M312.32,65.98V66.22M311.00,66.10H312.32M311.00,66.44H317.9M311.00,66.10V66.44M310.70,66.27H311.00M311.14,66.75H317.9M311.14,67.05H317.9M311.14,66.75V67.05M310.70,66.90H311.14M310.70,66.27V66.90M309.09,66.58H310.70M311.81,67.32H317.9M311.81,67.60H317.9M311.81,67.32V67.60M310.39,67.46H311.81M310.39,67.87H317.9M310.39,67.46V67.87M309.09,67.66H310.39M309.09,66.58V67.66M308.54,67.12H309.09M308.54,64.93V67.12M305.90,66.03H308.54M305.90,58.90V66.03M301.40,62.46H305.90M311.54,68.13H317.9M311.54,68.42H317.9M311.54,68.13V68.42M310.25,68.28H311.54M311.80,68.73H317.9M311.80,68.98H317.9M311.80,68.73V68.98M310.25,68.86H311.80M310.25,68.28V68.86M308.22,68.57H310.25M311.70,69.28H317.9M312.00,69.67H317.9M312.00,70.02H317.9M312.00,69.67V70.02M311.70,69.84H312.00M311.70,69.28V69.84M309.46,69.56H311.70M312.19,70.24H317.9M312.19,70.46H317.9M312.19,70.24V70.46M311.89,70.35H312.19M311.89,70.77H317.9M311.89,70.35V70.77M309.46,70.56H311.89M309.46,69.56V70.56M308.22,70.06H309.46M308.22,68.57V70.06M307.07,69.31H308.22M312.11,71.07H317.9M312.41,71.31H317.9M312.41,71.57H317.9M312.41,71.31V71.57M312.11,71.44H312.41M312.11,71.07V71.44M309.61,71.26H312.11M311.14,71.93H317.9M311.44,72.32H317.9M311.91,72.64H317.9M311.91,72.88H317.9M311.91,72.64V72.88M311.44,72.76H311.91M311.44,72.32V72.76M311.14,72.54H311.44M311.14,71.93V72.54M309.61,72.23H311.14M309.61,71.26V72.23M307.07,71.75H309.61M307.07,69.31V71.75M306.34,70.53H307.07M312.43,73.06H317.9M312.43,73.29H317.9M312.43,73.06V73.29M312.13,73.17H312.43M312.13,73.58H317.9M312.13,73.17V73.58M310.55,73.38H312.13M311.01,73.86H317.9M311.78,74.13H317.9M311.78,74.41H317.9M311.78,74.13V74.41M311.01,74.27H311.78M311.01,73.86V74.27M310.55,74.06H311.01M310.55,73.38V74.06M309.75,73.72H310.55M311.26,74.73H317.9M311.26,75.02H317.9M311.26,74.73V75.02M310.35,74.88H311.26M311.82,75.27H317.9M312.12,75.50H317.9M312.12,75.72H317.9M312.12,75.50V75.72M311.82,75.61H312.12M311.82,75.27V75.61M310.35,75.44H311.82M310.35,74.88V75.44M310.05,75.16H310.35M311.03,76.02H317.9M311.03,76.31H317.9M311.03,76.02V76.31M310.05,76.17H311.03M310.05,75.16V76.17M309.75,75.66H310.05M309.75,73.72V75.66M308.27,74.69H309.75M310.66,76.52H317.9M312.55,76.78H317.9M312.55,77.05H317.9M312.55,76.78V77.05M310.66,76.91H312.55M310.66,76.52V76.91M309.64,76.72H310.66M310.75,77.35H317.9M311.46,77.73H317.9M311.46,78.05H317.9M311.46,77.73V78.05M310.75,77.89H311.46M310.75,77.35V77.89M309.64,77.62H310.75M309.64,76.72V77.62M308.27,77.17H309.64M308.27,74.69V77.17M306.34,75.93H308.27M306.34,70.53V75.93M306.04,73.23H306.34M311.20,78.33H317.9M311.20,78.59H317.9M311.20,78.33V78.59M309.90,78.46H311.20M311.52,78.80H317.9M311.52,79.12H317.9M311.52,78.80V79.12M309.90,78.96H311.52M309.90,78.46V78.96M309.60,78.71H309.90M311.45,79.48H317.9M311.75,79.76H317.9M311.75,79.99H317.9M311.75,79.76V79.99M311.45,79.88H311.75M311.45,79.48V79.88M309.90,79.68H311.45M311.68,80.31H317.9M311.68,80.71H317.9M311.68,80.31V80.71M309.90,80.51H311.68M309.90,79.68V80.51M309.60,80.09H309.90M309.60,78.71V80.09M307.60,79.40H309.60M312.93,81.03H317.9M312.93,81.25H317.9M312.93,81.03V81.25M311.01,81.14H312.93M311.01,81.49H317.9M311.01,81.14V81.49M310.07,81.32H311.01M311.69,81.76H317.9M311.69,82.09H317.9M311.69,81.76V82.09M311.39,81.92H311.69M311.39,82.45H317.9M311.39,81.92V82.45M310.07,82.18H311.39M310.07,81.32V82.18M309.64,81.75H310.07M311.21,82.71H317.9M311.21,82.97H317.9M311.21,82.71V82.97M310.81,82.84H311.21M311.97,83.23H317.9M311.97,83.45H317.9M311.97,83.23V83.45M311.11,83.34H311.97M311.76,83.63H317.9M311.76,83.85H317.9M311.76,83.63V83.85M311.11,83.74H311.76M311.11,83.34V83.74M310.81,83.54H311.11M310.81,82.84V83.54M309.64,83.19H310.81M309.64,81.75V83.19M307.60,82.47H309.64M307.60,79.40V82.47M306.04,80.94H307.60M306.04,73.23V80.94M300.40,77.08H306.04M311.39,84.16H317.9M311.39,84.45H317.9M311.39,84.16V84.45M310.51,84.30H311.39M312.28,84.73H317.9M312.58,85.02H317.9M312.58,85.24H317.9M312.58,85.02V85.24M312.28,85.13H312.58M312.28,84.73V85.13M310.51,84.93H312.28M310.51,84.30V84.93M309.58,84.61H310.51M312.48,85.51H317.9M312.48,85.83H317.9M312.48,85.51V85.83M309.88,85.67H312.48M311.87,86.11H317.9M311.87,86.42H317.9M311.87,86.11V86.42M309.88,86.26H311.87M309.88,85.67V86.26M309.58,85.97H309.88M309.58,84.61V85.97M307.13,85.29H309.58M311.27,86.66H317.9M311.27,86.94H317.9M311.27,86.66V86.94M310.80,86.80H311.27M311.95,87.32H317.9M311.95,87.66H317.9M311.95,87.32V87.66M310.80,87.49H311.95M310.80,86.80V87.49M309.82,87.15H310.80M312.45,87.97H317.9M312.45,88.28H317.9M312.45,87.97V88.28M309.82,88.13H312.45M309.82,87.15V88.13M307.98,87.64H309.82M312.19,88.47H317.9M312.19,88.69H317.9M312.19,88.47V88.69M311.89,88.58H312.19M311.89,88.96H317.9M311.89,88.58V88.96M309.79,88.77H311.89M311.38,89.30H317.9M311.38,89.70H317.9M311.38,89.30V89.70M309.79,89.50H311.38M309.79,88.77V89.50M307.98,89.14H309.79M307.98,87.64V89.14M307.13,88.39H307.98M307.13,85.29V88.39M304.26,86.84H307.13M312.18,90.08H317.9M312.18,90.38H317.9M312.18,90.08V90.38M309.60,90.23H312.18M312.63,90.64H317.9M312.63,90.85H317.9M312.63,90.64V90.85M312.33,90.75H312.63M312.33,91.06H317.9M312.33,90.75V91.06M309.92,90.91H312.33M311.55,91.30H317.9M311.55,91.57H317.9M311.55,91.30V91.57M309.92,91.44H311.55M309.92,90.91V91.44M309.60,91.17H309.92M309.60,90.23V91.17M309.30,90.70H309.60M311.87,91.83H317.9M311.87,92.05H317.9M311.87,91.83V92.05M311.42,91.94H311.87M311.42,92.29H317.9M311.42,91.94V92.29M309.60,92.12H311.42M312.20,92.57H317.9M312.20,92.91H317.9M312.20,92.57V92.91M311.33,92.74H312.20M311.33,93.23H317.9M311.33,92.74V93.23M309.60,92.98H311.33M309.60,92.12V92.98M309.30,92.55H309.60M309.30,90.70V92.55M306.48,91.63H309.30M312.56,93.51H317.9M312.56,93.78H317.9M312.56,93.51V93.78M309.69,93.65H312.56M311.53,94.11H317.9M312.13,94.38H317.9M312.13,94.61H317.9M312.13,94.38V94.61M311.83,94.49H312.13M311.83,94.92H317.9M311.83,94.49V94.92M311.53,94.70H311.83M311.53,94.11V94.70M309.69,94.41H311.53M309.69,93.65V94.41M308.03,94.03H309.69M310.97,95.21H317.9M310.97,95.52H317.9M310.97,95.21V95.52M310.33,95.37H310.97M312.44,95.87H317.9M312.44,96.19H317.9M312.44,95.87V96.19M310.33,96.03H312.44M310.33,95.37V96.03M308.97,95.70H310.33M311.62,96.49H317.9M311.62,96.80H317.9M311.62,96.49V96.80M311.05,96.64H311.62M311.05,97.09H317.9M311.05,96.64V97.09M310.72,96.87H311.05M311.83,97.44H317.9M311.83,97.82H317.9M311.83,97.44V97.82M310.72,97.63H311.83M310.72,96.87V97.63M308.97,97.25H310.72M308.97,95.70V97.25M308.03,96.47H308.97M308.03,94.03V96.47M306.48,95.25H308.03M306.48,91.63V95.25M304.26,93.44H306.48M304.26,86.84V93.44M298.60,90.14H304.26M311.43,98.11H317.9M311.43,98.39H317.9M311.43,98.11V98.39M311.03,98.25H311.43M311.33,98.77H317.9M311.33,99.12H317.9M311.33,98.77V99.12M311.03,98.94H311.33M311.03,98.25V98.94M308.30,98.60H311.03M311.97,99.36H317.9M311.97,99.60H317.9M311.97,99.36V99.60M311.26,99.48H311.97M312.50,99.87H317.9M312.50,100.08H317.9M312.50,99.87V100.08M311.56,99.97H312.50M312.93,100.29H317.9M312.93,100.50H317.9M312.93,100.29V100.50M311.56,100.40H312.93M311.56,99.97V100.40M311.26,100.18H311.56M311.26,99.48V100.18M310.27,99.83H311.26M311.77,100.78H317.9M312.07,101.14H317.9M312.07,101.46H317.9M312.07,101.14V101.46M311.77,101.30H312.07M311.77,100.78V101.30M310.27,101.04H311.77M310.27,99.83V101.04M308.30,100.44H310.27M308.30,98.60V100.44M307.90,99.52H308.30M311.58,101.69H317.9M311.58,101.92H317.9M311.58,101.69V101.92M310.38,101.80H311.58M310.38,102.25H317.9M310.38,101.80V102.25M309.88,102.03H310.38M312.00,102.58H317.9M312.00,102.93H317.9M312.00,102.58V102.93M310.18,102.76H312.00M310.95,103.32H317.9M312.22,103.60H317.9M312.22,103.84H317.9M312.22,103.60V103.84M310.95,103.72H312.22M310.95,103.32V103.72M310.18,103.52H310.95M310.18,102.76V103.52M309.88,103.14H310.18M309.88,102.03V103.14M307.90,102.58H309.88M307.90,99.52V102.58M302.00,101.05H307.90M311.90,104.14H317.9M312.25,104.37H317.9M312.25,104.67H317.9M312.25,104.37V104.67M311.90,104.52H312.25M311.90,104.14V104.52M309.15,104.33H311.90M311.56,104.96H317.9M311.56,105.21H317.9M311.56,104.96V105.21M310.11,105.08H311.56M311.99,105.56H317.9M311.99,105.83H317.9M311.99,105.56V105.83M310.11,105.70H311.99M310.11,105.08V105.70M309.15,105.39H310.11M309.15,104.33V105.39M308.09,104.86H309.15M311.36,106.05H317.9M312.49,106.29H317.9M312.49,106.55H317.9M312.49,106.29V106.55M311.36,106.42H312.49M311.36,106.05V106.42M309.67,106.24H311.36M311.34,106.93H317.9M311.64,107.22H317.9M311.64,107.47H317.9M311.64,107.22V107.47M311.34,107.34H311.64M311.34,106.93V107.34M309.67,107.13H311.34M309.67,106.24V107.13M308.09,106.69H309.67M308.09,104.86V106.69M305.70,105.77H308.09M312.20,107.77H317.9M312.20,108.07H317.9M312.20,107.77V108.07M310.96,107.92H312.20M312.37,108.42H317.9M312.37,108.70H317.9M312.37,108.42V108.70M312.07,108.56H312.37M312.07,108.93H317.9M312.07,108.56V108.93M310.96,108.74H312.07M310.96,107.92V108.74M309.03,108.33H310.96M312.47,109.20H317.9M312.47,109.43H317.9M312.47,109.20V109.43M312.00,109.31H312.47M312.00,109.70H317.9M312.00,109.31V109.70M310.69,109.51H312.00M310.69,110.06H317.9M310.69,109.51V110.06M309.33,109.78H310.69M310.70,110.42H317.9M312.33,110.67H317.9M312.33,110.95H317.9M312.33,110.67V110.95M310.70,110.81H312.33M310.70,110.42V110.81M309.33,110.61H310.70M309.33,109.78V110.61M309.03,110.20H309.33M309.03,108.33V110.20M305.70,109.27H309.03M305.70,105.77V109.27M303.91,107.52H305.70M311.42,111.31H317.9M311.77,111.60H317.9M311.77,111.82H317.9M311.77,111.60V111.82M311.42,111.71H311.77M311.42,111.31V111.71M310.10,111.51H311.42M311.50,112.12H317.9M312.10,112.43H317.9M312.10,112.65H317.9M312.10,112.43V112.65M311.80,112.54H312.10M311.80,112.86H317.9M311.80,112.54V112.86M311.50,112.70H311.80M311.50,112.12V112.70M310.10,112.41H311.50M310.10,111.51V112.41M309.27,111.96H310.10M310.41,113.09H317.9M312.56,113.38H317.9M312.56,113.67H317.9M312.56,113.38V113.67M310.41,113.53H312.56M310.41,113.09V113.53M309.27,113.31H310.41M309.27,111.96V113.31M307.36,112.63H309.27M312.62,113.87H317.9M312.62,114.12H317.9M312.62,113.87V114.12M310.60,113.99H312.62M310.93,114.46H317.9M310.93,114.79H317.9M310.93,114.46V114.79M310.60,114.63H310.93M310.60,113.99V114.63M309.84,114.31H310.60M311.26,115.04H317.9M311.26,115.30H317.9M311.26,115.04V115.30M309.84,115.17H311.26M309.84,114.31V115.17M307.72,114.74H309.84M310.87,115.66H317.9M311.78,116.03H317.9M312.53,116.28H317.9M312.53,116.49H317.9M312.53,116.28V116.49M311.78,116.38H312.53M311.78,116.03V116.38M310.87,116.21H311.78M310.87,115.66V116.21M309.00,115.93H310.87M312.83,116.73H317.9M312.83,116.94H317.9M312.83,116.73V116.94M311.38,116.83H312.83M311.38,117.28H317.9M311.38,116.83V117.28M310.64,117.06H311.38M312.24,117.60H317.9M312.24,117.82H317.9M312.24,117.60V117.82M311.94,117.71H312.24M311.94,118.13H317.9M311.94,117.71V118.13M310.64,117.92H311.94M310.64,117.06V117.92M310.27,117.49H310.64M310.74,118.48H317.9M312.86,118.75H317.9M312.86,118.98H317.9M312.86,118.75V118.98M310.74,118.87H312.86M310.74,118.48V118.87M310.27,118.67H310.74M310.27,117.49V118.67M309.00,118.08H310.27M309.00,115.93V118.08M307.72,117.01H309.00M307.72,114.74V117.01M307.36,115.87H307.72M307.36,112.63V115.87M303.91,114.25H307.36M303.91,107.52V114.25M302.70,110.89H303.91M312.81,119.19H317.9M312.81,119.40H317.9M312.81,119.19V119.40M310.12,119.30H312.81M312.29,119.73H317.9M312.29,120.07H317.9M312.29,119.73V120.07M310.12,119.90H312.29M310.12,119.30V119.90M309.77,119.60H310.12M312.59,120.29H317.9M312.59,120.54H317.9M312.59,120.29V120.54M310.07,120.41H312.59M311.99,120.83H317.9M312.29,121.06H317.9M312.29,121.29H317.9M312.29,121.06V121.29M311.99,121.18H312.29M311.99,120.83V121.18M310.07,121.00H311.99M310.07,120.41V121.00M309.77,120.71H310.07M309.77,119.60V120.71M307.84,120.15H309.77M311.17,121.59H317.9M311.47,121.90H317.9M312.41,122.14H317.9M312.41,122.40H317.9M312.41,122.14V122.40M311.47,122.27H312.41M311.47,121.90V122.27M311.17,122.08H311.47M311.17,121.59V122.08M307.84,121.84H311.17M307.84,120.15V121.84M307.43,120.99H307.84M311.15,122.76H317.9M311.46,123.11H317.9M311.46,123.39H317.9M311.46,123.11V123.39M311.15,123.25H311.46M311.15,122.76V123.25M309.18,123.01H311.15M311.96,123.69H317.9M311.96,123.97H317.9M311.96,123.69V123.97M310.34,123.83H311.96M311.78,124.24H317.9M311.78,124.49H317.9M311.78,124.24V124.49M310.34,124.37H311.78M310.34,123.83V124.37M309.48,124.10H310.34M312.45,124.72H317.9M312.45,124.96H317.9M312.45,124.72V124.96M310.85,124.84H312.45M310.85,125.22H317.9M310.85,124.84V125.22M309.48,125.03H310.85M309.48,124.10V125.03M309.18,124.56H309.48M309.18,123.01V124.56M307.43,123.78H309.18M307.43,120.99V123.78M305.60,122.39H307.43M311.88,125.60H317.9M311.88,125.96H317.9M311.88,125.60V125.96M310.61,125.78H311.88M310.96,126.32H317.9M312.92,126.59H317.9M312.92,126.81H317.9M312.92,126.59V126.81M311.26,126.70H312.92M311.26,127.16H317.9M311.26,126.70V127.16M310.96,126.93H311.26M310.96,126.32V126.93M310.61,126.63H310.96M310.61,125.78V126.63M307.67,126.20H310.61M312.32,127.46H317.9M312.32,127.67H317.9M312.32,127.46V127.67M310.55,127.57H312.32M311.89,127.90H317.9M312.19,128.14H317.9M312.19,128.37H317.9M312.19,128.14V128.37M311.89,128.26H312.19M311.89,127.90V128.26M310.55,128.08H311.89M310.55,127.57V128.08M309.59,127.82H310.55M311.60,128.55H317.9M311.60,128.80H317.9M311.60,128.55V128.80M309.59,128.67H311.60M309.59,127.82V128.67M309.29,128.25H309.59M311.05,129.15H317.9M311.05,129.53H317.9M311.05,129.15V129.53M309.59,129.34H311.05M312.02,129.89H317.9M312.32,130.17H317.9M312.32,130.39H317.9M312.32,130.17V130.39M312.02,130.28H312.32M312.02,129.89V130.28M309.89,130.09H312.02M312.15,130.63H317.9M312.15,130.87H317.9M312.15,130.63V130.87M309.89,130.75H312.15M309.89,130.09V130.75M309.59,130.42H309.89M309.59,129.34V130.42M309.29,129.88H309.59M309.29,128.25V129.88M307.67,129.06H309.29M307.67,126.20V129.06M305.60,127.63H307.67M305.60,122.39V127.63M302.70,125.01H305.60M302.70,110.89V125.01M302.40,117.95H302.70M311.73,131.13H317.9M312.57,131.35H317.9M312.57,131.56H317.9M312.57,131.35V131.56M311.73,131.45H312.57M311.73,131.13V131.45M310.97,131.29H311.73M310.97,131.88H317.9M310.97,131.29V131.88M310.67,131.59H310.97M310.97,132.27H317.9M311.54,132.58H317.9M311.54,132.84H317.9M311.54,132.58V132.84M310.97,132.71H311.54M310.97,132.27V132.71M310.67,132.49H310.97M310.67,131.59V132.49M309.94,132.04H310.67M311.40,133.18H317.9M311.70,133.52H317.9M311.70,133.79H317.9M311.70,133.52V133.79M311.40,133.66H311.70M311.40,133.18V133.66M309.94,133.42H311.40M309.94,132.04V133.42M306.18,132.73H309.94M311.08,134.05H317.9M311.08,134.37H317.9M311.08,134.05V134.37M310.04,134.21H311.08M312.84,134.66H317.9M312.84,134.87H317.9M312.84,134.66V134.87M311.59,134.76H312.84M311.89,135.10H317.9M312.19,135.33H317.9M312.19,135.56H317.9M312.19,135.33V135.56M311.89,135.45H312.19M311.89,135.10V135.45M311.59,135.27H311.89M311.59,134.76V135.27M310.04,135.02H311.59M310.04,134.21V135.02M307.65,134.61H310.04M311.97,135.78H317.9M311.97,136.08H317.9M311.97,135.78V136.08M310.77,135.93H311.97M310.77,136.47H317.9M310.77,135.93V136.47M309.81,136.20H310.77M311.92,136.79H317.9M311.92,137.06H317.9M311.92,136.79V137.06M309.81,136.92H311.92M309.81,136.20V136.92M307.65,136.56H309.81M307.65,134.61V136.56M306.18,135.59H307.65M306.18,132.73V135.59M304.19,134.16H306.18M312.32,137.33H317.9M312.32,137.55H317.9M312.32,137.33V137.55M311.42,137.44H312.32M311.42,137.78H317.9M311.42,137.44V137.78M310.36,137.61H311.42M311.38,138.12H317.9M311.38,138.43H317.9M311.38,138.12V138.43M310.66,138.27H311.38M310.66,138.71H317.9M310.66,138.27V138.71M310.36,138.49H310.66M310.36,137.61V138.49M307.94,138.05H310.36M312.04,138.97H317.9M312.87,139.17H317.9M312.87,139.38H317.9M312.87,139.17V139.38M312.04,139.28H312.87M312.04,138.97V139.28M310.17,139.12H312.04M311.59,139.68H317.9M311.59,139.99H317.9M311.59,139.68V139.99M310.17,139.84H311.59M310.17,139.12V139.84M309.62,139.48H310.17M311.46,140.20H317.9M311.46,140.43H317.9M311.46,140.20V140.43M310.39,140.32H311.46M311.34,140.67H317.9M311.34,140.98H317.9M311.34,140.67V140.98M310.39,140.82H311.34M310.39,140.32V140.82M309.62,140.57H310.39M309.62,139.48V140.57M308.24,140.03H309.62M311.62,141.35H317.9M311.62,141.62H317.9M311.62,141.35V141.62M310.46,141.49H311.62M310.46,141.85H317.9M310.46,141.49V141.85M309.75,141.67H310.46M311.31,142.16H317.9M311.31,142.47H317.9M311.31,142.16V142.47M309.75,142.31H311.31M309.75,141.67V142.31M308.24,141.99H309.75M308.24,140.03V141.99M307.94,141.01H308.24M307.94,138.05V141.01M306.62,139.53H307.94M311.77,142.71H317.9M312.27,142.90H317.9M312.27,143.13H317.9M312.27,142.90V143.13M311.77,143.02H312.27M311.77,142.71V143.02M309.48,142.86H311.77M311.43,143.49H317.9M311.43,143.80H317.9M311.43,143.49V143.80M309.48,143.64H311.43M309.48,142.86V143.64M308.17,143.25H309.48M311.01,144.09H317.9M311.31,144.47H317.9M311.31,144.82H317.9M311.31,144.47V144.82M311.01,144.64H311.31M311.01,144.09V144.64M308.69,144.37H311.01M310.71,145.19H317.9M311.39,145.49H317.9M311.39,145.74H317.9M311.39,145.49V145.74M310.71,145.62H311.39M310.71,145.19V145.62M308.69,145.41H310.71M308.69,144.37V145.41M308.17,144.89H308.69M308.17,143.25V144.89M307.87,144.07H308.17M312.10,145.99H317.9M312.10,146.22H317.9M312.10,145.99V146.22M311.80,146.11H312.10M311.80,146.56H317.9M311.80,146.11V146.56M310.20,146.33H311.80M312.85,146.87H317.9M312.85,147.09H317.9M312.85,146.87V147.09M310.20,146.98H312.85M310.20,146.33V146.98M309.10,146.66H310.20M311.93,147.35H317.9M311.93,147.63H317.9M311.93,147.35V147.63M310.09,147.49H311.93M310.92,147.91H317.9M310.92,148.24H317.9M310.92,147.91V148.24M310.09,148.08H310.92M310.09,147.49V148.08M309.40,147.78H310.09M311.99,148.61H317.9M311.99,148.94H317.9M311.99,148.61V148.94M309.40,148.78H311.99M309.40,147.78V148.78M309.10,148.28H309.40M309.10,146.66V148.28M307.87,147.47H309.10M307.87,144.07V147.47M306.62,145.77H307.87M306.62,139.53V145.77M304.19,142.65H306.62M304.19,134.16V142.65M303.50,138.40H304.19M312.34,149.20H317.9M312.34,149.49H317.9M312.34,149.20V149.49M310.70,149.35H312.34M311.89,149.81H317.9M311.89,150.05H317.9M311.89,149.81V150.05M310.70,149.93H311.89M310.70,149.35V149.93M309.87,149.64H310.70M311.79,150.36H317.9M311.79,150.66H317.9M311.79,150.36V150.66M311.49,150.51H311.79M312.05,150.94H317.9M312.05,151.24H317.9M312.05,150.94V151.24M311.49,151.09H312.05M311.49,150.51V151.09M310.17,150.80H311.49M312.32,151.51H317.9M312.32,151.79H317.9M312.32,151.51V151.79M311.00,151.65H312.32M311.00,152.04H317.9M311.00,151.65V152.04M310.17,151.84H311.00M310.17,150.80V151.84M309.87,151.32H310.17M309.87,149.64V151.32M304.98,150.48H309.87M311.67,152.33H317.9M312.27,152.67H317.9M312.27,152.98H317.9M312.27,152.67V152.98M311.67,152.82H312.27M311.67,152.33V152.82M310.08,152.58H311.67M311.54,153.30H317.9M311.54,153.59H317.9M311.54,153.30V153.59M311.24,153.45H311.54M311.24,153.89H317.9M311.24,153.45V153.89M310.94,153.67H311.24M312.03,154.22H317.9M312.03,154.43H317.9M312.03,154.22V154.43M311.24,154.32H312.03M311.24,154.59H317.9M311.24,154.32V154.59M310.94,154.46H311.24M310.94,153.67V154.46M310.08,154.06H310.94M310.08,152.58V154.06M306.57,153.32H310.08M311.94,154.86H317.9M312.24,155.17H317.9M312.24,155.44H317.9M312.24,155.17V155.44M311.94,155.30H312.24M311.94,154.86V155.30M310.01,155.08H311.94M312.01,155.69H317.9M312.01,155.93H317.9M312.01,155.69V155.93M311.68,155.81H312.01M312.50,156.21H317.9M312.50,156.48H317.9M312.50,156.21V156.48M311.68,156.35H312.50M311.68,155.81V156.35M310.31,156.08H311.68M311.75,156.81H317.9M311.75,157.16H317.9M311.75,156.81V157.16M310.31,156.98H311.75M310.31,156.08V156.98M310.01,156.53H310.31M310.01,155.08V156.53M306.57,155.81H310.01M306.57,153.32V155.81M304.98,154.56H306.57M304.98,150.48V154.56M303.50,152.52H304.98M303.50,138.40V152.52M302.70,145.46H303.50M311.83,157.44H317.9M311.83,157.73H317.9M311.83,157.44V157.73M310.40,157.58H311.83M311.66,158.04H317.9M312.21,158.32H317.9M312.21,158.53H317.9M312.21,158.32V158.53M311.66,158.43H312.21M311.66,158.04V158.43M310.70,158.23H311.66M310.70,158.81H317.9M310.70,158.23V158.81M310.40,158.52H310.70M310.40,157.58V158.52M308.20,158.05H310.40M312.04,159.13H317.9M312.04,159.44H317.9M312.04,159.13V159.44M310.06,159.28H312.04M311.30,159.75H317.9M311.30,160.03H317.9M311.30,159.75V160.03M310.06,159.89H311.30M310.06,159.28V159.89M308.20,159.59H310.06M308.20,158.05V159.59M305.72,158.82H308.20M312.37,160.32H317.9M312.37,160.64H317.9M312.37,160.32V160.64M311.03,160.48H312.37M312.27,160.96H317.9M312.27,161.19H317.9M312.27,160.96V161.19M311.33,161.08H312.27M312.81,161.37H317.9M312.81,161.59H317.9M312.81,161.37V161.59M311.33,161.48H312.81M311.33,161.08V161.48M311.03,161.28H311.33M311.03,160.48V161.28M309.59,160.88H311.03M310.01,161.89H317.9M310.77,162.26H317.9M312.89,162.53H317.9M312.89,162.76H317.9M312.89,162.53V162.76M310.77,162.65H312.89M310.77,162.26V162.65M310.01,162.45H310.77M310.01,161.89V162.45M309.59,162.17H310.01M309.59,160.88V162.17M308.56,161.53H309.59M312.59,163.06H317.9M312.59,163.28H317.9M312.59,163.06V163.28M310.27,163.17H312.59M312.76,163.45H317.9M312.76,163.68H317.9M312.76,163.45V163.68M311.12,163.56H312.76M311.42,163.96H317.9M311.42,164.20H317.9M311.42,163.96V164.20M311.12,164.08H311.42M311.12,163.56V164.08M310.27,163.82H311.12M310.27,163.17V163.82M308.86,163.49H310.27M312.07,164.47H317.9M312.07,164.74H317.9M312.07,164.47V164.74M309.92,164.61H312.07M311.11,165.02H317.9M311.11,165.33H317.9M311.11,165.02V165.33M310.81,165.18H311.11M311.70,165.55H317.9M311.70,165.82H317.9M311.70,165.55V165.82M310.81,165.69H311.70M310.81,165.18V165.69M309.92,165.43H310.81M309.92,164.61V165.43M308.86,165.02H309.92M308.86,163.49V165.02M308.56,164.26H308.86M308.56,161.53V164.26M305.72,162.89H308.56M305.72,158.82V162.89M305.42,160.86H305.72M312.62,166.15H317.9M312.62,166.39H317.9M312.62,166.15V166.39M311.38,166.27H312.62M311.38,166.61H317.9M311.38,166.27V166.61M311.08,166.44H311.38M311.08,166.90H317.9M311.08,166.44V166.90M309.99,166.67H311.08M312.07,167.24H317.9M312.07,167.50H317.9M312.07,167.24V167.50M309.99,167.37H312.07M309.99,166.67V167.37M309.69,167.02H309.99M310.30,167.75H317.9M312.08,168.02H317.9M312.08,168.28H317.9M312.08,168.02V168.28M310.30,168.15H312.08M310.30,167.75V168.15M309.69,167.95H310.30M309.69,167.02V167.95M309.39,167.48H309.69M311.35,168.55H317.9M312.74,168.76H317.9M312.74,168.97H317.9M312.74,168.76V168.97M311.35,168.87H312.74M311.35,168.55V168.87M310.16,168.71H311.35M311.88,169.29H317.9M312.18,169.66H317.9M312.18,169.91H317.9M312.18,169.66V169.91M311.88,169.79H312.18M311.88,169.29V169.79M310.16,169.54H311.88M310.16,168.71V169.54M309.39,169.12H310.16M309.39,167.48V169.12M305.42,168.30H309.39M305.42,160.86V168.30M302.70,164.58H305.42M302.70,145.46V164.58M302.40,155.02H302.70M312.54,170.12H317.9M312.54,170.36H317.9M312.54,170.12V170.36M310.18,170.24H312.54M311.85,170.69H317.9M311.85,171.02H317.9M311.85,170.69V171.02M311.24,170.86H311.85M312.74,171.26H317.9M312.74,171.47H317.9M312.74,171.26V171.47M311.24,171.36H312.74M311.24,170.86V171.36M310.18,171.11H311.24M310.18,170.24V171.11M309.88,170.68H310.18M312.78,171.66H317.9M312.78,171.89H317.9M312.78,171.66V171.89M310.49,171.77H312.78M310.49,172.20H317.9M310.49,171.77V172.20M309.88,171.99H310.49M309.88,170.68V171.99M306.63,171.33H309.88M312.07,172.54H317.9M312.07,172.86H317.9M312.07,172.54V172.86M310.86,172.70H312.07M310.86,173.17H317.9M310.86,172.70V173.17M309.97,172.93H310.86M311.71,173.41H317.9M311.71,173.66H317.9M311.71,173.41V173.66M311.41,173.53H311.71M312.11,173.96H317.9M312.11,174.20H317.9M312.11,173.96V174.20M311.41,174.08H312.11M311.41,173.53V174.08M309.97,173.81H311.41M309.97,172.93V173.81M307.55,173.37H309.97M312.86,174.41H317.9M312.86,174.64H317.9M312.86,174.41V174.64M311.28,174.52H312.86M311.28,174.89H317.9M311.28,174.52V174.89M310.72,174.70H311.28M312.29,175.19H317.9M312.29,175.55H317.9M312.29,175.19V175.55M310.72,175.37H312.29M310.72,174.70V175.37M310.42,175.04H310.72M311.35,175.88H317.9M312.00,176.18H317.9M312.00,176.50H317.9M312.00,176.18V176.50M311.35,176.34H312.00M311.35,175.88V176.34M310.42,176.11H311.35M310.42,175.04V176.11M307.55,175.57H310.42M307.55,173.37V175.57M306.63,174.47H307.55M306.63,171.33V174.47M304.97,172.90H306.63M312.34,176.76H317.9M312.34,177.01H317.9M312.34,176.76V177.01M310.72,176.88H312.34M310.72,177.27H317.9M310.72,176.88V177.27M310.42,177.08H310.72M310.42,177.55H317.9M310.42,177.08V177.55M309.84,177.31H310.42M310.14,177.89H317.9M311.67,178.26H317.9M311.67,178.59H317.9M311.67,178.26V178.59M310.14,178.42H311.67M310.14,177.89V178.42M309.84,178.16H310.14M309.84,177.31V178.16M308.30,177.74H309.84M311.44,178.83H317.9M311.44,179.06H317.9M311.44,178.83V179.06M310.85,178.94H311.44M311.79,179.37H317.9M311.79,179.64H317.9M311.79,179.37V179.64M310.85,179.50H311.79M310.85,178.94V179.50M308.30,179.22H310.85M308.30,177.74V179.22M304.97,178.48H308.30M304.97,172.90V178.48M304.40,175.69H304.97M311.55,179.89H317.9M311.85,180.15H317.9M311.85,180.41H317.9M311.85,180.15V180.41M311.55,180.28H311.85M311.55,179.89V180.28M310.23,180.08H311.55M310.83,180.77H317.9M311.21,181.13H317.9M311.21,181.43H317.9M311.21,181.13V181.43M310.83,181.28H311.21M310.83,180.77V181.28M310.53,181.03H310.83M311.87,181.74H317.9M311.87,182.05H317.9M311.87,181.74V182.05M310.53,181.90H311.87M310.53,181.03V181.90M310.23,181.46H310.53M310.23,180.08V181.46M308.39,180.77H310.23M311.34,182.29H317.9M311.34,182.54H317.9M311.34,182.29V182.54M310.08,182.42H311.34M312.45,182.79H317.9M312.45,183.07H317.9M312.45,182.79V183.07M310.08,182.93H312.45M310.08,182.42V182.93M309.64,182.68H310.08M312.15,183.40H317.9M312.45,183.67H317.9M312.45,183.95H317.9M312.45,183.67V183.95M312.15,183.81H312.45M312.15,183.40V183.81M309.94,183.60H312.15M310.76,184.21H317.9M311.84,184.41H317.9M311.84,184.67H317.9M311.84,184.41V184.67M310.76,184.54H311.84M310.76,184.21V184.54M309.94,184.37H310.76M309.94,183.60V184.37M309.64,183.99H309.94M309.64,182.68V183.99M308.39,183.33H309.64M308.39,180.77V183.33M306.07,182.05H308.39M310.13,185.00H317.9M312.41,185.35H317.9M312.41,185.67H317.9M312.41,185.35V185.67M310.13,185.51H312.41M310.13,185.00V185.51M308.87,185.25H310.13M312.08,185.94H317.9M312.08,186.19H317.9M312.08,185.94V186.19M311.01,186.07H312.08M312.47,186.47H317.9M312.47,186.77H317.9M312.47,186.47V186.77M311.31,186.62H312.47M311.69,186.98H317.9M311.69,187.19H317.9M311.69,186.98V187.19M311.31,187.08H311.69M311.31,186.62V187.08M311.01,186.85H311.31M311.01,186.07V186.85M308.87,186.46H311.01M308.87,185.25V186.46M307.19,185.86H308.87M311.59,187.45H317.9M311.89,187.73H317.9M311.89,188.02H317.9M311.89,187.73V188.02M311.59,187.88H311.89M311.59,187.45V187.88M308.93,187.67H311.59M312.32,188.29H317.9M312.32,188.59H317.9M312.32,188.29V188.59M309.72,188.44H312.32M312.66,188.85H317.9M312.66,189.06H317.9M312.66,188.85V189.06M312.06,188.96H312.66M312.06,189.31H317.9M312.06,188.96V189.31M309.72,189.13H312.06M309.72,188.44V189.13M308.93,188.79H309.72M308.93,187.67V188.79M307.19,188.23H308.93M307.19,185.86V188.23M306.07,187.04H307.19M306.07,182.05V187.04M305.45,184.55H306.07M311.91,189.62H317.9M311.91,190.03H317.9M311.91,189.62V190.03M309.02,189.83H311.91M312.71,190.33H317.9M312.71,190.56H317.9M312.71,190.33V190.56M311.45,190.44H312.71M311.45,190.80H317.9M311.45,190.44V190.80M309.91,190.62H311.45M311.46,191.10H317.9M311.46,191.47H317.9M311.46,191.10V191.47M309.91,191.29H311.46M309.91,190.62V191.29M309.02,190.96H309.91M309.02,189.83V190.96M308.27,190.39H309.02M311.70,191.79H317.9M311.70,192.02H317.9M311.70,191.79V192.02M310.69,191.90H311.70M312.32,192.19H317.9M312.32,192.44H317.9M312.32,192.19V192.44M310.69,192.31H312.32M310.69,191.90V192.31M308.88,192.11H310.69M311.60,192.80H317.9M311.90,193.10H317.9M311.90,193.34H317.9M311.90,193.10V193.34M311.60,193.22H311.90M311.60,192.80V193.22M308.88,193.01H311.60M308.88,192.11V193.01M308.27,192.56H308.88M308.27,190.39V192.56M305.98,191.48H308.27M312.24,193.68H317.9M312.24,194.02H317.9M312.24,193.68V194.02M309.50,193.85H312.24M312.79,194.34H317.9M312.79,194.58H317.9M312.79,194.34V194.58M310.48,194.46H312.79M310.48,194.86H317.9M310.48,194.46V194.86M309.50,194.66H310.48M309.50,193.85V194.66M306.58,194.26H309.50M311.75,195.22H317.9M311.75,195.55H317.9M311.75,195.22V195.55M309.50,195.38H311.75M311.72,195.90H317.9M312.02,196.22H317.9M312.02,196.55H317.9M312.02,196.22V196.55M311.72,196.38H312.02M311.72,195.90V196.38M309.50,196.14H311.72M309.50,195.38V196.14M309.05,195.76H309.50M312.51,196.81H317.9M312.51,197.02H317.9M312.51,196.81V197.02M309.65,196.91H312.51M311.22,197.30H317.9M311.22,197.57H317.9M311.22,197.30V197.57M310.29,197.44H311.22M310.29,197.88H317.9M310.29,197.44V197.88M309.65,197.66H310.29M309.65,196.91V197.66M309.05,197.29H309.65M309.05,195.76V197.29M306.58,196.52H309.05M306.58,194.26V196.52M306.28,195.39H306.58M311.83,198.17H317.9M311.83,198.43H317.9M311.83,198.17V198.43M310.53,198.30H311.83M311.73,198.78H317.9M311.73,199.08H317.9M311.73,198.78V199.08M311.43,198.93H311.73M311.86,199.27H317.9M311.86,199.56H317.9M311.86,199.27V199.56M311.43,199.42H311.86M311.43,198.93V199.42M310.53,199.18H311.43M310.53,198.30V199.18M309.36,198.74H310.53M311.52,199.87H317.9M311.82,200.10H317.9M311.82,200.32H317.9M311.82,200.10V200.32M311.52,200.21H311.82M311.52,199.87V200.21M309.66,200.04H311.52M311.87,200.61H317.9M311.87,200.87H317.9M311.87,200.61V200.87M310.62,200.74H311.87M311.54,201.09H317.9M312.09,201.39H317.9M312.09,201.62H317.9M312.09,201.39V201.62M311.54,201.51H312.09M311.54,201.09V201.51M310.62,201.30H311.54M310.62,200.74V201.30M309.66,201.02H310.62M309.66,200.04V201.02M309.36,200.53H309.66M309.36,198.74V200.53M306.28,199.63H309.36M306.28,195.39V199.63M305.98,197.51H306.28M305.98,191.48V197.51M305.45,194.49H305.98M305.45,184.55V194.49M304.40,189.52H305.45M304.40,175.69V189.52M302.40,182.61H304.40M310.71,201.87H317.9M310.71,202.23H317.9M310.71,201.87V202.23M310.22,202.05H310.71M312.35,202.57H317.9M312.35,202.82H317.9M312.35,202.57V202.82M310.82,202.69H312.35M312.39,203.04H317.9M312.39,203.30H317.9M312.39,203.04V203.30M310.82,203.17H312.39M310.82,202.69V203.17M310.52,202.93H310.82M311.58,203.56H317.9M311.58,203.81H317.9M311.58,203.56V203.81M310.52,203.69H311.58M310.52,202.93V203.69M310.22,203.31H310.52M310.22,202.05V203.31M307.06,202.68H310.22M312.70,204.10H317.9M312.70,204.34H317.9M312.70,204.10V204.34M310.93,204.22H312.70M310.93,204.58H317.9M310.93,204.22V204.58M310.32,204.40H310.93M312.71,204.86H317.9M312.71,205.10H317.9M312.71,204.86V205.10M311.18,204.98H312.71M312.47,205.38H317.9M312.47,205.65H317.9M312.47,205.38V205.65M311.48,205.51H312.47M311.48,205.91H317.9M311.48,205.51V205.91M311.18,205.71H311.48M311.18,204.98V205.71M310.32,205.34H311.18M310.32,204.40V205.34M307.06,204.87H310.32M307.06,202.68V204.87M305.25,203.78H307.06M312.32,206.19H317.9M312.32,206.43H317.9M312.32,206.19V206.43M311.99,206.31H312.32M311.99,206.70H317.9M311.99,206.31V206.70M311.29,206.50H311.99M311.62,207.00H317.9M311.62,207.28H317.9M311.62,207.00V207.28M311.29,207.14H311.62M311.29,206.50V207.14M309.32,206.82H311.29M311.42,207.51H317.9M311.42,207.75H317.9M311.42,207.51V207.75M311.12,207.63H311.42M311.78,208.06H317.9M311.78,208.39H317.9M311.78,208.06V208.39M311.12,208.23H311.78M311.12,207.63V208.23M309.62,207.93H311.12M311.04,208.66H317.9M311.04,208.95H317.9M311.04,208.66V208.95M309.62,208.80H311.04M309.62,207.93V208.80M309.32,208.37H309.62M309.32,206.82V208.37M308.42,207.59H309.32M311.33,209.23H317.9M311.33,209.48H317.9M311.33,209.23V209.48M309.53,209.36H311.33M311.79,209.82H317.9M311.79,210.14H317.9M311.79,209.82V210.14M310.00,209.98H311.79M311.74,210.37H317.9M311.74,210.62H317.9M311.74,210.37V210.62M310.00,210.49H311.74M310.00,209.98V210.49M309.53,210.24H310.00M309.53,209.36V210.24M308.72,209.80H309.53M311.56,210.90H317.9M311.56,211.17H317.9M311.56,210.90V211.17M310.36,211.04H311.56M311.43,211.39H317.9M311.43,211.66H317.9M311.43,211.39V211.66M310.36,211.53H311.43M310.36,211.04V211.53M308.72,211.28H310.36M308.72,209.80V211.28M308.42,210.54H308.72M308.42,207.59V210.54M305.25,209.07H308.42M305.25,203.78V209.07M304.95,206.42H305.25M312.03,211.95H317.9M312.03,212.18H317.9M312.03,211.95V212.18M309.48,212.06H312.03M311.63,212.50H317.9M311.93,212.89H317.9M311.93,213.21H317.9M311.93,212.89V213.21M311.63,213.05H311.93M311.63,212.50V213.05M309.48,212.78H311.63M309.48,212.06V212.78M308.48,212.42H309.48M311.80,213.46H317.9M311.80,213.77H317.9M311.80,213.46V213.77M311.50,213.61H311.80M311.50,214.11H317.9M311.50,213.61V214.11M308.48,213.86H311.50M308.48,212.42V213.86M306.47,213.14H308.48M311.29,214.47H317.9M311.29,214.81H317.9M311.29,214.47V214.81M309.90,214.64H311.29M311.46,215.13H317.9M311.77,215.40H317.9M311.77,215.62H317.9M311.77,215.40V215.62M311.46,215.51H311.77M311.46,215.13V215.51M310.20,215.32H311.46M312.19,215.88H317.9M312.19,216.12H317.9M312.19,215.88V216.12M311.18,216.00H312.19M311.18,216.37H317.9M311.18,216.00V216.37M310.20,216.18H311.18M310.20,215.32V216.18M309.90,215.75H310.20M309.90,214.64V215.75M306.87,215.19H309.90M312.71,216.60H317.9M312.71,216.85H317.9M312.71,216.60V216.85M309.86,216.73H312.71M310.62,217.18H317.9M311.84,217.48H317.9M311.84,217.77H317.9M311.84,217.48V217.77M310.62,217.62H311.84M310.62,217.18V217.62M309.86,217.40H310.62M309.86,216.73V217.40M309.56,217.06H309.86M310.86,218.09H317.9M312.03,218.38H317.9M312.03,218.59H317.9M312.03,218.38V218.59M311.16,218.48H312.03M311.16,218.81H317.9M311.16,218.48V218.81M310.86,218.65H311.16M310.86,218.09V218.65M309.86,218.37H310.86M311.11,219.11H317.9M311.11,219.42H317.9M311.11,219.11V219.42M310.61,219.27H311.11M312.94,219.71H317.9M312.94,219.92H317.9M312.94,219.71V219.92M310.61,219.82H312.94M310.61,219.27V219.82M309.86,219.54H310.61M309.86,218.37V219.54M309.56,218.95H309.86M309.56,217.06V218.95M306.87,218.01H309.56M306.87,215.19V218.01M306.47,216.60H306.87M306.47,213.14V216.60M304.95,214.87H306.47M304.95,206.42V214.87M298.40,210.65H304.95" fill="none" stroke="#000" stroke-width="0.45"/>
<path d="M303.9,44V68.3" fill="none" stroke="#7a7a7a" stroke-width="0.6"/>
<path d="M300.4,52V84M293.3,68.3H300.4M293.3,68.3V84.2M290.3,84.2H293.3M290.3,84.2V104M290.3,104H302" fill="none" stroke="#7a7a7a" stroke-width="0.6"/>
<path d="M284.4,93H290.3M284.4,93V169.4H296.3M296.3,131.4V207.9H298.4M296.3,131.4H302.4M302.4,107V200" fill="none" stroke="#7a7a7a" stroke-width="0.6"/>
<path d="M298.4,201.7V220M298.4,201.7H303M298.4,220H303M288,93V96" fill="none" stroke="#7a7a7a" stroke-width="0.6"/>
<defs><linearGradient id="cb" x1="0" x2="1" y1="0" y2="0"><stop offset="0" stop-color="#2c1e80"/><stop offset="0.25" stop-color="#8a86c0"/><stop offset="0.5" stop-color="#f7f5f7"/><stop offset="0.75" stop-color="#e79a8c"/><stop offset="1" stop-color="#c8300f"/></linearGradient></defs>
<rect x="320" y="225.4" width="134" height="5.2" fill="url(#cb)" stroke="#444" stroke-width="0.5"/>
<text x="323.00" y="239.20" font-size="8.0" fill="#231f20" text-anchor="middle" textLength="6.50" lengthAdjust="spacingAndGlyphs" stroke="#231f20" stroke-width="0.1">-2</text>
<text x="385.70" y="239.20" font-size="8.0" fill="#231f20" text-anchor="middle" textLength="4.20" lengthAdjust="spacingAndGlyphs" stroke="#231f20" stroke-width="0.1">0</text>
<text x="451.50" y="239.20" font-size="8.0" fill="#231f20" text-anchor="middle" textLength="4.20" lengthAdjust="spacingAndGlyphs" stroke="#231f20" stroke-width="0.1">2</text>
<text x="339.80" y="252.50" font-size="9.0" fill="#231f20" text-anchor="start" textLength="94.70" lengthAdjust="spacingAndGlyphs" stroke="#231f20" stroke-width="0.1">RMA and z-transformed</text>
<text x="457.80" y="94.80" font-size="8.0" fill="#3b3a8e" text-anchor="start" textLength="49.40" lengthAdjust="spacingAndGlyphs" stroke="#3b3a8e" stroke-width="0.1">genes reduced</text>
<text x="457.80" y="104.60" font-size="8.0" fill="#3b3a8e" text-anchor="start" textLength="43.00" lengthAdjust="spacingAndGlyphs" stroke="#3b3a8e" stroke-width="0.1">by mt FOXO1</text>
<text x="457.80" y="209.80" font-size="8.0" fill="#c8203f" text-anchor="start" textLength="50.50" lengthAdjust="spacingAndGlyphs" stroke="#c8203f" stroke-width="0.1">genes elevated</text>
<text x="457.80" y="219.60" font-size="8.0" fill="#c8203f" text-anchor="start" textLength="43.00" lengthAdjust="spacingAndGlyphs" stroke="#c8203f" stroke-width="0.1">by mt FOXO1</text>
<text x="22.50" y="280.50" font-size="11.0" fill="#231f20" text-anchor="start" textLength="7.20" lengthAdjust="spacingAndGlyphs">C</text>
<defs><clipPath id="cc"><ellipse cx="0" cy="0" rx="14.3" ry="23.2" transform="translate(136.5,419.3) rotate(-8)"/></clipPath><clipPath id="mc"><ellipse cx="157.9" cy="396.3" rx="19.1" ry="19.9"/></clipPath></defs>
<ellipse cx="0" cy="0" rx="14.30" ry="23.20" transform="translate(136.50,419.30) rotate(-8)" fill="#f2cdcd" stroke="none" stroke-width="0.8"/>
<path d="M138,396 L150,400 L152,420 L147,444 L136,444 L138,425 L134,410 Z" fill="#c0d4f4" opacity="0.85" clip-path="url(#cc)"/>
<path d="M138.8,394.5 L153.6,388 L164.2,384.4 L172.4,386.2 L176,389.8 L172.4,400.4 L165.4,406.3 L157.1,411 L151.2,414.5 L144.1,412.2 L139.4,403.9 Z" fill="#b6cdf2" opacity="0.9" clip-path="url(#mc)"/>
<path d="M150,378 L162,377 L170,380 L164.2,384.4 L153.6,388 Z" fill="#d4e2f8" opacity="0.7" clip-path="url(#mc)"/>
<ellipse cx="0" cy="0" rx="9.60" ry="15.40" transform="translate(111.50,412.00) rotate(-8)" fill="#dcd2d2" stroke="none" stroke-width="0.8"/>
<ellipse cx="0" cy="0" rx="15.00" ry="13.50" transform="translate(89.00,393.00) rotate(0)" fill="#f2b4b4" stroke="none" stroke-width="0.8" opacity="0.55"/>
<path d="M147.5,417.7L183.9,349.0M155.4,391.1L192.7,331.5M153.6,382.0L183.9,349.0M156.4,387.5L183.9,349.0M133.4,417.7L183.9,349.0M132.8,403.2L177.0,345.0M148.7,426.6L190.8,347.0M138.1,437.8L181.6,334.6M156.6,397.5L177.0,345.0M155.4,391.1L190.8,347.0M156.4,387.5L192.4,340.0M161.5,392.4L192.7,331.5M138.1,437.8L192.7,331.5M153.6,390.1L192.4,340.0M166.2,400.0L185.0,326.5M143.6,396.3L175.0,333.0M136.9,428.3L183.9,349.0M136.9,408.3L173.0,339.7M167.4,406.1L185.0,326.5M151.2,413.2L173.0,339.7M156.4,387.5L183.9,349.0M153.1,400.6L192.4,340.0M156.6,397.5L192.4,340.0M162.5,381.0L183.9,349.0M149.2,387.2L192.7,331.5M153.6,382.0L175.0,333.0M136.9,408.3L192.7,331.5M169.5,388.2L181.6,334.6M148.7,426.6L192.4,340.0M167.4,406.1L173.0,339.7M164.2,384.2L190.8,347.0M155.4,413.0L192.4,340.0M174.3,390.1L184.2,341.2M155.4,391.1L183.9,349.0M164.2,384.2L183.9,349.0M138.1,437.8L184.2,341.2M152.2,398.0L185.0,326.5M135.0,426.0L183.9,349.0M143.6,396.3L192.7,331.5M155.6,399.0L184.2,341.2M155.4,391.1L183.9,349.0M174.3,390.1L175.0,333.0M156.6,397.5L181.6,334.6M161.5,392.4L183.9,349.0M135.0,426.0L173.0,339.7M92.2,387.7L136.9,408.3M93.0,399.0L118.0,405.9M93.0,399.0L129.3,411.8M100.9,392.6L110.4,421.3M87.6,388.2L130.0,438.5M66.7,393.1L132.8,403.2M89.0,396.1L128.5,427.5M70.8,408.8L130.0,438.5M91.4,412.6L133.4,417.7M84.0,388.0L111.0,405.9M84.9,402.6L105.3,418.3M84.0,388.0L127.5,431.5M77.1,406.6L107.4,405.3M95.7,394.2L111.6,400.0M84.9,394.7L141.8,399.7M81.1,395.8L137.5,401.6M89.0,396.1L126.9,400.0M87.6,388.2L132.2,414.2M84.9,402.6L115.1,398.3M84.0,388.0L129.8,421.8M82.2,399.4L139.9,434.6M84.9,402.6L136.9,428.3M66.7,393.1L116.3,411.5M84.0,388.0L147.5,417.7M95.7,394.2L124.5,426.5M66.7,393.1L127.5,431.5M74.6,398.0L146.0,410.0M91.4,412.6L146.5,403.8M74.6,398.0L103.3,411.2M91.4,412.6L111.0,405.9M97.3,404.8L111.6,400.0M92.2,387.7L115.1,405.6M92.2,408.8L141.8,399.7M84.9,394.7L128.5,427.5M91.4,405.2L113.3,414.8M77.1,406.6L141.0,428.0M89.0,396.1L128.5,427.5M84.9,394.7L146.5,403.8M89.0,396.1L111.6,400.0M95.7,394.2L126.9,400.0M130.0,438.5L146.8,358.2M132.8,403.2L146.8,358.2M125.1,416.9L142.0,355.7M147.5,417.7L146.8,358.2M148.7,426.6L146.8,358.2M132.2,432.5L146.8,358.2M132.8,403.2L142.0,355.7M132.8,403.2L146.8,358.2M136.9,428.3L146.8,358.2M144.2,431.9L146.8,358.2M123.4,361.7L127.5,431.5M123.4,361.7L124.5,426.5M120.1,366.6L141.8,399.7M120.1,366.6L115.1,405.6M124.9,368.4L125.0,381.3M117.7,362.5L147.7,399.2M123.4,361.7L115.1,405.6M123.4,361.7L146.5,403.8M120.1,366.6L107.4,405.3M120.1,366.6L111.6,400.0M124.9,368.4L146.5,403.8M117.7,362.5L125.0,381.3M120.1,366.6L124.5,426.5M123.4,361.7L128.5,427.5M123.4,361.7L119.6,382.8M120.1,366.6L137.5,401.6M123.4,361.7L147.7,399.2M124.9,368.4L111.0,405.9M123.4,361.7L136.9,408.3M117.7,362.5L122.1,379.2M123.4,361.7L124.5,426.5M123.4,361.7L111.0,405.9M120.1,366.6L136.9,408.3M117.7,362.5L136.9,408.3M120.1,366.6L147.7,399.2M123.4,361.7L130.0,438.5M120.1,366.6L146.0,410.0M120.1,366.6L128.5,427.5M120.1,366.6L146.5,403.8M124.9,368.4L115.1,405.6M125.0,381.3L95.7,394.2M118.2,379.9L95.7,394.2M122.1,379.2L124.8,436.0M118.2,379.9L84.9,402.6M125.0,381.3L135.0,426.0M118.2,379.9L96.2,398.5M119.6,382.8L91.4,412.6M119.6,382.8L146.0,410.0M118.2,379.9L77.8,381.0M118.2,379.9L147.7,399.2M118.2,379.9L136.9,408.3M122.1,379.2L82.2,399.4M118.2,379.9L132.8,403.2M125.0,381.3L141.0,428.0M138.1,412.4L189.5,435.9M144.2,431.9L166.5,427.2M157.1,407.1L171.8,420.3M146.5,403.8L189.5,435.9M130.0,438.5L171.8,420.3M164.0,404.4L178.9,418.9M147.5,417.7L184.8,418.9M136.9,428.3L189.5,435.9M145.0,438.0L171.8,420.3M148.7,426.6L166.5,427.2M129.8,421.8L178.9,418.9M152.2,398.0L178.9,418.9M138.1,412.4L166.5,427.2M132.2,432.5L184.8,418.9M126.9,400.0L173.0,433.9M167.4,406.1L180.9,438.6M124.8,436.0L171.8,420.3M132.2,432.5L166.5,427.2M132.2,432.5L180.9,438.6M146.5,403.8L189.5,435.9M128.5,427.5L129.8,449.5M145.0,438.0L133.0,453.3M126.9,400.0L129.8,449.5M125.1,416.9L129.8,449.5M133.4,417.7L129.8,449.5M136.9,408.3L145.7,456.4M137.5,401.6L135.1,449.5M141.8,399.7L142.9,461.3M147.7,399.2L133.0,453.3M138.1,412.4L133.0,453.3M136.9,408.3L133.0,453.3M127.5,431.5L138.7,457.0M144.2,431.9L133.0,453.3M136.9,428.3L149.9,448.0M147.5,417.7L138.7,457.0M133.4,417.7L142.1,450.7M126.9,400.0L138.7,457.0M129.3,411.8L136.2,446.5M92.2,387.7L120.1,354.8M93.0,399.0L118.2,379.9M84.3,411.3L124.9,368.4M77.8,381.0L119.6,382.8M84.9,402.6L120.1,354.8M93.0,399.0L125.0,381.3M86.5,406.6L120.1,366.6M76.2,402.0L124.9,368.4M97.3,404.8L120.1,354.8M81.1,395.8L117.7,362.5M193.5,381.5L153.6,382.0M193.5,381.5L143.4,415.7M186.5,376.2L135.0,426.0M186.5,376.2L136.9,428.3M190.8,367.7L156.4,387.5M195.0,374.6L146.5,403.8M190.8,367.7L164.0,404.4M190.8,367.7L151.2,393.4M107.4,405.3L116.1,466.4M116.3,411.5L116.1,466.4M110.4,421.3L88.6,444.4M114.3,423.0L116.1,466.4M115.1,398.3L108.7,463.4M111.0,405.9L88.6,444.4M124.9,368.4L135.1,449.5M117.7,362.5L135.0,426.0M117.7,362.5L133.4,422.4M124.9,368.4L116.3,411.5M117.7,362.5L117.5,418.9M117.7,362.5L129.8,449.5M117.7,362.5L133.4,422.4M124.9,368.4L132.2,432.5M120.1,366.6L135.0,426.0M120.1,366.6L133.0,453.3M117.7,362.5L135.0,426.0M123.4,361.7L108.7,463.4M117.7,362.5L128.5,427.5M117.7,362.5L128.5,427.5M120.1,366.6L135.0,426.0M123.4,361.7L133.0,453.3M123.4,361.7L116.3,411.5M123.4,361.7L127.5,431.5M124.9,368.4L117.5,414.8M120.1,366.6L126.1,422.4M124.9,368.4L110.4,421.3M124.9,368.4L133.0,453.3M124.9,368.4L130.0,438.5M123.4,361.7L124.5,426.5M123.4,361.7L124.5,426.5M124.9,368.4L116.1,466.4M124.9,368.4L116.1,466.4M123.4,361.7L108.7,463.4" stroke="#ec9e9e" stroke-width="0.45" fill="none" opacity="0.7"/>
<path d="M192.4,340.0L207.7,350.2M190.8,347.0L207.7,350.2M195.0,374.6L207.7,350.2M183.9,349.0L207.7,350.2M170.0,369.5L207.7,350.2M207.7,350.2L243.3,339.5M207.7,350.2L238.7,351.6M243.3,339.5L269.7,325.2" stroke="#e79c9c" stroke-width="0.6" fill="none" opacity="1"/>
<path d="M154.6,393.6L155.4,413.0M151.2,413.2L148.7,426.6M159.3,395.0L157.1,407.1M140.4,394.1L155.4,391.1M167.4,384.5L161.5,392.4M166.2,400.0L164.9,389.6M167.4,384.5L141.0,428.0M159.3,395.0L152.2,398.0M151.2,413.2L151.2,393.4M152.2,407.3L148.7,426.6M161.5,392.4L140.4,394.1M155.6,399.0L167.4,406.1M143.6,396.3L141.0,428.0M140.4,394.1L161.5,392.4M157.1,407.1L174.3,390.1M146.6,390.4L155.6,382.3M169.5,388.2L155.4,413.0M164.0,404.4L166.2,400.0M154.6,385.2L155.4,391.1M140.4,394.1L153.1,400.6M156.4,387.5L152.2,398.0M154.6,393.6L146.6,390.4M174.3,390.1L148.7,426.6M154.6,393.6L148.7,426.6M143.6,396.3L174.3,390.1M151.2,393.4L141.0,428.0M167.4,406.1L144.2,431.9M161.5,392.4L155.6,382.3M154.6,393.6L167.4,384.5M152.2,407.3L164.0,404.4M164.0,404.4L162.5,381.0M151.2,393.4L151.2,393.4M157.1,407.1L154.6,393.6M152.2,398.0L147.5,417.7M162.5,381.0L174.3,390.1M152.2,407.3L159.3,395.0M156.4,387.5L164.9,389.6M166.2,400.0L159.3,395.0M167.4,384.5L155.4,391.1M143.6,396.3L147.5,417.7M152.2,407.3L162.5,381.0M157.1,407.1L159.3,395.0M149.2,387.2L162.5,381.0M153.6,390.1L155.4,391.1M174.3,390.1L149.2,387.2M153.1,400.6L149.2,387.2M164.2,384.2L149.2,387.2M169.5,388.2L140.4,394.1M155.6,382.3L156.6,397.5M151.2,393.4L141.0,428.0M153.1,400.6L147.5,417.7M153.6,390.1L153.6,382.0M153.6,382.0L155.6,399.0M153.6,390.1L152.2,407.3M164.9,389.6L143.4,415.7M162.5,381.0L174.3,390.1M152.2,398.0L141.0,428.0M153.1,400.6L143.4,415.7M164.9,389.6L169.5,388.2M161.5,392.4L152.2,398.0M164.2,384.2L161.5,392.4M162.5,381.0L138.1,437.8M174.3,390.1L156.4,387.5M151.2,393.4L126.1,422.4M151.2,413.2L159.3,395.0M164.2,384.2L126.1,422.4M155.4,413.0L148.7,426.6M155.4,391.1L147.5,417.7M166.2,400.0L153.1,400.6M166.2,400.0L157.1,407.1M146.6,390.4L138.1,437.8M155.6,399.0L138.1,437.8M152.2,398.0L159.3,395.0M164.2,384.2L155.6,399.0M155.6,399.0L136.9,420.0M161.5,392.4L126.1,422.4M164.2,384.2L138.1,437.8M154.6,393.6L138.1,412.4M155.4,391.1L164.2,384.2M156.6,397.5L140.4,394.1M155.6,399.0L136.9,420.0M153.1,400.6L155.4,391.1M152.2,398.0L144.2,431.9M153.1,400.6L139.9,434.6M167.4,384.5L155.4,391.1M155.4,391.1L144.2,431.9M151.2,393.4L156.4,387.5M164.2,384.2L133.4,422.4M167.4,384.5L155.6,399.0M152.2,398.0L144.2,431.9M143.6,396.3L167.4,406.1M161.5,392.4L143.6,396.3M152.2,398.0L155.4,391.1M151.2,393.4L155.4,413.0M146.6,390.4L155.4,391.1M156.6,397.5L167.4,384.5M164.2,384.2L155.4,391.1M166.2,400.0L133.4,422.4M161.5,392.4L136.9,420.0M153.1,400.6L164.0,404.4M155.4,391.1L154.6,385.2M169.5,388.2L161.5,392.4M164.9,389.6L164.2,384.2M152.2,407.3L169.5,388.2M155.6,382.3L155.4,413.0M159.3,395.0L161.5,392.4M156.4,387.5L148.7,426.6M166.2,400.0L138.1,412.4M155.4,391.1L155.6,399.0M155.4,413.0L164.0,404.4M151.2,393.4L129.8,421.8M164.0,404.4L167.4,384.5M155.4,391.1L143.4,415.7M152.2,407.3L156.4,387.5M167.4,384.5L161.5,392.4M140.4,394.1L154.6,385.2M155.6,399.0L156.4,387.5M140.4,394.1L156.4,387.5M149.2,387.2L148.7,426.6M154.6,385.2L136.9,420.0M133.4,422.4L152.2,398.0M136.9,408.3L143.4,415.7M129.8,421.8L129.8,421.8M132.2,432.5L157.1,407.1M129.3,411.8L126.1,422.4M132.2,414.2L136.9,428.3M126.1,422.4L139.9,434.6M126.9,400.0L153.1,400.6M133.4,422.4L143.6,396.3M138.1,412.4L155.4,413.0M139.9,434.6L144.2,431.9M138.1,437.8L167.4,406.1M136.9,428.3L144.2,431.9M147.5,417.7L164.0,404.4M126.9,400.0L129.8,421.8M138.1,437.8L126.9,400.0M126.1,406.3L136.9,420.0M141.0,428.0L126.1,422.4M136.9,428.3L166.2,400.0M132.2,414.2L129.8,421.8M136.9,428.3L133.4,422.4M132.8,403.2L152.2,407.3M138.1,437.8L153.1,400.6M126.1,406.3L139.9,434.6M147.5,417.7L143.4,415.7M136.9,408.3L166.2,400.0M137.5,401.6L126.1,406.3M126.9,400.0L140.4,394.1M144.2,431.9L136.9,420.0M136.9,428.3L136.9,408.3M141.0,428.0L151.2,413.2M126.9,400.0L147.5,417.7M138.1,412.4L147.5,417.7M126.1,422.4L125.1,416.9M137.5,401.6L137.5,401.6M148.7,426.6L129.3,411.8M138.1,412.4L133.4,422.4M137.5,401.6L129.8,421.8M133.4,422.4L136.9,420.0M141.0,428.0L138.1,437.8" stroke="#8fb6ee" stroke-width="0.5" fill="none" opacity="0.75"/>
<path d="M155.8,350.8L165.3,351.5M165.3,351.5L161.9,365.0M161.9,365.0L155.8,350.8M161.9,365.0L160.0,382.0M155.8,350.8L153.6,382.0M165.3,351.5L162.5,381.0M161.9,365.0L155.6,382.3" stroke="#7aa6ea" stroke-width="0.7" fill="none" opacity="0.9"/>
<path d="M66.7,393.1L84.9,394.7M98.4,383.9L77.1,406.6M104.9,385.8L74.6,398.0M84.9,402.6L91.4,412.6M86.5,381.0L91.4,405.2M77.1,391.8L89.0,396.1M86.5,381.0L94.6,382.3M77.8,381.0L100.9,392.6M80.5,388.6L103.0,399.0M94.6,382.3L87.6,388.2M95.7,394.2L74.6,398.0M84.9,402.6L70.8,408.8M96.2,398.5L97.3,404.8M90.0,375.5L86.5,406.6M77.1,406.6L91.4,412.6M96.2,398.5L103.0,399.0M92.2,387.7L89.0,396.1M84.0,388.0L70.8,408.8M66.7,393.1L70.8,408.8M92.2,387.7L100.9,392.6M85.7,397.4L91.4,405.2M77.1,406.6L86.5,406.6M84.0,388.0L82.2,399.4M84.0,388.0L103.0,399.0M98.4,383.9L97.3,404.8M92.2,387.7L86.5,406.6M84.0,388.0L84.9,402.6M90.0,375.5L66.7,393.1M77.1,391.8L96.2,398.5M100.9,392.6L93.0,399.0M94.6,382.3L91.4,405.2M84.0,388.0L81.1,395.8M84.9,394.7L82.2,399.4M96.2,398.5L86.5,406.6M81.1,395.8L74.6,398.0M90.0,375.5L84.9,402.6M90.0,375.5L92.2,387.7M87.6,388.2L92.2,387.7M100.9,392.6L84.3,411.3M97.3,404.8L86.5,406.6M77.8,381.0L84.9,402.6M74.0,394.2L84.9,402.6M85.7,397.4L70.8,408.8M83.2,379.6L94.6,382.3M89.0,396.1L82.2,399.4M81.1,395.8L103.0,399.0M94.6,382.3L93.0,399.0M104.9,385.8L84.0,388.0M87.6,388.2L70.8,408.8M66.7,393.1L77.1,406.6M91.4,405.2L84.3,411.3M77.8,381.0L80.5,388.6M89.0,396.1L100.9,392.6M74.0,394.2L77.1,406.6M104.9,385.8L84.9,402.6M84.0,388.0L74.6,398.0M81.1,395.8L70.8,408.8M76.2,402.0L70.8,408.8M82.2,399.4L92.2,408.8M87.6,388.2L93.0,399.0M86.5,381.0L104.9,385.8M91.4,405.2L91.4,412.6M93.0,399.0L91.4,405.2M85.7,397.4L96.2,398.5M80.5,388.6L74.0,394.2M90.0,375.5L81.1,395.8M93.0,399.0L91.4,412.6M77.8,381.0L89.0,396.1M104.9,385.8L87.6,388.2M91.4,405.2L92.2,408.8M81.1,395.8L100.9,392.6M93.0,399.0L76.2,402.0M104.9,385.8L95.7,394.2M94.6,382.3L104.9,385.8M85.7,397.4L92.2,408.8M97.3,404.8L91.4,412.6M83.2,379.6L87.6,388.2M74.0,394.2L76.2,402.0M80.5,388.6L89.0,396.1M84.0,372.8L77.8,381.0M83.2,379.6L96.2,398.5M80.5,388.6L84.3,411.3M74.6,398.0L91.4,412.6M86.5,381.0L77.1,391.8M94.6,382.3L82.2,399.4M74.0,394.2L86.5,406.6M90.0,375.5L97.3,404.8M85.7,397.4L84.9,402.6M103.0,399.0L76.2,402.0M84.0,372.8L104.9,385.8M84.9,394.7L76.2,402.0M83.2,379.6L86.5,406.6M82.2,399.4L103.0,399.0M74.6,398.0L103.0,399.0M86.5,381.0L97.3,404.8M104.9,385.8L97.3,404.8M87.6,388.2L76.2,402.0M74.0,394.2L89.0,396.1M98.4,383.9L81.1,395.8M94.6,382.3L80.5,388.6M93.0,399.0L96.2,398.5M77.1,391.8L74.6,398.0M74.0,394.2L77.1,391.8M87.6,388.2L91.4,405.2M86.5,381.0L85.7,397.4M103.0,399.0L92.2,408.8M82.2,399.4L76.2,402.0M74.0,394.2L97.3,404.8M100.9,392.6L96.2,398.5M86.5,381.0L84.0,388.0M92.2,387.7L70.8,408.8M89.0,396.1L70.8,408.8M103.0,399.0L77.1,406.6M86.5,406.6L92.2,408.8M80.5,388.6L95.7,394.2M84.0,388.0L96.2,398.5M86.5,381.0L100.9,392.6M81.1,395.8L76.2,402.0M84.0,372.8L89.0,396.1M82.2,399.4L96.2,398.5M85.7,397.4L103.0,399.0M80.5,388.6L96.2,398.5M90.0,375.5L89.0,396.1M84.0,388.0L89.0,396.1M80.5,388.6L87.6,388.2M74.0,394.2L70.8,408.8M74.6,398.0L84.3,411.3M87.6,388.2L92.2,408.8M90.0,375.5L82.2,399.4M86.5,381.0L76.2,402.0M74.6,398.0L84.9,402.6M93.0,399.0L97.3,404.8M77.8,381.0L91.4,412.6M66.7,393.1L77.1,391.8M85.7,397.4L97.3,404.8M77.8,381.0L85.7,397.4M104.9,385.8L84.9,394.7M95.7,394.2L82.2,399.4M74.0,394.2L74.6,398.0M86.5,381.0L84.9,402.6M96.2,398.5L92.2,408.8M84.9,394.7L86.5,406.6M85.7,397.4L93.0,399.0M77.1,391.8L77.1,406.6M77.1,391.8L70.8,408.8M84.0,388.0L97.3,404.8M90.0,375.5L91.4,412.6M93.0,399.0L84.9,402.6M84.0,372.8L92.2,408.8M84.0,388.0L87.6,388.2M84.0,372.8L77.1,406.6M89.0,396.1L76.2,402.0M92.2,387.7L81.1,395.8M77.8,381.0L81.1,395.8M74.0,394.2L92.2,408.8M86.5,406.6L70.8,408.8M87.6,388.2L85.7,397.4M82.2,399.4L85.7,397.4M66.7,393.1L93.0,399.0M98.4,383.9L80.5,388.6M104.9,385.8L100.9,392.6M98.4,383.9L86.5,406.6M89.0,396.1L74.6,398.0M94.6,382.3L100.9,392.6M77.8,381.0L77.1,391.8M80.5,388.6L77.1,406.6M84.0,388.0L100.9,392.6M86.5,381.0L98.4,383.9M77.8,381.0L98.4,383.9M104.9,385.8L89.0,396.1M90.0,375.5L70.8,408.8M80.5,388.6L84.0,388.0M83.2,379.6L95.7,394.2M80.5,388.6L70.8,408.8M74.0,394.2L84.3,411.3M84.9,394.7L96.2,398.5M84.0,372.8L84.9,402.6M86.5,381.0L92.2,387.7M74.6,398.0L91.4,405.2M94.6,382.3L84.9,394.7M84.0,372.8L100.9,392.6M90.0,375.5L74.0,394.2M77.8,381.0L84.0,388.0M100.9,392.6L70.8,408.8M86.5,381.0L70.8,408.8M83.2,379.6L84.3,411.3M87.6,388.2L74.6,398.0M84.0,388.0L84.3,411.3M83.2,379.6L92.2,408.8M80.5,388.6L84.9,402.6M81.1,395.8L92.2,408.8M83.2,379.6L91.4,412.6M83.2,379.6L82.2,399.4M84.9,402.6L84.3,411.3M80.5,388.6L91.4,405.2M70.8,408.8L92.2,408.8M80.5,388.6L93.0,399.0M98.4,383.9L66.7,393.1M98.4,383.9L84.3,411.3M92.2,387.7L95.7,394.2M84.0,372.8L94.6,382.3M77.8,381.0L94.6,382.3M86.5,406.6L84.3,411.3M84.0,388.0L84.9,394.7M98.4,383.9L91.4,412.6M74.6,398.0L77.1,406.6M84.9,394.7L70.8,408.8M77.1,391.8L93.0,399.0M98.4,383.9L77.1,391.8M98.4,383.9L84.9,402.6M77.1,391.8L91.4,412.6M92.2,387.7L97.3,404.8M81.1,395.8L82.2,399.4M86.5,381.0L81.1,395.8M66.7,393.1L92.2,408.8M66.7,393.1L103.0,399.0M90.0,375.5L84.0,388.0M84.9,402.6L92.2,408.8M86.5,381.0L86.5,406.6M74.0,394.2L95.7,394.2M92.2,387.7L76.2,402.0M84.9,402.6L77.1,406.6M89.0,396.1L95.7,394.2M87.6,388.2L97.3,404.8M90.0,375.5L92.2,408.8M95.7,394.2L91.4,405.2M96.2,398.5L84.3,411.3M92.2,387.7L103.0,399.0M74.6,398.0L92.2,408.8M103.0,399.0L86.5,406.6M90.0,375.5L77.1,406.6M96.2,398.5L76.2,402.0M70.8,408.8L91.4,412.6M83.2,379.6L89.0,396.1M92.2,408.8L84.3,411.3M98.4,383.9L100.9,392.6M86.5,381.0L87.6,388.2M86.5,381.0L103.0,399.0M84.0,372.8L77.1,391.8M77.1,406.6L92.2,408.8M89.0,396.1L92.2,408.8M104.9,385.8L81.1,395.8M83.2,379.6L66.7,393.1M77.8,381.0L86.5,381.0M66.7,393.1L82.2,399.4M103.0,399.0L84.9,402.6M84.9,394.7L92.2,408.8M83.2,379.6L84.9,402.6M84.0,372.8L84.0,388.0M84.0,388.0L92.2,408.8M80.5,388.6L92.2,387.7M82.2,399.4L97.3,404.8M98.4,383.9L74.0,394.2M87.6,388.2L84.9,402.6M104.9,385.8L84.3,411.3M94.6,382.3L85.7,397.4M76.2,402.0L91.4,412.6M83.2,379.6L98.4,383.9M74.6,398.0L82.2,399.4M84.0,372.8L76.2,402.0M81.1,395.8L95.7,394.2M84.0,372.8L92.2,387.7M77.8,381.0L87.6,388.2M90.0,375.5L84.3,411.3M84.0,372.8L80.5,388.6M76.2,402.0L91.4,405.2M83.2,379.6L76.2,402.0M86.5,381.0L93.0,399.0M95.7,394.2L86.5,406.6M94.6,382.3L70.8,408.8M80.5,388.6L91.4,412.6M84.0,372.8L84.9,394.7M84.9,402.6L91.4,405.2M84.0,388.0L76.2,402.0M97.3,404.8L77.1,406.6M83.2,379.6L81.1,395.8M80.5,388.6L76.2,402.0M104.9,385.8L76.2,402.0M91.4,405.2L86.5,406.6M95.7,394.2L84.3,411.3M66.7,393.1L86.5,406.6M77.8,381.0L84.9,394.7M94.6,382.3L86.5,406.6M94.6,382.3L92.2,408.8M86.5,381.0L84.9,394.7M89.0,396.1L96.2,398.5M96.2,398.5L70.8,408.8M74.0,394.2L100.9,392.6M66.7,393.1L91.4,412.6M84.0,388.0L93.0,399.0M98.4,383.9L85.7,397.4M66.7,393.1L100.9,392.6M66.7,393.1L76.2,402.0M96.2,398.5L77.1,406.6M77.1,391.8L86.5,406.6M84.9,394.7L93.0,399.0M77.8,381.0L84.3,411.3M100.9,392.6L84.9,402.6M95.7,394.2L100.9,392.6M82.2,399.4L91.4,405.2M98.4,383.9L92.2,408.8M104.9,385.8L91.4,412.6M86.5,381.0L66.7,393.1M77.1,391.8L103.0,399.0M81.1,395.8L97.3,404.8M84.0,372.8L82.2,399.4M104.9,385.8L103.0,399.0M92.2,387.7L93.0,399.0M91.4,405.2L97.3,404.8M80.5,388.6L77.1,391.8M86.5,381.0L82.2,399.4M77.8,381.0L92.2,387.7M84.0,372.8L81.1,395.8M84.9,394.7L91.4,405.2M95.7,394.2L97.3,404.8M84.0,372.8L87.6,388.2M66.7,393.1L91.4,405.2M84.0,372.8L95.7,394.2M74.6,398.0L93.0,399.0M104.9,385.8L96.2,398.5M98.4,383.9L74.6,398.0M93.0,399.0L92.2,408.8M98.4,383.9L82.2,399.4M87.6,388.2L103.0,399.0" stroke="#eb9c9c" stroke-width="0.5" fill="none" opacity="0.75"/>
<path d="M116.3,401.8L103.3,411.2M111.0,410.0L110.4,421.3M115.1,398.3L115.1,405.6M113.3,414.8L113.3,417.7M109.2,415.4L113.3,417.7M110.4,421.3L114.3,423.0M116.3,401.8L113.3,414.8M116.3,401.8L114.3,423.0M107.4,405.3L105.3,418.3M111.6,400.0L117.5,414.8M115.1,398.3L103.3,411.2M116.3,411.5L117.5,414.8M111.0,405.9L115.1,405.6M107.4,405.3L115.1,405.6M115.1,398.3L110.4,421.3M115.1,405.6L116.3,411.5M113.3,414.8L114.3,423.0M103.3,411.2L111.0,410.0M111.6,400.0L115.1,405.6M111.0,405.9L105.3,418.3M117.5,418.9L114.3,423.0M111.0,405.9L117.5,418.9M107.4,405.3L109.2,415.4M118.0,405.9L107.7,411.8M115.1,398.3L107.4,405.3M107.4,405.3L113.3,417.7M113.3,417.7L117.5,418.9M111.6,400.0L111.0,405.9M107.7,411.8L117.5,418.9M117.5,414.8L113.3,417.7M111.6,400.0L114.3,423.0M111.0,410.0L116.3,411.5M111.0,410.0L105.3,418.3M107.4,405.3L113.3,414.8M115.1,405.6L113.3,417.7M116.3,401.8L116.3,411.5M107.7,411.8L114.3,423.0M115.1,405.6L118.0,405.9M105.3,418.3L117.5,418.9M113.3,414.8L110.4,421.3M116.3,411.5L114.3,423.0M111.0,405.9L114.3,423.0M107.4,405.3L116.3,411.5M111.6,400.0L118.0,405.9M107.7,411.8L105.3,418.3M116.3,411.5L113.3,414.8M115.1,398.3L118.0,405.9M118.0,405.9L113.3,414.8M115.1,398.3L113.3,414.8M107.4,405.3L117.5,414.8M115.1,398.3L117.5,414.8M116.3,401.8L107.4,405.3M115.1,405.6L113.3,414.8M111.6,400.0L107.4,405.3M113.3,414.8L117.5,414.8M105.3,418.3L114.3,423.0M115.1,398.3L113.3,417.7M111.6,400.0L107.7,411.8M118.0,405.9L116.3,411.5M111.6,400.0L117.5,418.9M107.7,411.8L116.3,411.5M107.7,411.8L117.5,414.8M115.1,405.6L117.5,418.9M116.3,401.8L109.2,415.4M111.0,405.9L118.0,405.9M103.3,411.2L117.5,414.8M118.0,405.9L105.3,418.3M118.0,405.9L114.3,423.0M116.3,401.8L107.7,411.8M116.3,411.5L109.2,415.4M118.0,405.9L113.3,417.7M115.1,398.3L111.0,405.9M111.6,400.0L111.0,410.0M116.3,401.8L111.0,405.9M103.3,411.2L107.7,411.8M111.0,410.0L113.3,417.7M111.6,400.0L116.3,411.5M115.1,398.3L109.2,415.4M111.0,410.0L109.2,415.4M118.0,405.9L117.5,418.9M111.0,410.0L117.5,418.9M115.1,398.3L111.0,410.0M115.1,405.6L114.3,423.0M115.1,398.3L111.6,400.0M111.6,400.0L113.3,414.8M116.3,401.8L111.0,410.0M111.6,400.0L116.3,401.8M103.3,411.2L116.3,411.5M111.0,405.9L117.5,414.8M116.3,411.5L110.4,421.3M116.3,411.5L113.3,417.7M117.5,414.8L114.3,423.0M117.5,414.8L117.5,418.9M116.3,411.5L117.5,418.9M107.4,405.3L111.0,405.9M118.0,405.9L109.2,415.4M107.4,405.3L110.4,421.3M116.3,401.8L113.3,417.7M116.3,401.8L118.0,405.9M115.1,398.3L116.3,401.8M105.3,418.3L113.3,417.7M111.0,405.9L116.3,411.5M109.2,415.4L114.3,423.0M113.3,417.7L114.3,423.0M118.0,405.9L103.3,411.2M117.5,414.8L105.3,418.3M115.1,398.3L117.5,418.9M105.3,418.3L110.4,421.3M107.7,411.8L110.4,421.3M107.7,411.8L113.3,414.8M103.3,411.2L110.4,421.3M107.4,405.3L114.3,423.0M109.2,415.4L113.3,414.8M115.1,398.3L116.3,411.5M111.6,400.0L109.2,415.4M116.3,401.8L110.4,421.3M116.3,401.8L117.5,418.9M103.3,411.2L113.3,414.8M111.6,400.0L105.3,418.3M115.1,398.3L107.7,411.8M117.5,414.8L110.4,421.3M118.0,405.9L117.5,414.8M111.0,405.9L110.4,421.3M103.3,411.2L109.2,415.4M113.3,417.7L110.4,421.3M107.4,405.3L103.3,411.2M107.4,405.3L118.0,405.9M115.1,398.3L114.3,423.0M115.1,398.3L105.3,418.3M103.3,411.2L117.5,418.9M116.3,401.8L117.5,414.8M115.1,405.6L109.2,415.4M107.7,411.8L113.3,417.7M111.6,400.0L110.4,421.3M103.3,411.2L114.3,423.0M111.0,405.9L103.3,411.2M103.3,411.2L105.3,418.3M111.0,405.9L109.2,415.4M107.4,405.3L117.5,418.9M109.2,415.4L117.5,418.9M107.4,405.3L111.0,410.0M111.0,410.0L113.3,414.8M111.6,400.0L113.3,417.7M116.3,401.8L105.3,418.3M111.0,405.9L107.7,411.8M111.0,405.9L113.3,417.7M111.0,405.9L113.3,414.8M115.1,405.6L117.5,414.8M115.1,405.6L105.3,418.3M115.1,405.6L110.4,421.3M115.1,405.6L103.3,411.2M117.5,418.9L110.4,421.3M109.2,415.4L117.5,414.8M111.0,410.0L117.5,414.8M107.7,411.8L111.0,410.0M115.1,405.6L107.7,411.8M107.4,405.3L107.7,411.8M113.3,414.8L117.5,418.9M113.3,414.8L105.3,418.3M116.3,401.8L115.1,405.6M115.1,405.6L111.0,410.0M103.3,411.2L113.3,417.7M109.2,415.4L110.4,421.3M116.3,411.5L105.3,418.3M107.7,411.8L109.2,415.4M111.6,400.0L103.3,411.2M111.0,405.9L111.0,410.0M111.0,410.0L114.3,423.0M118.0,405.9L111.0,410.0M109.2,415.4L105.3,418.3M118.0,405.9L110.4,421.3" stroke="#eb9c9c" stroke-width="0.5" fill="none" opacity="0.75"/>
<path d="M143.2,330.5L135.0,336.2M143.2,330.5L152.7,335.0M143.2,330.5L140.4,349.0M143.2,330.5L150.0,347.4M143.2,330.5L142.0,355.7M143.2,330.5L146.8,358.2M135.0,336.2L152.7,335.0M135.0,336.2L140.4,349.0M135.0,336.2L150.0,347.4M135.0,336.2L142.0,355.7M135.0,336.2L146.8,358.2M152.7,335.0L140.4,349.0M152.7,335.0L150.0,347.4M152.7,335.0L142.0,355.7M152.7,335.0L146.8,358.2M140.4,349.0L150.0,347.4M140.4,349.0L142.0,355.7M140.4,349.0L146.8,358.2M150.0,347.4L142.0,355.7M150.0,347.4L146.8,358.2M142.0,355.7L146.8,358.2" stroke="#e06a6a" stroke-width="0.8" fill="none" opacity="0.8"/>
<path d="M185.0,326.5L175.0,333.0M185.0,326.5L192.7,331.5M185.0,326.5L181.6,334.6M185.0,326.5L173.0,339.7M185.0,326.5L184.2,341.2M185.0,326.5L192.4,340.0M185.0,326.5L177.0,345.0M185.0,326.5L190.8,347.0M185.0,326.5L183.9,349.0M175.0,333.0L192.7,331.5M175.0,333.0L181.6,334.6M175.0,333.0L173.0,339.7M175.0,333.0L184.2,341.2M175.0,333.0L192.4,340.0M175.0,333.0L177.0,345.0M175.0,333.0L190.8,347.0M175.0,333.0L183.9,349.0M192.7,331.5L181.6,334.6M192.7,331.5L173.0,339.7M192.7,331.5L184.2,341.2M192.7,331.5L192.4,340.0M192.7,331.5L177.0,345.0M192.7,331.5L190.8,347.0M192.7,331.5L183.9,349.0M181.6,334.6L173.0,339.7M181.6,334.6L184.2,341.2M181.6,334.6L192.4,340.0M181.6,334.6L177.0,345.0M181.6,334.6L190.8,347.0M181.6,334.6L183.9,349.0M173.0,339.7L184.2,341.2M173.0,339.7L192.4,340.0M173.0,339.7L177.0,345.0M173.0,339.7L190.8,347.0M173.0,339.7L183.9,349.0M184.2,341.2L192.4,340.0M184.2,341.2L177.0,345.0M184.2,341.2L190.8,347.0M184.2,341.2L183.9,349.0M192.4,340.0L177.0,345.0M192.4,340.0L190.8,347.0M192.4,340.0L183.9,349.0M177.0,345.0L190.8,347.0M177.0,345.0L183.9,349.0M190.8,347.0L183.9,349.0" stroke="#e06a6a" stroke-width="0.8" fill="none" opacity="0.8"/>
<path d="M120.1,354.8L115.2,357.8M120.1,354.8L126.5,357.6M120.1,354.8L117.7,362.5M120.1,354.8L123.4,361.7M120.1,354.8L120.1,366.6M120.1,354.8L124.9,368.4M115.2,357.8L126.5,357.6M115.2,357.8L117.7,362.5M115.2,357.8L123.4,361.7M115.2,357.8L120.1,366.6M115.2,357.8L124.9,368.4M126.5,357.6L117.7,362.5M126.5,357.6L123.4,361.7M126.5,357.6L120.1,366.6M126.5,357.6L124.9,368.4M117.7,362.5L123.4,361.7M117.7,362.5L120.1,366.6M117.7,362.5L124.9,368.4M123.4,361.7L120.1,366.6M123.4,361.7L124.9,368.4M120.1,366.6L124.9,368.4" stroke="#e06a6a" stroke-width="0.8" fill="none" opacity="0.8"/>
<path d="M118.2,379.9L122.1,379.2M118.2,379.9L119.6,382.8M118.2,379.9L125.0,381.3M122.1,379.2L119.6,382.8M122.1,379.2L125.0,381.3M119.6,382.8L125.0,381.3" stroke="#e06a6a" stroke-width="0.8" fill="none" opacity="0.8"/>
<path d="M190.8,367.7L187.3,371.5M190.8,367.7L195.0,374.6M190.8,367.7L186.5,376.2M190.8,367.7L193.5,381.5M187.3,371.5L195.0,374.6M187.3,371.5L186.5,376.2M187.3,371.5L193.5,381.5M195.0,374.6L186.5,376.2M195.0,374.6L193.5,381.5M186.5,376.2L193.5,381.5" stroke="#e06a6a" stroke-width="0.8" fill="none" opacity="0.8"/>
<path d="M171.8,420.3L178.9,418.9M171.8,420.3L184.8,418.9M171.8,420.3L166.5,427.2M171.8,420.3L180.9,426.0M171.8,420.3L191.5,426.8M171.8,420.3L161.8,434.5M171.8,420.3L173.0,433.9M171.8,420.3L189.5,435.9M171.8,420.3L180.9,438.6M171.8,420.3L171.8,440.1M178.9,418.9L184.8,418.9M178.9,418.9L166.5,427.2M178.9,418.9L180.9,426.0M178.9,418.9L191.5,426.8M178.9,418.9L161.8,434.5M178.9,418.9L173.0,433.9M178.9,418.9L189.5,435.9M178.9,418.9L180.9,438.6M178.9,418.9L171.8,440.1M184.8,418.9L166.5,427.2M184.8,418.9L180.9,426.0M184.8,418.9L191.5,426.8M184.8,418.9L161.8,434.5M184.8,418.9L173.0,433.9M184.8,418.9L189.5,435.9M184.8,418.9L180.9,438.6M184.8,418.9L171.8,440.1M166.5,427.2L180.9,426.0M166.5,427.2L191.5,426.8M166.5,427.2L161.8,434.5M166.5,427.2L173.0,433.9M166.5,427.2L189.5,435.9M166.5,427.2L180.9,438.6M166.5,427.2L171.8,440.1M180.9,426.0L191.5,426.8M180.9,426.0L161.8,434.5M180.9,426.0L173.0,433.9M180.9,426.0L189.5,435.9M180.9,426.0L180.9,438.6M180.9,426.0L171.8,440.1M191.5,426.8L161.8,434.5M191.5,426.8L173.0,433.9M191.5,426.8L189.5,435.9M191.5,426.8L180.9,438.6M191.5,426.8L171.8,440.1M161.8,434.5L173.0,433.9M161.8,434.5L189.5,435.9M161.8,434.5L180.9,438.6M161.8,434.5L171.8,440.1M173.0,433.9L189.5,435.9M173.0,433.9L180.9,438.6M173.0,433.9L171.8,440.1M189.5,435.9L180.9,438.6M189.5,435.9L171.8,440.1M180.9,438.6L171.8,440.1" stroke="#e06a6a" stroke-width="0.8" fill="none" opacity="0.8"/>
<path d="M129.8,449.5L135.1,449.5M129.8,449.5L142.1,450.7M129.8,449.5L149.9,448.0M129.8,449.5L156.3,448.6M129.8,449.5L133.0,453.3M129.8,449.5L138.7,457.0M129.8,449.5L145.7,456.4M129.8,449.5L142.9,461.3M129.8,449.5L136.2,446.5M135.1,449.5L142.1,450.7M135.1,449.5L149.9,448.0M135.1,449.5L156.3,448.6M135.1,449.5L133.0,453.3M135.1,449.5L138.7,457.0M135.1,449.5L145.7,456.4M135.1,449.5L142.9,461.3M135.1,449.5L136.2,446.5M142.1,450.7L149.9,448.0M142.1,450.7L156.3,448.6M142.1,450.7L133.0,453.3M142.1,450.7L138.7,457.0M142.1,450.7L145.7,456.4M142.1,450.7L142.9,461.3M142.1,450.7L136.2,446.5M149.9,448.0L156.3,448.6M149.9,448.0L133.0,453.3M149.9,448.0L138.7,457.0M149.9,448.0L145.7,456.4M149.9,448.0L142.9,461.3M149.9,448.0L136.2,446.5M156.3,448.6L133.0,453.3M156.3,448.6L138.7,457.0M156.3,448.6L145.7,456.4M156.3,448.6L142.9,461.3M156.3,448.6L136.2,446.5M133.0,453.3L138.7,457.0M133.0,453.3L145.7,456.4M133.0,453.3L142.9,461.3M133.0,453.3L136.2,446.5M138.7,457.0L145.7,456.4M138.7,457.0L142.9,461.3M138.7,457.0L136.2,446.5M145.7,456.4L142.9,461.3M145.7,456.4L136.2,446.5M142.9,461.3L136.2,446.5" stroke="#e06a6a" stroke-width="0.8" fill="none" opacity="0.8"/>
<path d="M88.6,444.4L67.4,456.4M88.6,444.4L69.5,468.1M88.6,444.4L81.2,466.4M67.4,456.4L69.5,468.1M67.4,456.4L81.2,466.4M69.5,468.1L81.2,466.4" stroke="#e06a6a" stroke-width="0.8" fill="none" opacity="0.8"/>
<path d="M108.7,463.4L116.1,466.4" stroke="#e06a6a" stroke-width="0.8" fill="none" opacity="0.8"/>
<path d="M276.1,313.1L286.9,310.9M276.1,313.1L269.7,325.2M276.1,313.1L283.7,327.4M286.9,310.9L283.7,327.4M286.9,310.9L292.5,321.2M286.9,310.9L269.7,325.2M292.5,321.2L283.7,327.4M269.7,325.2L283.7,327.4M276.1,313.1L292.5,321.2" stroke="#e06a6a" stroke-width="0.8" fill="none" opacity="0.8"/>
<path d="M243.3,339.5L238.7,351.6M243.3,339.5L255.9,355.6M238.7,351.6L261.3,347.5M238.7,351.6L273.7,348.6M261.3,347.5L273.7,348.6M261.3,347.5L255.9,355.6M261.3,347.5L266.7,364.2M261.3,347.5L276.4,358.9M273.7,348.6L276.4,358.9M273.7,348.6L266.7,364.2M276.4,358.9L266.7,364.2M255.9,355.6L266.7,364.2M255.9,355.6L273.7,348.6" stroke="#e06a6a" stroke-width="0.8" fill="none" opacity="0.8"/>
<path d="M141.8,399.7L146.5,403.8M141.0,428.0L129.3,411.8M126.1,422.4L136.9,420.0M145.0,438.0L124.8,436.0M139.9,434.6L148.7,426.6M146.0,410.0L146.5,403.8M136.9,420.0L129.8,421.8M144.2,431.9L147.5,417.7M125.1,416.9L124.5,426.5M146.5,403.8L148.7,426.6M138.1,437.8L146.5,403.8M133.4,422.4L135.0,426.0M126.1,406.3L128.5,427.5M144.2,431.9L129.8,421.8M147.7,399.2L133.4,422.4M126.1,422.4L132.2,414.2M146.0,410.0L133.4,417.7M141.8,399.7L124.8,436.0M133.4,422.4L138.1,437.8M126.1,422.4L137.5,401.6M138.1,437.8L147.7,399.2M141.0,428.0L127.5,431.5M126.1,406.3L141.0,428.0M124.8,436.0L124.5,426.5M127.5,431.5L136.9,420.0M126.1,422.4L139.9,434.6M136.9,428.3L148.7,426.6M136.9,428.3L126.1,406.3M147.5,417.7L133.4,417.7M133.4,422.4L136.9,420.0M144.2,431.9L135.0,426.0M126.1,422.4L138.1,412.4M141.0,428.0L145.0,438.0M133.4,422.4L133.4,422.4M124.5,426.5L136.9,420.0M126.1,422.4L146.5,403.8M124.8,436.0L128.5,427.5M126.1,422.4L144.2,431.9M135.0,426.0L124.5,426.5M126.1,406.3L129.3,411.8M146.0,410.0L147.7,399.2M132.8,403.2L126.1,422.4M132.2,432.5L146.5,403.8M130.0,438.5L147.7,399.2M136.9,420.0L127.5,431.5M141.8,399.7L147.7,399.2M148.7,426.6L124.8,436.0M145.0,438.0L126.1,422.4M133.4,417.7L130.0,438.5M147.5,417.7L143.4,415.7" stroke="#e89090" stroke-width="0.5" fill="none" opacity="0.6"/>
<circle cx="84.00" cy="372.80" r="2.75" fill="#c3c6c9" stroke="none" stroke-width="0"/>
<circle cx="90.00" cy="375.50" r="2.75" fill="#c3c6c9" stroke="none" stroke-width="0"/>
<circle cx="77.80" cy="381.00" r="2.75" fill="#c3c6c9" stroke="none" stroke-width="0"/>
<circle cx="83.20" cy="379.60" r="2.75" fill="#c3c6c9" stroke="none" stroke-width="0"/>
<circle cx="86.50" cy="381.00" r="2.75" fill="#c3c6c9" stroke="none" stroke-width="0"/>
<circle cx="94.60" cy="382.30" r="2.75" fill="#c3c6c9" stroke="none" stroke-width="0"/>
<circle cx="98.40" cy="383.90" r="2.75" fill="#c3c6c9" stroke="none" stroke-width="0"/>
<circle cx="104.90" cy="385.80" r="2.75" fill="#c3c6c9" stroke="none" stroke-width="0"/>
<circle cx="80.50" cy="388.60" r="2.75" fill="#c3c6c9" stroke="none" stroke-width="0"/>
<circle cx="84.00" cy="388.00" r="2.75" fill="#c3c6c9" stroke="none" stroke-width="0"/>
<circle cx="87.60" cy="388.20" r="2.75" fill="#c3c6c9" stroke="none" stroke-width="0"/>
<circle cx="92.20" cy="387.70" r="2.75" fill="#c3c6c9" stroke="none" stroke-width="0"/>
<circle cx="66.70" cy="393.10" r="2.75" fill="#c3c6c9" stroke="none" stroke-width="0"/>
<circle cx="74.00" cy="394.20" r="2.75" fill="#c3c6c9" stroke="none" stroke-width="0"/>
<circle cx="77.10" cy="391.80" r="2.75" fill="#c3c6c9" stroke="none" stroke-width="0"/>
<circle cx="81.10" cy="395.80" r="2.75" fill="#c3c6c9" stroke="none" stroke-width="0"/>
<circle cx="84.90" cy="394.70" r="2.75" fill="#c3c6c9" stroke="none" stroke-width="0"/>
<circle cx="89.00" cy="396.10" r="2.75" fill="#c3c6c9" stroke="none" stroke-width="0"/>
<circle cx="95.70" cy="394.20" r="2.75" fill="#c3c6c9" stroke="none" stroke-width="0"/>
<circle cx="100.90" cy="392.60" r="2.75" fill="#c3c6c9" stroke="none" stroke-width="0"/>
<circle cx="74.60" cy="398.00" r="2.75" fill="#c3c6c9" stroke="none" stroke-width="0"/>
<circle cx="82.20" cy="399.40" r="2.75" fill="#c3c6c9" stroke="none" stroke-width="0"/>
<circle cx="85.70" cy="397.40" r="2.75" fill="#c3c6c9" stroke="none" stroke-width="0"/>
<circle cx="93.00" cy="399.00" r="2.75" fill="#c3c6c9" stroke="none" stroke-width="0"/>
<circle cx="96.20" cy="398.50" r="2.75" fill="#c3c6c9" stroke="none" stroke-width="0"/>
<circle cx="103.00" cy="399.00" r="2.75" fill="#c3c6c9" stroke="none" stroke-width="0"/>
<circle cx="76.20" cy="402.00" r="2.75" fill="#c3c6c9" stroke="none" stroke-width="0"/>
<circle cx="84.90" cy="402.60" r="2.75" fill="#c3c6c9" stroke="none" stroke-width="0"/>
<circle cx="91.40" cy="405.20" r="2.75" fill="#c3c6c9" stroke="none" stroke-width="0"/>
<circle cx="97.30" cy="404.80" r="2.75" fill="#c3c6c9" stroke="none" stroke-width="0"/>
<circle cx="77.10" cy="406.60" r="2.75" fill="#c3c6c9" stroke="none" stroke-width="0"/>
<circle cx="86.50" cy="406.60" r="2.75" fill="#c3c6c9" stroke="none" stroke-width="0"/>
<circle cx="70.80" cy="408.80" r="2.75" fill="#c3c6c9" stroke="none" stroke-width="0"/>
<circle cx="92.20" cy="408.80" r="2.75" fill="#c3c6c9" stroke="none" stroke-width="0"/>
<circle cx="84.30" cy="411.30" r="2.75" fill="#c3c6c9" stroke="none" stroke-width="0"/>
<circle cx="91.40" cy="412.60" r="2.75" fill="#c3c6c9" stroke="none" stroke-width="0"/>
<circle cx="115.10" cy="398.30" r="2.75" fill="#c3c6c9" stroke="none" stroke-width="0"/>
<circle cx="111.60" cy="400.00" r="2.75" fill="#c3c6c9" stroke="none" stroke-width="0"/>
<circle cx="116.30" cy="401.80" r="2.75" fill="#c3c6c9" stroke="none" stroke-width="0"/>
<circle cx="107.40" cy="405.30" r="2.75" fill="#c3c6c9" stroke="none" stroke-width="0"/>
<circle cx="111.00" cy="405.90" r="2.75" fill="#c3c6c9" stroke="none" stroke-width="0"/>
<circle cx="115.10" cy="405.60" r="2.75" fill="#c3c6c9" stroke="none" stroke-width="0"/>
<circle cx="118.00" cy="405.90" r="2.75" fill="#c3c6c9" stroke="none" stroke-width="0"/>
<circle cx="103.30" cy="411.20" r="2.75" fill="#c3c6c9" stroke="none" stroke-width="0"/>
<circle cx="107.70" cy="411.80" r="2.75" fill="#c3c6c9" stroke="none" stroke-width="0"/>
<circle cx="111.00" cy="410.00" r="2.75" fill="#c3c6c9" stroke="none" stroke-width="0"/>
<circle cx="116.30" cy="411.50" r="2.75" fill="#c3c6c9" stroke="none" stroke-width="0"/>
<circle cx="109.20" cy="415.40" r="2.75" fill="#c3c6c9" stroke="none" stroke-width="0"/>
<circle cx="113.30" cy="414.80" r="2.75" fill="#c3c6c9" stroke="none" stroke-width="0"/>
<circle cx="117.50" cy="414.80" r="2.75" fill="#c3c6c9" stroke="none" stroke-width="0"/>
<circle cx="105.30" cy="418.30" r="2.75" fill="#c3c6c9" stroke="none" stroke-width="0"/>
<circle cx="113.30" cy="417.70" r="2.75" fill="#c3c6c9" stroke="none" stroke-width="0"/>
<circle cx="117.50" cy="418.90" r="2.75" fill="#c3c6c9" stroke="none" stroke-width="0"/>
<circle cx="110.40" cy="421.30" r="2.75" fill="#c3c6c9" stroke="none" stroke-width="0"/>
<circle cx="114.30" cy="423.00" r="2.75" fill="#c3c6c9" stroke="none" stroke-width="0"/>
<circle cx="143.20" cy="330.50" r="2.75" fill="#c3c6c9" stroke="none" stroke-width="0"/>
<circle cx="135.00" cy="336.20" r="2.75" fill="#c3c6c9" stroke="none" stroke-width="0"/>
<circle cx="152.70" cy="335.00" r="2.75" fill="#c3c6c9" stroke="none" stroke-width="0"/>
<circle cx="140.40" cy="349.00" r="2.75" fill="#c3c6c9" stroke="none" stroke-width="0"/>
<circle cx="150.00" cy="347.40" r="2.75" fill="#c3c6c9" stroke="none" stroke-width="0"/>
<circle cx="142.00" cy="355.70" r="2.75" fill="#c3c6c9" stroke="none" stroke-width="0"/>
<circle cx="146.80" cy="358.20" r="2.75" fill="#c3c6c9" stroke="none" stroke-width="0"/>
<circle cx="185.00" cy="326.50" r="2.75" fill="#c3c6c9" stroke="none" stroke-width="0"/>
<circle cx="175.00" cy="333.00" r="2.75" fill="#c3c6c9" stroke="none" stroke-width="0"/>
<circle cx="192.70" cy="331.50" r="2.75" fill="#c3c6c9" stroke="none" stroke-width="0"/>
<circle cx="181.60" cy="334.60" r="2.75" fill="#c3c6c9" stroke="none" stroke-width="0"/>
<circle cx="173.00" cy="339.70" r="2.75" fill="#c3c6c9" stroke="none" stroke-width="0"/>
<circle cx="184.20" cy="341.20" r="2.75" fill="#c3c6c9" stroke="none" stroke-width="0"/>
<circle cx="192.40" cy="340.00" r="2.75" fill="#c3c6c9" stroke="none" stroke-width="0"/>
<circle cx="177.00" cy="345.00" r="2.75" fill="#c3c6c9" stroke="none" stroke-width="0"/>
<circle cx="190.80" cy="347.00" r="2.75" fill="#c3c6c9" stroke="none" stroke-width="0"/>
<circle cx="183.90" cy="349.00" r="2.75" fill="#c3c6c9" stroke="none" stroke-width="0"/>
<circle cx="120.10" cy="354.80" r="2.75" fill="#c3c6c9" stroke="none" stroke-width="0"/>
<circle cx="115.20" cy="357.80" r="2.75" fill="#c3c6c9" stroke="none" stroke-width="0"/>
<circle cx="126.50" cy="357.60" r="2.75" fill="#c3c6c9" stroke="none" stroke-width="0"/>
<circle cx="117.70" cy="362.50" r="2.75" fill="#c3c6c9" stroke="none" stroke-width="0"/>
<circle cx="123.40" cy="361.70" r="2.75" fill="#c3c6c9" stroke="none" stroke-width="0"/>
<circle cx="120.10" cy="366.60" r="2.75" fill="#c3c6c9" stroke="none" stroke-width="0"/>
<circle cx="124.90" cy="368.40" r="2.75" fill="#c3c6c9" stroke="none" stroke-width="0"/>
<circle cx="118.20" cy="379.90" r="2.75" fill="#c3c6c9" stroke="none" stroke-width="0"/>
<circle cx="122.10" cy="379.20" r="2.75" fill="#c3c6c9" stroke="none" stroke-width="0"/>
<circle cx="119.60" cy="382.80" r="2.75" fill="#c3c6c9" stroke="none" stroke-width="0"/>
<circle cx="125.00" cy="381.30" r="2.75" fill="#c3c6c9" stroke="none" stroke-width="0"/>
<circle cx="190.80" cy="367.70" r="2.75" fill="#c3c6c9" stroke="none" stroke-width="0"/>
<circle cx="187.30" cy="371.50" r="2.75" fill="#c3c6c9" stroke="none" stroke-width="0"/>
<circle cx="195.00" cy="374.60" r="2.75" fill="#c3c6c9" stroke="none" stroke-width="0"/>
<circle cx="186.50" cy="376.20" r="2.75" fill="#c3c6c9" stroke="none" stroke-width="0"/>
<circle cx="193.50" cy="381.50" r="2.75" fill="#c3c6c9" stroke="none" stroke-width="0"/>
<circle cx="171.80" cy="420.30" r="2.75" fill="#c3c6c9" stroke="none" stroke-width="0"/>
<circle cx="178.90" cy="418.90" r="2.75" fill="#c3c6c9" stroke="none" stroke-width="0"/>
<circle cx="184.80" cy="418.90" r="2.75" fill="#c3c6c9" stroke="none" stroke-width="0"/>
<circle cx="166.50" cy="427.20" r="2.75" fill="#c3c6c9" stroke="none" stroke-width="0"/>
<circle cx="180.90" cy="426.00" r="2.75" fill="#c3c6c9" stroke="none" stroke-width="0"/>
<circle cx="191.50" cy="426.80" r="2.75" fill="#c3c6c9" stroke="none" stroke-width="0"/>
<circle cx="161.80" cy="434.50" r="2.75" fill="#c3c6c9" stroke="none" stroke-width="0"/>
<circle cx="173.00" cy="433.90" r="2.75" fill="#c3c6c9" stroke="none" stroke-width="0"/>
<circle cx="189.50" cy="435.90" r="2.75" fill="#c3c6c9" stroke="none" stroke-width="0"/>
<circle cx="180.90" cy="438.60" r="2.75" fill="#c3c6c9" stroke="none" stroke-width="0"/>
<circle cx="171.80" cy="440.10" r="2.75" fill="#c3c6c9" stroke="none" stroke-width="0"/>
<circle cx="129.80" cy="449.50" r="2.75" fill="#c3c6c9" stroke="none" stroke-width="0"/>
<circle cx="135.10" cy="449.50" r="2.75" fill="#c3c6c9" stroke="none" stroke-width="0"/>
<circle cx="142.10" cy="450.70" r="2.75" fill="#c3c6c9" stroke="none" stroke-width="0"/>
<circle cx="149.90" cy="448.00" r="2.75" fill="#c3c6c9" stroke="none" stroke-width="0"/>
<circle cx="156.30" cy="448.60" r="2.75" fill="#c3c6c9" stroke="none" stroke-width="0"/>
<circle cx="133.00" cy="453.30" r="2.75" fill="#c3c6c9" stroke="none" stroke-width="0"/>
<circle cx="138.70" cy="457.00" r="2.75" fill="#c3c6c9" stroke="none" stroke-width="0"/>
<circle cx="145.70" cy="456.40" r="2.75" fill="#c3c6c9" stroke="none" stroke-width="0"/>
<circle cx="142.90" cy="461.30" r="2.75" fill="#c3c6c9" stroke="none" stroke-width="0"/>
<circle cx="136.20" cy="446.50" r="2.75" fill="#c3c6c9" stroke="none" stroke-width="0"/>
<circle cx="88.60" cy="444.40" r="2.75" fill="#c3c6c9" stroke="none" stroke-width="0"/>
<circle cx="67.40" cy="456.40" r="2.75" fill="#c3c6c9" stroke="none" stroke-width="0"/>
<circle cx="69.50" cy="468.10" r="2.75" fill="#c3c6c9" stroke="none" stroke-width="0"/>
<circle cx="81.20" cy="466.40" r="2.75" fill="#c3c6c9" stroke="none" stroke-width="0"/>
<circle cx="108.70" cy="463.40" r="2.75" fill="#c3c6c9" stroke="none" stroke-width="0"/>
<circle cx="116.10" cy="466.40" r="2.75" fill="#c3c6c9" stroke="none" stroke-width="0"/>
<circle cx="276.10" cy="313.10" r="2.75" fill="#c3c6c9" stroke="none" stroke-width="0"/>
<circle cx="286.90" cy="310.90" r="2.75" fill="#c3c6c9" stroke="none" stroke-width="0"/>
<circle cx="292.50" cy="321.20" r="2.75" fill="#c3c6c9" stroke="none" stroke-width="0"/>
<circle cx="269.70" cy="325.20" r="2.75" fill="#c3c6c9" stroke="none" stroke-width="0"/>
<circle cx="283.70" cy="327.40" r="2.75" fill="#c3c6c9" stroke="none" stroke-width="0"/>
<circle cx="243.30" cy="339.50" r="2.75" fill="#c3c6c9" stroke="none" stroke-width="0"/>
<circle cx="238.70" cy="351.60" r="2.75" fill="#c3c6c9" stroke="none" stroke-width="0"/>
<circle cx="261.30" cy="347.50" r="2.75" fill="#c3c6c9" stroke="none" stroke-width="0"/>
<circle cx="273.70" cy="348.60" r="2.75" fill="#c3c6c9" stroke="none" stroke-width="0"/>
<circle cx="255.90" cy="355.60" r="2.75" fill="#c3c6c9" stroke="none" stroke-width="0"/>
<circle cx="276.40" cy="358.90" r="2.75" fill="#c3c6c9" stroke="none" stroke-width="0"/>
<circle cx="266.70" cy="364.20" r="2.75" fill="#c3c6c9" stroke="none" stroke-width="0"/>
<circle cx="124.50" cy="426.50" r="2.75" fill="#c3c6c9" stroke="none" stroke-width="0"/>
<circle cx="127.50" cy="431.50" r="2.75" fill="#c3c6c9" stroke="none" stroke-width="0"/>
<circle cx="124.80" cy="436.00" r="2.75" fill="#c3c6c9" stroke="none" stroke-width="0"/>
<circle cx="130.00" cy="438.50" r="2.75" fill="#c3c6c9" stroke="none" stroke-width="0"/>
<circle cx="128.50" cy="427.50" r="2.75" fill="#c3c6c9" stroke="none" stroke-width="0"/>
<circle cx="135.00" cy="426.00" r="2.75" fill="#c3c6c9" stroke="none" stroke-width="0"/>
<circle cx="146.00" cy="410.00" r="2.75" fill="#c3c6c9" stroke="none" stroke-width="0"/>
<circle cx="145.00" cy="438.00" r="2.75" fill="#c3c6c9" stroke="none" stroke-width="0"/>
<circle cx="147.70" cy="399.20" r="2.75" fill="#c3c6c9" stroke="none" stroke-width="0"/>
<circle cx="141.80" cy="399.70" r="2.75" fill="#c3c6c9" stroke="none" stroke-width="0"/>
<circle cx="146.50" cy="403.80" r="2.75" fill="#c3c6c9" stroke="none" stroke-width="0"/>
<circle cx="84.00" cy="372.80" r="1.00" fill="#dc2a14" stroke="none" stroke-width="0"/>
<circle cx="90.00" cy="375.50" r="1.00" fill="#dc2a14" stroke="none" stroke-width="0"/>
<circle cx="77.80" cy="381.00" r="1.00" fill="#dc2a14" stroke="none" stroke-width="0"/>
<circle cx="83.20" cy="379.60" r="1.00" fill="#dc2a14" stroke="none" stroke-width="0"/>
<circle cx="86.50" cy="381.00" r="1.00" fill="#dc2a14" stroke="none" stroke-width="0"/>
<circle cx="94.60" cy="382.30" r="1.00" fill="#dc2a14" stroke="none" stroke-width="0"/>
<circle cx="98.40" cy="383.90" r="1.00" fill="#dc2a14" stroke="none" stroke-width="0"/>
<circle cx="104.90" cy="385.80" r="1.00" fill="#dc2a14" stroke="none" stroke-width="0"/>
<circle cx="80.50" cy="388.60" r="1.00" fill="#dc2a14" stroke="none" stroke-width="0"/>
<circle cx="84.00" cy="388.00" r="1.00" fill="#dc2a14" stroke="none" stroke-width="0"/>
<circle cx="87.60" cy="388.20" r="1.00" fill="#dc2a14" stroke="none" stroke-width="0"/>
<circle cx="92.20" cy="387.70" r="1.00" fill="#dc2a14" stroke="none" stroke-width="0"/>
<circle cx="66.70" cy="393.10" r="1.00" fill="#dc2a14" stroke="none" stroke-width="0"/>
<circle cx="74.00" cy="394.20" r="1.00" fill="#dc2a14" stroke="none" stroke-width="0"/>
<circle cx="77.10" cy="391.80" r="1.00" fill="#dc2a14" stroke="none" stroke-width="0"/>
<circle cx="81.10" cy="395.80" r="1.00" fill="#dc2a14" stroke="none" stroke-width="0"/>
<circle cx="84.90" cy="394.70" r="1.00" fill="#dc2a14" stroke="none" stroke-width="0"/>
<circle cx="89.00" cy="396.10" r="1.00" fill="#dc2a14" stroke="none" stroke-width="0"/>
<circle cx="95.70" cy="394.20" r="1.00" fill="#dc2a14" stroke="none" stroke-width="0"/>
<circle cx="100.90" cy="392.60" r="1.00" fill="#dc2a14" stroke="none" stroke-width="0"/>
<circle cx="74.60" cy="398.00" r="1.00" fill="#dc2a14" stroke="none" stroke-width="0"/>
<circle cx="82.20" cy="399.40" r="1.00" fill="#dc2a14" stroke="none" stroke-width="0"/>
<circle cx="85.70" cy="397.40" r="1.00" fill="#dc2a14" stroke="none" stroke-width="0"/>
<circle cx="93.00" cy="399.00" r="1.00" fill="#dc2a14" stroke="none" stroke-width="0"/>
<circle cx="96.20" cy="398.50" r="1.00" fill="#dc2a14" stroke="none" stroke-width="0"/>
<circle cx="103.00" cy="399.00" r="1.00" fill="#dc2a14" stroke="none" stroke-width="0"/>
<circle cx="76.20" cy="402.00" r="1.00" fill="#dc2a14" stroke="none" stroke-width="0"/>
<circle cx="84.90" cy="402.60" r="1.00" fill="#dc2a14" stroke="none" stroke-width="0"/>
<circle cx="91.40" cy="405.20" r="1.00" fill="#dc2a14" stroke="none" stroke-width="0"/>
<circle cx="97.30" cy="404.80" r="1.00" fill="#dc2a14" stroke="none" stroke-width="0"/>
<circle cx="77.10" cy="406.60" r="1.00" fill="#dc2a14" stroke="none" stroke-width="0"/>
<circle cx="86.50" cy="406.60" r="1.00" fill="#dc2a14" stroke="none" stroke-width="0"/>
<circle cx="70.80" cy="408.80" r="1.00" fill="#dc2a14" stroke="none" stroke-width="0"/>
<circle cx="92.20" cy="408.80" r="1.00" fill="#dc2a14" stroke="none" stroke-width="0"/>
<circle cx="84.30" cy="411.30" r="1.00" fill="#dc2a14" stroke="none" stroke-width="0"/>
<circle cx="91.40" cy="412.60" r="1.00" fill="#dc2a14" stroke="none" stroke-width="0"/>
<circle cx="115.10" cy="398.30" r="1.00" fill="#dc2a14" stroke="none" stroke-width="0"/>
<circle cx="111.60" cy="400.00" r="1.00" fill="#dc2a14" stroke="none" stroke-width="0"/>
<circle cx="116.30" cy="401.80" r="1.00" fill="#dc2a14" stroke="none" stroke-width="0"/>
<circle cx="107.40" cy="405.30" r="1.00" fill="#dc2a14" stroke="none" stroke-width="0"/>
<circle cx="111.00" cy="405.90" r="1.00" fill="#dc2a14" stroke="none" stroke-width="0"/>
<circle cx="115.10" cy="405.60" r="1.00" fill="#dc2a14" stroke="none" stroke-width="0"/>
<circle cx="118.00" cy="405.90" r="1.00" fill="#dc2a14" stroke="none" stroke-width="0"/>
<circle cx="103.30" cy="411.20" r="1.00" fill="#dc2a14" stroke="none" stroke-width="0"/>
<circle cx="107.70" cy="411.80" r="1.00" fill="#dc2a14" stroke="none" stroke-width="0"/>
<circle cx="111.00" cy="410.00" r="1.00" fill="#dc2a14" stroke="none" stroke-width="0"/>
<circle cx="116.30" cy="411.50" r="1.00" fill="#dc2a14" stroke="none" stroke-width="0"/>
<circle cx="109.20" cy="415.40" r="1.00" fill="#dc2a14" stroke="none" stroke-width="0"/>
<circle cx="113.30" cy="414.80" r="1.00" fill="#dc2a14" stroke="none" stroke-width="0"/>
<circle cx="117.50" cy="414.80" r="1.00" fill="#dc2a14" stroke="none" stroke-width="0"/>
<circle cx="105.30" cy="418.30" r="1.00" fill="#dc2a14" stroke="none" stroke-width="0"/>
<circle cx="113.30" cy="417.70" r="1.00" fill="#dc2a14" stroke="none" stroke-width="0"/>
<circle cx="117.50" cy="418.90" r="1.00" fill="#dc2a14" stroke="none" stroke-width="0"/>
<circle cx="110.40" cy="421.30" r="1.00" fill="#dc2a14" stroke="none" stroke-width="0"/>
<circle cx="114.30" cy="423.00" r="1.00" fill="#dc2a14" stroke="none" stroke-width="0"/>
<circle cx="143.20" cy="330.50" r="1.00" fill="#dc2a14" stroke="none" stroke-width="0"/>
<circle cx="135.00" cy="336.20" r="1.00" fill="#dc2a14" stroke="none" stroke-width="0"/>
<circle cx="152.70" cy="335.00" r="1.00" fill="#dc2a14" stroke="none" stroke-width="0"/>
<circle cx="140.40" cy="349.00" r="1.00" fill="#dc2a14" stroke="none" stroke-width="0"/>
<circle cx="150.00" cy="347.40" r="1.00" fill="#dc2a14" stroke="none" stroke-width="0"/>
<circle cx="142.00" cy="355.70" r="1.00" fill="#dc2a14" stroke="none" stroke-width="0"/>
<circle cx="146.80" cy="358.20" r="1.00" fill="#dc2a14" stroke="none" stroke-width="0"/>
<circle cx="185.00" cy="326.50" r="1.00" fill="#dc2a14" stroke="none" stroke-width="0"/>
<circle cx="175.00" cy="333.00" r="1.00" fill="#dc2a14" stroke="none" stroke-width="0"/>
<circle cx="192.70" cy="331.50" r="1.00" fill="#dc2a14" stroke="none" stroke-width="0"/>
<circle cx="181.60" cy="334.60" r="1.00" fill="#dc2a14" stroke="none" stroke-width="0"/>
<circle cx="173.00" cy="339.70" r="1.00" fill="#dc2a14" stroke="none" stroke-width="0"/>
<circle cx="184.20" cy="341.20" r="1.00" fill="#dc2a14" stroke="none" stroke-width="0"/>
<circle cx="192.40" cy="340.00" r="1.00" fill="#dc2a14" stroke="none" stroke-width="0"/>
<circle cx="177.00" cy="345.00" r="1.00" fill="#dc2a14" stroke="none" stroke-width="0"/>
<circle cx="190.80" cy="347.00" r="1.00" fill="#dc2a14" stroke="none" stroke-width="0"/>
<circle cx="183.90" cy="349.00" r="1.00" fill="#dc2a14" stroke="none" stroke-width="0"/>
<circle cx="120.10" cy="354.80" r="1.00" fill="#dc2a14" stroke="none" stroke-width="0"/>
<circle cx="115.20" cy="357.80" r="1.00" fill="#dc2a14" stroke="none" stroke-width="0"/>
<circle cx="126.50" cy="357.60" r="1.00" fill="#dc2a14" stroke="none" stroke-width="0"/>
<circle cx="117.70" cy="362.50" r="1.00" fill="#dc2a14" stroke="none" stroke-width="0"/>
<circle cx="123.40" cy="361.70" r="1.00" fill="#dc2a14" stroke="none" stroke-width="0"/>
<circle cx="120.10" cy="366.60" r="1.00" fill="#dc2a14" stroke="none" stroke-width="0"/>
<circle cx="124.90" cy="368.40" r="1.00" fill="#dc2a14" stroke="none" stroke-width="0"/>
<circle cx="118.20" cy="379.90" r="1.00" fill="#dc2a14" stroke="none" stroke-width="0"/>
<circle cx="122.10" cy="379.20" r="1.00" fill="#dc2a14" stroke="none" stroke-width="0"/>
<circle cx="119.60" cy="382.80" r="1.00" fill="#dc2a14" stroke="none" stroke-width="0"/>
<circle cx="125.00" cy="381.30" r="1.00" fill="#dc2a14" stroke="none" stroke-width="0"/>
<circle cx="190.80" cy="367.70" r="1.00" fill="#dc2a14" stroke="none" stroke-width="0"/>
<circle cx="187.30" cy="371.50" r="1.00" fill="#dc2a14" stroke="none" stroke-width="0"/>
<circle cx="195.00" cy="374.60" r="1.00" fill="#dc2a14" stroke="none" stroke-width="0"/>
<circle cx="186.50" cy="376.20" r="1.00" fill="#dc2a14" stroke="none" stroke-width="0"/>
<circle cx="193.50" cy="381.50" r="1.00" fill="#dc2a14" stroke="none" stroke-width="0"/>
<circle cx="171.80" cy="420.30" r="1.00" fill="#dc2a14" stroke="none" stroke-width="0"/>
<circle cx="178.90" cy="418.90" r="1.00" fill="#dc2a14" stroke="none" stroke-width="0"/>
<circle cx="184.80" cy="418.90" r="1.00" fill="#dc2a14" stroke="none" stroke-width="0"/>
<circle cx="166.50" cy="427.20" r="1.00" fill="#dc2a14" stroke="none" stroke-width="0"/>
<circle cx="180.90" cy="426.00" r="1.00" fill="#dc2a14" stroke="none" stroke-width="0"/>
<circle cx="191.50" cy="426.80" r="1.00" fill="#dc2a14" stroke="none" stroke-width="0"/>
<circle cx="161.80" cy="434.50" r="1.00" fill="#dc2a14" stroke="none" stroke-width="0"/>
<circle cx="173.00" cy="433.90" r="1.00" fill="#dc2a14" stroke="none" stroke-width="0"/>
<circle cx="189.50" cy="435.90" r="1.00" fill="#dc2a14" stroke="none" stroke-width="0"/>
<circle cx="180.90" cy="438.60" r="1.00" fill="#dc2a14" stroke="none" stroke-width="0"/>
<circle cx="171.80" cy="440.10" r="1.00" fill="#dc2a14" stroke="none" stroke-width="0"/>
<circle cx="129.80" cy="449.50" r="1.00" fill="#dc2a14" stroke="none" stroke-width="0"/>
<circle cx="135.10" cy="449.50" r="1.00" fill="#dc2a14" stroke="none" stroke-width="0"/>
<circle cx="142.10" cy="450.70" r="1.00" fill="#dc2a14" stroke="none" stroke-width="0"/>
<circle cx="149.90" cy="448.00" r="1.00" fill="#dc2a14" stroke="none" stroke-width="0"/>
<circle cx="156.30" cy="448.60" r="1.00" fill="#dc2a14" stroke="none" stroke-width="0"/>
<circle cx="133.00" cy="453.30" r="1.00" fill="#dc2a14" stroke="none" stroke-width="0"/>
<circle cx="138.70" cy="457.00" r="1.00" fill="#dc2a14" stroke="none" stroke-width="0"/>
<circle cx="145.70" cy="456.40" r="1.00" fill="#dc2a14" stroke="none" stroke-width="0"/>
<circle cx="142.90" cy="461.30" r="1.00" fill="#dc2a14" stroke="none" stroke-width="0"/>
<circle cx="136.20" cy="446.50" r="1.00" fill="#dc2a14" stroke="none" stroke-width="0"/>
<circle cx="88.60" cy="444.40" r="1.00" fill="#dc2a14" stroke="none" stroke-width="0"/>
<circle cx="67.40" cy="456.40" r="1.00" fill="#dc2a14" stroke="none" stroke-width="0"/>
<circle cx="69.50" cy="468.10" r="1.00" fill="#dc2a14" stroke="none" stroke-width="0"/>
<circle cx="81.20" cy="466.40" r="1.00" fill="#dc2a14" stroke="none" stroke-width="0"/>
<circle cx="108.70" cy="463.40" r="1.00" fill="#dc2a14" stroke="none" stroke-width="0"/>
<circle cx="116.10" cy="466.40" r="1.00" fill="#dc2a14" stroke="none" stroke-width="0"/>
<circle cx="276.10" cy="313.10" r="1.00" fill="#dc2a14" stroke="none" stroke-width="0"/>
<circle cx="286.90" cy="310.90" r="1.00" fill="#dc2a14" stroke="none" stroke-width="0"/>
<circle cx="292.50" cy="321.20" r="1.00" fill="#dc2a14" stroke="none" stroke-width="0"/>
<circle cx="269.70" cy="325.20" r="1.00" fill="#dc2a14" stroke="none" stroke-width="0"/>
<circle cx="283.70" cy="327.40" r="1.00" fill="#dc2a14" stroke="none" stroke-width="0"/>
<circle cx="243.30" cy="339.50" r="1.00" fill="#dc2a14" stroke="none" stroke-width="0"/>
<circle cx="238.70" cy="351.60" r="1.00" fill="#dc2a14" stroke="none" stroke-width="0"/>
<circle cx="261.30" cy="347.50" r="1.00" fill="#dc2a14" stroke="none" stroke-width="0"/>
<circle cx="273.70" cy="348.60" r="1.00" fill="#dc2a14" stroke="none" stroke-width="0"/>
<circle cx="255.90" cy="355.60" r="1.00" fill="#dc2a14" stroke="none" stroke-width="0"/>
<circle cx="276.40" cy="358.90" r="1.00" fill="#dc2a14" stroke="none" stroke-width="0"/>
<circle cx="266.70" cy="364.20" r="1.00" fill="#dc2a14" stroke="none" stroke-width="0"/>
<circle cx="124.50" cy="426.50" r="1.00" fill="#dc2a14" stroke="none" stroke-width="0"/>
<circle cx="127.50" cy="431.50" r="1.00" fill="#dc2a14" stroke="none" stroke-width="0"/>
<circle cx="124.80" cy="436.00" r="1.00" fill="#dc2a14" stroke="none" stroke-width="0"/>
<circle cx="130.00" cy="438.50" r="1.00" fill="#dc2a14" stroke="none" stroke-width="0"/>
<circle cx="128.50" cy="427.50" r="1.00" fill="#dc2a14" stroke="none" stroke-width="0"/>
<circle cx="135.00" cy="426.00" r="1.00" fill="#dc2a14" stroke="none" stroke-width="0"/>
<circle cx="146.00" cy="410.00" r="1.00" fill="#dc2a14" stroke="none" stroke-width="0"/>
<circle cx="145.00" cy="438.00" r="1.00" fill="#dc2a14" stroke="none" stroke-width="0"/>
<circle cx="147.70" cy="399.20" r="1.00" fill="#dc2a14" stroke="none" stroke-width="0"/>
<circle cx="141.80" cy="399.70" r="1.00" fill="#dc2a14" stroke="none" stroke-width="0"/>
<circle cx="146.50" cy="403.80" r="1.00" fill="#dc2a14" stroke="none" stroke-width="0"/>
<circle cx="207.70" cy="350.20" r="2.50" fill="#c3c6c9" stroke="none" stroke-width="0"/>
<circle cx="207.70" cy="350.20" r="0.70" fill="#e0a0a0" stroke="none" stroke-width="0"/>
<circle cx="153.60" cy="382.00" r="1.50" fill="#a9abc0" stroke="#2b1d8c" stroke-width="1.45"/>
<circle cx="155.60" cy="382.30" r="1.50" fill="#a9abc0" stroke="#2b1d8c" stroke-width="1.45"/>
<circle cx="162.50" cy="381.00" r="1.50" fill="#a9abc0" stroke="#2b1d8c" stroke-width="1.45"/>
<circle cx="164.20" cy="384.20" r="1.50" fill="#a9abc0" stroke="#2b1d8c" stroke-width="1.45"/>
<circle cx="167.40" cy="384.50" r="1.50" fill="#a9abc0" stroke="#2b1d8c" stroke-width="1.45"/>
<circle cx="149.20" cy="387.20" r="2.50" fill="#e8420e" stroke="#2b1d8c" stroke-width="1.3"/>
<circle cx="154.60" cy="385.20" r="1.50" fill="#a9abc0" stroke="#2b1d8c" stroke-width="1.45"/>
<circle cx="156.40" cy="387.50" r="1.50" fill="#a9abc0" stroke="#2b1d8c" stroke-width="1.45"/>
<circle cx="169.50" cy="388.20" r="1.50" fill="#a9abc0" stroke="#2b1d8c" stroke-width="1.45"/>
<circle cx="146.60" cy="390.40" r="1.50" fill="#a9abc0" stroke="#2b1d8c" stroke-width="1.45"/>
<circle cx="153.60" cy="390.10" r="1.50" fill="#a9abc0" stroke="#2b1d8c" stroke-width="1.45"/>
<circle cx="155.40" cy="391.10" r="1.50" fill="#a9abc0" stroke="#2b1d8c" stroke-width="1.45"/>
<circle cx="164.90" cy="389.60" r="1.50" fill="#a9abc0" stroke="#2b1d8c" stroke-width="1.45"/>
<circle cx="174.30" cy="390.10" r="1.50" fill="#a9abc0" stroke="#2b1d8c" stroke-width="1.45"/>
<circle cx="151.20" cy="393.40" r="1.50" fill="#a9abc0" stroke="#2b1d8c" stroke-width="1.45"/>
<circle cx="154.60" cy="393.60" r="1.50" fill="#a9abc0" stroke="#2b1d8c" stroke-width="1.45"/>
<circle cx="159.30" cy="395.00" r="1.50" fill="#a9abc0" stroke="#2b1d8c" stroke-width="1.45"/>
<circle cx="161.50" cy="392.40" r="1.50" fill="#a9abc0" stroke="#2b1d8c" stroke-width="1.45"/>
<circle cx="140.40" cy="394.10" r="1.50" fill="#a9abc0" stroke="#2b1d8c" stroke-width="1.45"/>
<circle cx="143.60" cy="396.30" r="1.50" fill="#a9abc0" stroke="#2b1d8c" stroke-width="1.45"/>
<circle cx="152.20" cy="398.00" r="1.50" fill="#a9abc0" stroke="#2b1d8c" stroke-width="1.45"/>
<circle cx="155.60" cy="399.00" r="1.50" fill="#a9abc0" stroke="#2b1d8c" stroke-width="1.45"/>
<circle cx="156.60" cy="397.50" r="1.50" fill="#a9abc0" stroke="#2b1d8c" stroke-width="1.45"/>
<circle cx="153.10" cy="400.60" r="2.50" fill="#e8420e" stroke="#2b1d8c" stroke-width="1.3"/>
<circle cx="166.20" cy="400.00" r="1.50" fill="#a9abc0" stroke="#2b1d8c" stroke-width="1.45"/>
<circle cx="164.00" cy="404.40" r="1.50" fill="#a9abc0" stroke="#2b1d8c" stroke-width="1.45"/>
<circle cx="167.40" cy="406.10" r="1.50" fill="#a9abc0" stroke="#2b1d8c" stroke-width="1.45"/>
<circle cx="152.20" cy="407.30" r="2.50" fill="#e8420e" stroke="#2b1d8c" stroke-width="1.3"/>
<circle cx="157.10" cy="407.10" r="2.50" fill="#e8420e" stroke="#2b1d8c" stroke-width="1.3"/>
<circle cx="151.20" cy="413.20" r="1.50" fill="#a9abc0" stroke="#2b1d8c" stroke-width="1.45"/>
<circle cx="155.40" cy="413.00" r="1.50" fill="#a9abc0" stroke="#2b1d8c" stroke-width="1.45"/>
<circle cx="126.90" cy="400.00" r="1.60" fill="#e8420e" stroke="#2b1d8c" stroke-width="1.3"/>
<circle cx="132.80" cy="403.20" r="2.00" fill="#e8420e" stroke="#2b1d8c" stroke-width="1.3"/>
<circle cx="137.50" cy="401.60" r="2.00" fill="#e8420e" stroke="#2b1d8c" stroke-width="1.3"/>
<circle cx="126.10" cy="406.30" r="1.60" fill="#e8420e" stroke="#2b1d8c" stroke-width="1.3"/>
<circle cx="136.90" cy="408.30" r="2.00" fill="#e8420e" stroke="#2b1d8c" stroke-width="1.3"/>
<circle cx="129.30" cy="411.80" r="2.00" fill="#e8420e" stroke="#2b1d8c" stroke-width="1.3"/>
<circle cx="132.20" cy="414.20" r="1.60" fill="#e8420e" stroke="#2b1d8c" stroke-width="1.3"/>
<circle cx="133.40" cy="417.70" r="2.00" fill="#e8420e" stroke="#2b1d8c" stroke-width="1.3"/>
<circle cx="125.10" cy="416.90" r="2.00" fill="#e8420e" stroke="#2b1d8c" stroke-width="1.3"/>
<circle cx="143.40" cy="415.70" r="1.60" fill="#e8420e" stroke="#2b1d8c" stroke-width="1.3"/>
<circle cx="138.10" cy="412.40" r="2.00" fill="#e8420e" stroke="#2b1d8c" stroke-width="1.3"/>
<circle cx="126.10" cy="422.40" r="2.00" fill="#e8420e" stroke="#2b1d8c" stroke-width="1.3"/>
<circle cx="129.80" cy="421.80" r="1.60" fill="#e8420e" stroke="#2b1d8c" stroke-width="1.3"/>
<circle cx="133.40" cy="422.40" r="2.00" fill="#e8420e" stroke="#2b1d8c" stroke-width="1.3"/>
<circle cx="136.90" cy="420.00" r="2.00" fill="#e8420e" stroke="#2b1d8c" stroke-width="1.3"/>
<circle cx="141.00" cy="428.00" r="1.60" fill="#e8420e" stroke="#2b1d8c" stroke-width="1.3"/>
<circle cx="136.90" cy="428.30" r="2.00" fill="#e8420e" stroke="#2b1d8c" stroke-width="1.3"/>
<circle cx="132.20" cy="432.50" r="2.00" fill="#e8420e" stroke="#2b1d8c" stroke-width="1.3"/>
<circle cx="139.90" cy="434.60" r="1.60" fill="#e8420e" stroke="#2b1d8c" stroke-width="1.3"/>
<circle cx="144.20" cy="431.90" r="2.00" fill="#e8420e" stroke="#2b1d8c" stroke-width="1.3"/>
<circle cx="138.10" cy="437.80" r="2.00" fill="#e8420e" stroke="#2b1d8c" stroke-width="1.3"/>
<circle cx="147.50" cy="417.70" r="1.60" fill="#e8420e" stroke="#2b1d8c" stroke-width="1.3"/>
<circle cx="148.70" cy="426.60" r="2.00" fill="#e8420e" stroke="#2b1d8c" stroke-width="1.3"/>
<circle cx="119.80" cy="430.10" r="1.90" fill="#e8420e" stroke="#2b1d8c" stroke-width="1.3"/>
<circle cx="110.80" cy="440.20" r="1.90" fill="#e8420e" stroke="#2b1d8c" stroke-width="1.3"/>
<circle cx="115.40" cy="450.10" r="1.90" fill="#e8420e" stroke="#2b1d8c" stroke-width="1.3"/>
<circle cx="125.60" cy="447.30" r="1.50" fill="#e8420e" stroke="#2b1d8c" stroke-width="1.3"/>
<circle cx="170.00" cy="369.50" r="2.00" fill="#e8420e" stroke="#2b1d8c" stroke-width="1.3"/>
<circle cx="166.20" cy="373.80" r="2.00" fill="#e8420e" stroke="#2b1d8c" stroke-width="1.3"/>
<circle cx="171.20" cy="375.00" r="2.20" fill="#e8420e" stroke="#2b1d8c" stroke-width="1.3"/>
<circle cx="176.50" cy="373.00" r="2.20" fill="#e8420e" stroke="#2b1d8c" stroke-width="1.3"/>
<circle cx="155.80" cy="350.80" r="1.40" fill="#2b1d8c" stroke="none" stroke-width="0"/>
<circle cx="165.30" cy="351.50" r="1.40" fill="#2b1d8c" stroke="none" stroke-width="0"/>
<circle cx="161.90" cy="365.00" r="1.40" fill="#2b1d8c" stroke="none" stroke-width="0"/>
<ellipse cx="0" cy="0" rx="22.70" ry="24.50" transform="translate(86.20,393.20) rotate(0)" fill="none" stroke="#2e2e2e" stroke-width="0.75"/>
<ellipse cx="0" cy="0" rx="10.20" ry="16.00" transform="translate(111.50,412.00) rotate(-8)" fill="none" stroke="#2e2e2e" stroke-width="0.75"/>
<ellipse cx="0" cy="0" rx="14.30" ry="23.20" transform="translate(136.50,419.30) rotate(-8)" fill="none" stroke="#2e2e2e" stroke-width="0.75"/>
<ellipse cx="0" cy="0" rx="19.10" ry="19.90" transform="translate(157.90,396.30) rotate(0)" fill="none" stroke="#2e2e2e" stroke-width="0.75"/>
<ellipse cx="0" cy="0" rx="13.30" ry="17.90" transform="translate(143.90,343.30) rotate(6)" fill="none" stroke="#2e2e2e" stroke-width="0.75"/>
<ellipse cx="0" cy="0" rx="7.60" ry="9.90" transform="translate(161.10,356.30) rotate(0)" fill="none" stroke="#2e2e2e" stroke-width="0.75"/>
<ellipse cx="0" cy="0" rx="14.30" ry="15.40" transform="translate(184.40,339.40) rotate(0)" fill="none" stroke="#2e2e2e" stroke-width="0.75"/>
<ellipse cx="0" cy="0" rx="10.40" ry="9.30" transform="translate(121.40,361.70) rotate(0)" fill="none" stroke="#2e2e2e" stroke-width="0.75"/>
<ellipse cx="0" cy="0" rx="7.40" ry="4.50" transform="translate(121.20,380.90) rotate(-10)" fill="none" stroke="#2e2e2e" stroke-width="0.75"/>
<ellipse cx="0" cy="0" rx="8.40" ry="6.00" transform="translate(171.00,371.70) rotate(-10)" fill="none" stroke="#2e2e2e" stroke-width="0.75"/>
<ellipse cx="0" cy="0" rx="7.60" ry="10.90" transform="translate(189.80,373.70) rotate(-8)" fill="none" stroke="#2e2e2e" stroke-width="0.75"/>
<ellipse cx="0" cy="0" rx="21.40" ry="15.20" transform="translate(177.70,429.80) rotate(-14)" fill="none" stroke="#2e2e2e" stroke-width="0.75"/>
<ellipse cx="0" cy="0" rx="18.30" ry="10.80" transform="translate(142.80,452.20) rotate(-12)" fill="none" stroke="#2e2e2e" stroke-width="0.75"/>
<ellipse cx="0" cy="0" rx="19.00" ry="11.20" transform="translate(78.30,457.00) rotate(-50)" fill="none" stroke="#2e2e2e" stroke-width="0.75"/>
<ellipse cx="0" cy="0" rx="13.00" ry="7.80" transform="translate(116.90,445.90) rotate(25)" fill="none" stroke="#2e2e2e" stroke-width="0.75"/>
<ellipse cx="0" cy="0" rx="7.90" ry="4.40" transform="translate(112.40,464.70) rotate(5)" fill="none" stroke="#2e2e2e" stroke-width="0.75"/>
<ellipse cx="0" cy="0" rx="16.60" ry="11.80" transform="translate(281.20,320.30) rotate(-20)" fill="none" stroke="#2e2e2e" stroke-width="0.75"/>
<ellipse cx="0" cy="0" rx="27.00" ry="15.20" transform="translate(257.90,352.50) rotate(20)" fill="none" stroke="#2e2e2e" stroke-width="0.75"/>
<line x1="80.00" y1="335.00" x2="116.20" y2="378.90" stroke="#2e2e2e" stroke-width="0.7"/>
<line x1="167.40" y1="306.90" x2="161.20" y2="346.20" stroke="#2e2e2e" stroke-width="0.7"/>
<line x1="177.30" y1="367.00" x2="185.00" y2="359.20" stroke="#2e2e2e" stroke-width="0.7"/>
<line x1="86.50" y1="427.60" x2="104.80" y2="421.70" stroke="#2e2e2e" stroke-width="0.7"/>
<line x1="146.00" y1="433.00" x2="196.20" y2="469.30" stroke="#2e2e2e" stroke-width="0.7"/>
<line x1="125.30" y1="493.50" x2="119.50" y2="454.00" stroke="#2e2e2e" stroke-width="0.7"/>
<text x="150.70" y="299.30" font-size="5.0" fill="#231f20" text-anchor="start" textLength="33.30" lengthAdjust="spacingAndGlyphs" stroke="#231f20" stroke-width="0.08">mitotic spindle</text>
<text x="155.00" y="305.90" font-size="5.0" fill="#231f20" text-anchor="start" textLength="24.90" lengthAdjust="spacingAndGlyphs" stroke="#231f20" stroke-width="0.08">orientation</text>
<text x="125.00" y="319.00" font-size="5.0" fill="#231f20" text-anchor="start" textLength="37.00" lengthAdjust="spacingAndGlyphs" stroke="#231f20" stroke-width="0.08">protein complex</text>
<text x="133.00" y="325.20" font-size="5.0" fill="#231f20" text-anchor="start" textLength="21.00" lengthAdjust="spacingAndGlyphs" stroke="#231f20" stroke-width="0.08">assembly</text>
<text x="177.60" y="323.30" font-size="5.0" fill="#cc2238" text-anchor="start" textLength="16.10" lengthAdjust="spacingAndGlyphs" stroke="#cc2238" stroke-width="0.08">mitosis</text>
<text x="101.15" y="345.10" font-size="5.0" fill="#231f20" text-anchor="start" textLength="27.05" lengthAdjust="spacingAndGlyphs" stroke="#231f20" stroke-width="0.08">response to</text>
<text x="103.15" y="351.35" font-size="5.0" fill="#231f20" text-anchor="start" textLength="22.55" lengthAdjust="spacingAndGlyphs" stroke="#231f20" stroke-width="0.08">chemicals</text>
<text x="41.90" y="328.60" font-size="5.0" fill="#cc2238" text-anchor="start" textLength="43.80" lengthAdjust="spacingAndGlyphs" stroke="#cc2238" stroke-width="0.08">catabolic processes</text>
<text x="48.65" y="334.60" font-size="5.0" fill="#cc2238" text-anchor="start" textLength="30.30" lengthAdjust="spacingAndGlyphs" stroke="#cc2238" stroke-width="0.08">(nucleotides)</text>
<text x="29.90" y="361.60" font-size="5.0" fill="#231f20" text-anchor="start" textLength="44.05" lengthAdjust="spacingAndGlyphs" stroke="#231f20" stroke-width="0.08">negative regulation</text>
<text x="24.40" y="367.60" font-size="5.0" fill="#231f20" text-anchor="start" textLength="53.80" lengthAdjust="spacingAndGlyphs" stroke="#231f20" stroke-width="0.08">of leukocyte (e.g. B-cell)</text>
<text x="41.15" y="373.85" font-size="5.0" fill="#231f20" text-anchor="start" textLength="21.05" lengthAdjust="spacingAndGlyphs" stroke="#231f20" stroke-width="0.08">activation</text>
<text x="186.90" y="361.10" font-size="5.0" fill="#231f20" text-anchor="start" textLength="40.80" lengthAdjust="spacingAndGlyphs" stroke="#231f20" stroke-width="0.08">actin organization</text>
<text x="185.70" y="391.80" font-size="5.0" fill="#231f20" text-anchor="start" textLength="43.40" lengthAdjust="spacingAndGlyphs" stroke="#231f20" stroke-width="0.08">cellular localization</text>
<text x="177.90" y="406.30" font-size="5.0" fill="#231f20" text-anchor="start" textLength="35.30" lengthAdjust="spacingAndGlyphs" stroke="#231f20" stroke-width="0.08">morphogenesis</text>
<text x="191.40" y="447.40" font-size="5.0" fill="#231f20" text-anchor="start" textLength="44.90" lengthAdjust="spacingAndGlyphs" stroke="#231f20" stroke-width="0.08">development of the</text>
<text x="191.40" y="454.10" font-size="5.0" fill="#231f20" text-anchor="start" textLength="46.50" lengthAdjust="spacingAndGlyphs" stroke="#231f20" stroke-width="0.08">reproductive system</text>
<text x="195.60" y="476.70" font-size="5.0" fill="#231f20" text-anchor="start" textLength="45.80" lengthAdjust="spacingAndGlyphs" stroke="#231f20" stroke-width="0.08">metabolic processes</text>
<text x="106.40" y="501.00" font-size="5.0" fill="#231f20" text-anchor="start" textLength="42.60" lengthAdjust="spacingAndGlyphs" stroke="#231f20" stroke-width="0.08">response to stress</text>
<text x="264.40" y="299.80" font-size="5.0" fill="#231f20" text-anchor="start" textLength="45.10" lengthAdjust="spacingAndGlyphs" stroke="#231f20" stroke-width="0.08">metabolic processes</text>
<text x="278.90" y="306.30" font-size="5.0" fill="#231f20" text-anchor="start" textLength="16.30" lengthAdjust="spacingAndGlyphs" stroke="#231f20" stroke-width="0.08">(lipids)</text>
<text x="245.20" y="376.80" font-size="5.0" fill="#cc2238" text-anchor="start" textLength="46.20" lengthAdjust="spacingAndGlyphs" stroke="#cc2238" stroke-width="0.08">metabolic processes</text>
<text x="248.70" y="383.30" font-size="5.0" fill="#cc2238" text-anchor="start" textLength="39.50" lengthAdjust="spacingAndGlyphs" stroke="#cc2238" stroke-width="0.08">(small molecules)</text>
<text x="41.40" y="431.40" font-size="5.0" fill="#cc2238" text-anchor="start" textLength="43.80" lengthAdjust="spacingAndGlyphs" stroke="#cc2238" stroke-width="0.08">negative regulation</text>
<text x="47.60" y="437.70" font-size="5.0" fill="#cc2238" text-anchor="start" textLength="30.10" lengthAdjust="spacingAndGlyphs" stroke="#cc2238" stroke-width="0.08">of apoptosis</text>
<text x="39.90" y="479.20" font-size="5.0" fill="#cc2238" text-anchor="start" textLength="29.50" lengthAdjust="spacingAndGlyphs" stroke="#cc2238" stroke-width="0.08">DNA binding</text>
<text x="96.10" y="476.80" font-size="5.0" fill="#cc2238" text-anchor="start" textLength="25.10" lengthAdjust="spacingAndGlyphs" stroke="#cc2238" stroke-width="0.08">DNA repair</text>
<text x="131.40" y="471.60" font-size="5.0" fill="#cc2238" text-anchor="start" textLength="45.30" lengthAdjust="spacingAndGlyphs" stroke="#cc2238" stroke-width="0.08">DNA replication and</text>
<text x="139.70" y="478.10" font-size="5.0" fill="#cc2238" text-anchor="start" textLength="28.60" lengthAdjust="spacingAndGlyphs" stroke="#cc2238" stroke-width="0.08">transcription;</text>
<text x="135.20" y="484.40" font-size="5.0" fill="#cc2238" text-anchor="start" textLength="37.30" lengthAdjust="spacingAndGlyphs" stroke="#cc2238" stroke-width="0.08">RNA processing</text>
<text x="340.50" y="313.20" font-size="7.7" fill="#231f20" text-anchor="start" textLength="65.80" lengthAdjust="spacingAndGlyphs" stroke="#231f20" stroke-width="0.1">Enrichment scores of</text>
<text x="340.50" y="322.20" font-size="7.7" fill="#231f20" text-anchor="start" textLength="108.50" lengthAdjust="spacingAndGlyphs" stroke="#231f20" stroke-width="0.1">GO-terms based on DE genes from</text>
<circle cx="348.40" cy="340.50" r="3.30" fill="#e8b4bc" stroke="none" stroke-width="0"/>
<circle cx="348.40" cy="349.80" r="3.80" fill="#d86870" stroke="none" stroke-width="0"/>
<circle cx="348.40" cy="360.40" r="4.50" fill="#cc2428" stroke="none" stroke-width="0"/>
<circle cx="348.40" cy="372.20" r="5.40" fill="#cc3018" stroke="none" stroke-width="0"/>
<text x="372.70" y="343.80" font-size="7.4" fill="#c8463a" text-anchor="start" textLength="43.20" lengthAdjust="spacingAndGlyphs" stroke="#c8463a" stroke-width="0.1">up-regulation</text>
<text x="372.70" y="351.80" font-size="7.4" fill="#c8463a" text-anchor="start" textLength="40.80" lengthAdjust="spacingAndGlyphs" stroke="#c8463a" stroke-width="0.1">by mt FOXO1</text>
<text x="358.00" y="375.50" font-size="7.5" fill="#231f20" text-anchor="start" textLength="24.00" lengthAdjust="spacingAndGlyphs" stroke="#231f20" stroke-width="0.1">highest</text>
<circle cx="348.40" cy="389.10" r="3.10" fill="#ffffff" stroke="#6c6cac" stroke-width="0.6"/>
<circle cx="348.40" cy="389.10" r="2.30" fill="#a9a9a9" stroke="none" stroke-width="0"/>
<circle cx="348.40" cy="398.30" r="3.85" fill="#ffffff" stroke="#3a3a92" stroke-width="0.9"/>
<circle cx="348.40" cy="398.30" r="2.00" fill="#a9a9a9" stroke="none" stroke-width="0"/>
<circle cx="348.40" cy="408.70" r="4.67" fill="#ffffff" stroke="#2a2a84" stroke-width="1.05"/>
<circle cx="348.40" cy="408.70" r="2.00" fill="#a9a9a9" stroke="none" stroke-width="0"/>
<circle cx="348.40" cy="420.90" r="5.58" fill="#ffffff" stroke="#22227c" stroke-width="1.25"/>
<circle cx="348.40" cy="420.90" r="2.00" fill="#a9a9a9" stroke="none" stroke-width="0"/>
<text x="372.70" y="392.30" font-size="7.4" fill="#3a3a8e" text-anchor="start" textLength="51.20" lengthAdjust="spacingAndGlyphs" stroke="#3a3a8e" stroke-width="0.1">down-regulation</text>
<text x="372.70" y="400.60" font-size="7.4" fill="#3a3a8e" text-anchor="start" textLength="40.80" lengthAdjust="spacingAndGlyphs" stroke="#3a3a8e" stroke-width="0.1">by mt FOXO1</text>
<text x="358.00" y="423.75" font-size="7.5" fill="#231f20" text-anchor="start" textLength="24.00" lengthAdjust="spacingAndGlyphs" stroke="#231f20" stroke-width="0.1">highest</text>
<rect x="0.65" y="0.65" width="518.7" height="507.7" fill="none" stroke="#363636" stroke-width="1.3"/>
</svg>
</body></html>
